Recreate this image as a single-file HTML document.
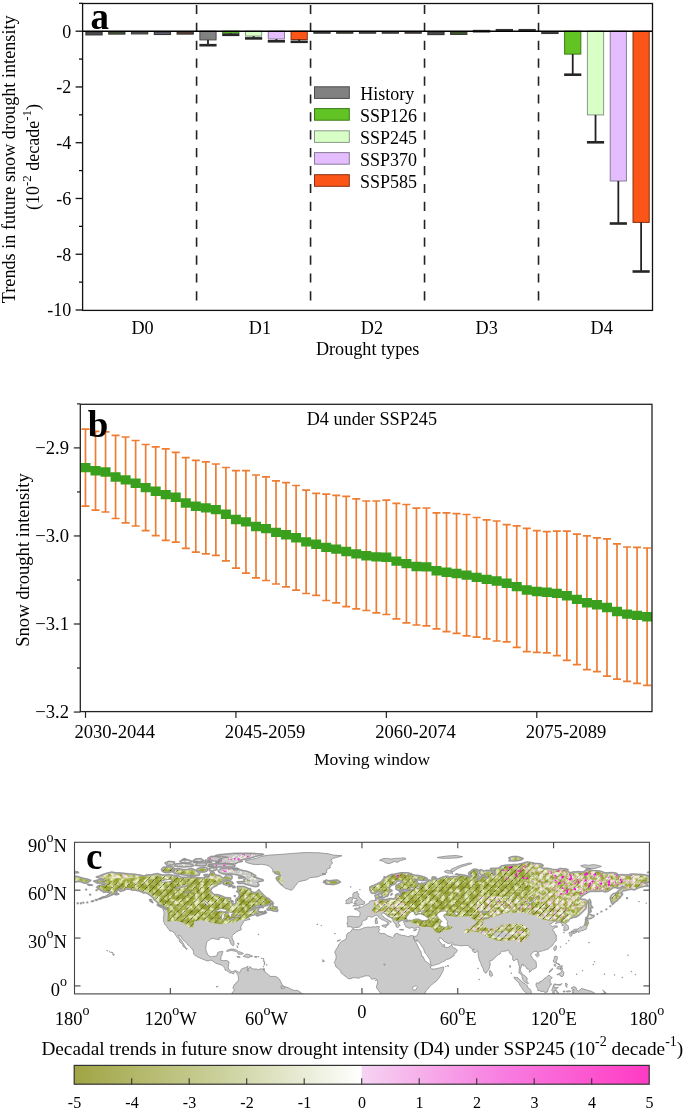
<!DOCTYPE html>
<html><head><meta charset="utf-8"><style>
html,body{margin:0;padding:0;background:#fff;}
body{width:685px;height:1111px;overflow:hidden;font-family:"Liberation Serif",serif;}
svg{display:block;will-change:transform;}
</style></head><body>
<svg width="685" height="1111" viewBox="0 0 685 1111">
<rect width="685" height="1111" fill="#fff"/>
<rect x="85.90" y="32.10" width="16.2" height="2.80" fill="#4c4c4c" stroke="#353535" stroke-width="1.1"/>
<rect x="108.70" y="32.10" width="16.2" height="2.00" fill="#42612e" stroke="#353535" stroke-width="1.1"/>
<rect x="131.50" y="32.10" width="16.2" height="1.80" fill="#677462" stroke="#353535" stroke-width="1.1"/>
<rect x="154.30" y="32.10" width="16.2" height="2.40" fill="#6b5f74" stroke="#353535" stroke-width="1.1"/>
<rect x="177.10" y="32.10" width="16.2" height="2.00" fill="#733e2a" stroke="#353535" stroke-width="1.1"/>
<rect x="199.88" y="31.20" width="16.2" height="8.70" fill="#808180" stroke="#4a4a4a" stroke-width="1"/>
<line x1="207.98" y1="39.90" x2="207.98" y2="45.20" stroke="#222" stroke-width="1.8"/>
<line x1="199.38" y1="45.20" x2="216.58" y2="45.20" stroke="#262626" stroke-width="2.6"/>
<rect x="222.68" y="31.20" width="16.2" height="2.00" fill="#62c424" stroke="#3a7a18" stroke-width="1"/>
<line x1="230.78" y1="33.20" x2="230.78" y2="34.80" stroke="#222" stroke-width="1.8"/>
<line x1="222.18" y1="34.80" x2="239.38" y2="34.80" stroke="#262626" stroke-width="2.6"/>
<rect x="245.48" y="31.20" width="16.2" height="4.90" fill="#d7ffc6" stroke="#8a9a88" stroke-width="1"/>
<line x1="253.58" y1="36.10" x2="253.58" y2="38.40" stroke="#222" stroke-width="1.8"/>
<line x1="244.98" y1="38.40" x2="262.18" y2="38.40" stroke="#262626" stroke-width="2.6"/>
<rect x="268.28" y="31.20" width="16.2" height="7.80" fill="#e3bdfd" stroke="#8a7a9a" stroke-width="1"/>
<line x1="276.38" y1="39.00" x2="276.38" y2="41.30" stroke="#222" stroke-width="1.8"/>
<line x1="267.78" y1="41.30" x2="284.98" y2="41.30" stroke="#262626" stroke-width="2.6"/>
<rect x="291.08" y="31.20" width="16.2" height="8.30" fill="#fb5518" stroke="#8a3010" stroke-width="1"/>
<line x1="299.18" y1="39.50" x2="299.18" y2="41.80" stroke="#222" stroke-width="1.8"/>
<line x1="290.58" y1="41.80" x2="307.78" y2="41.80" stroke="#262626" stroke-width="2.6"/>
<rect x="313.86" y="31.90" width="16.2" height="1.30" fill="#4c4c4c" stroke="#353535" stroke-width="1.1"/>
<rect x="336.66" y="31.90" width="16.2" height="1.30" fill="#42612e" stroke="#353535" stroke-width="1.1"/>
<rect x="359.46" y="31.90" width="16.2" height="1.30" fill="#677462" stroke="#353535" stroke-width="1.1"/>
<rect x="382.26" y="31.90" width="16.2" height="1.30" fill="#6b5f74" stroke="#353535" stroke-width="1.1"/>
<rect x="405.06" y="31.90" width="16.2" height="1.30" fill="#733e2a" stroke="#353535" stroke-width="1.1"/>
<rect x="427.84" y="31.90" width="16.2" height="2.70" fill="#4c4c4c" stroke="#353535" stroke-width="1.1"/>
<rect x="450.64" y="31.90" width="16.2" height="2.50" fill="#42612e" stroke="#353535" stroke-width="1.1"/>
<rect x="473.44" y="30.40" width="16.2" height="1.60" fill="#677462" stroke="#353535" stroke-width="1.1"/>
<rect x="496.24" y="29.50" width="16.2" height="1.20" fill="#6b5f74" stroke="#353535" stroke-width="1.1"/>
<rect x="519.04" y="29.50" width="16.2" height="1.20" fill="#733e2a" stroke="#353535" stroke-width="1.1"/>
<rect x="541.82" y="31.90" width="16.2" height="1.60" fill="#4c4c4c" stroke="#353535" stroke-width="1.1"/>
<rect x="564.62" y="31.20" width="16.2" height="22.90" fill="#62c424" stroke="#3a7a18" stroke-width="1"/>
<line x1="572.72" y1="54.10" x2="572.72" y2="74.70" stroke="#222" stroke-width="1.8"/>
<line x1="564.12" y1="74.70" x2="581.32" y2="74.70" stroke="#262626" stroke-width="2.6"/>
<rect x="587.42" y="31.20" width="16.2" height="83.70" fill="#d7ffc6" stroke="#8a9a88" stroke-width="1"/>
<line x1="595.52" y1="114.90" x2="595.52" y2="142.30" stroke="#222" stroke-width="1.8"/>
<line x1="586.92" y1="142.30" x2="604.12" y2="142.30" stroke="#262626" stroke-width="2.6"/>
<rect x="610.22" y="31.20" width="16.2" height="149.80" fill="#e3bdfd" stroke="#8a7a9a" stroke-width="1"/>
<line x1="618.32" y1="181.00" x2="618.32" y2="223.50" stroke="#222" stroke-width="1.8"/>
<line x1="609.72" y1="223.50" x2="626.92" y2="223.50" stroke="#262626" stroke-width="2.6"/>
<rect x="633.02" y="31.20" width="16.2" height="191.20" fill="#fb5518" stroke="#8a3010" stroke-width="1"/>
<line x1="641.12" y1="222.40" x2="641.12" y2="271.50" stroke="#222" stroke-width="1.8"/>
<line x1="632.52" y1="271.50" x2="649.72" y2="271.50" stroke="#262626" stroke-width="2.6"/>
<line x1="196.58" y1="4.9" x2="196.58" y2="302" stroke="#222" stroke-width="1.6" stroke-dasharray="9.2 8.7"/>
<line x1="310.56" y1="4.9" x2="310.56" y2="302" stroke="#222" stroke-width="1.6" stroke-dasharray="9.2 8.7"/>
<line x1="424.54" y1="4.9" x2="424.54" y2="302" stroke="#222" stroke-width="1.6" stroke-dasharray="9.2 8.7"/>
<line x1="538.52" y1="4.9" x2="538.52" y2="302" stroke="#222" stroke-width="1.6" stroke-dasharray="9.2 8.7"/>
<line x1="82.6" y1="31.2" x2="652.5" y2="31.2" stroke="#000" stroke-width="1.5"/>
<rect x="82.6" y="3.5" width="569.90" height="306.90" fill="none" stroke="#111" stroke-width="1.3"/>
<line x1="75.60" y1="310.00" x2="82.6" y2="310.00" stroke="#111" stroke-width="1.3"/>
<text x="71.3" y="316.40" text-anchor="end" font-size="18" font-family="'Liberation Serif', serif" fill="#000">-10</text>
<line x1="79.00" y1="282.12" x2="82.6" y2="282.12" stroke="#111" stroke-width="1.3"/>
<line x1="75.60" y1="254.24" x2="82.6" y2="254.24" stroke="#111" stroke-width="1.3"/>
<text x="71.3" y="260.64" text-anchor="end" font-size="18" font-family="'Liberation Serif', serif" fill="#000">-8</text>
<line x1="79.00" y1="226.36" x2="82.6" y2="226.36" stroke="#111" stroke-width="1.3"/>
<line x1="75.60" y1="198.48" x2="82.6" y2="198.48" stroke="#111" stroke-width="1.3"/>
<text x="71.3" y="204.88" text-anchor="end" font-size="18" font-family="'Liberation Serif', serif" fill="#000">-6</text>
<line x1="79.00" y1="170.60" x2="82.6" y2="170.60" stroke="#111" stroke-width="1.3"/>
<line x1="75.60" y1="142.72" x2="82.6" y2="142.72" stroke="#111" stroke-width="1.3"/>
<text x="71.3" y="149.12" text-anchor="end" font-size="18" font-family="'Liberation Serif', serif" fill="#000">-4</text>
<line x1="79.00" y1="114.84" x2="82.6" y2="114.84" stroke="#111" stroke-width="1.3"/>
<line x1="75.60" y1="86.96" x2="82.6" y2="86.96" stroke="#111" stroke-width="1.3"/>
<text x="71.3" y="93.36" text-anchor="end" font-size="18" font-family="'Liberation Serif', serif" fill="#000">-2</text>
<line x1="79.00" y1="59.08" x2="82.6" y2="59.08" stroke="#111" stroke-width="1.3"/>
<line x1="75.60" y1="31.20" x2="82.6" y2="31.20" stroke="#111" stroke-width="1.3"/>
<text x="71.3" y="37.60" text-anchor="end" font-size="18" font-family="'Liberation Serif', serif" fill="#000">0</text>
<line x1="79.00" y1="3.32" x2="82.6" y2="3.32" stroke="#111" stroke-width="1.3"/>
<text x="131.45" y="333.6" font-size="18.2" font-family="'Liberation Serif', serif" fill="#000">D0</text>
<text x="248.75" y="333.6" font-size="18.2" font-family="'Liberation Serif', serif" fill="#000">D1</text>
<text x="360.75" y="333.6" font-size="18.2" font-family="'Liberation Serif', serif" fill="#000">D2</text>
<text x="475.55" y="333.6" font-size="18.2" font-family="'Liberation Serif', serif" fill="#000">D3</text>
<text x="590.55" y="333.6" font-size="18.2" font-family="'Liberation Serif', serif" fill="#000">D4</text>
<text x="315.9" y="355" font-size="18.2" font-family="'Liberation Serif', serif" fill="#000">Drought types</text>
<text transform="translate(15,159.3) rotate(-90)" text-anchor="middle" font-size="18.2" font-family="'Liberation Serif', serif" fill="#000">Trends in future snow drought intensity</text>
<text transform="translate(39,157) rotate(-90)" text-anchor="middle" font-size="18" font-family="'Liberation Serif', serif" fill="#000">(10<tspan dy="-8.5" font-size="13">-2</tspan><tspan dy="8.5"> decade</tspan><tspan dy="-8.5" font-size="13">-1</tspan><tspan dy="8.5">)</tspan></text>
<text x="90.6" y="28.8" font-size="37" font-weight="bold" font-family="'Liberation Serif', serif" fill="#000">a</text>
<rect x="314.5" y="86.8" width="34.8" height="11.6" fill="#808180" stroke="#4a4a4a" stroke-width="1"/>
<text x="360.2" y="99.7" font-size="18" font-family="'Liberation Serif', serif" fill="#000">History</text>
<rect x="314.5" y="108.6" width="34.8" height="11.6" fill="#62c424" stroke="#3a7a18" stroke-width="1"/>
<text x="359.9" y="121.5" font-size="18" font-family="'Liberation Serif', serif" fill="#000">SSP126</text>
<rect x="314.5" y="130.8" width="34.8" height="11.6" fill="#d7ffc6" stroke="#8a9a88" stroke-width="1"/>
<text x="359.9" y="143.7" font-size="18" font-family="'Liberation Serif', serif" fill="#000">SSP245</text>
<rect x="314.5" y="152.6" width="34.8" height="11.6" fill="#e3bdfd" stroke="#8a7a9a" stroke-width="1"/>
<text x="359.9" y="165.5" font-size="18" font-family="'Liberation Serif', serif" fill="#000">SSP370</text>
<rect x="314.5" y="174.7" width="34.8" height="11.6" fill="#fb5518" stroke="#8a3010" stroke-width="1"/>
<text x="359.9" y="187.6" font-size="18" font-family="'Liberation Serif', serif" fill="#000">SSP585</text>
<clipPath id="cb"><rect x="80.3" y="404.3" width="571.70" height="307.30"/></clipPath>
<g clip-path="url(#cb)"><path d="M85.50 429.10V506.20M81.50 429.10h8M81.50 506.20h8M95.53 431.40V510.20M91.53 431.40h8M91.53 510.20h8M105.56 431.90V512.00M101.56 431.90h8M101.56 512.00h8M115.59 435.40V518.50M111.59 435.40h8M111.59 518.50h8M125.61 437.00V522.80M121.61 437.00h8M121.61 522.80h8M135.64 440.50V526.00M131.64 440.50h8M131.64 526.00h8M145.67 444.50V530.70M141.67 444.50h8M141.67 530.70h8M155.70 446.80V535.60M151.70 446.80h8M151.70 535.60h8M165.73 448.90V540.40M161.73 448.90h8M161.73 540.40h8M175.76 452.40V542.10M171.76 452.40h8M171.76 542.10h8M185.79 457.70V548.40M181.79 457.70h8M181.79 548.40h8M195.81 460.40V552.20M191.81 460.40h8M191.81 552.20h8M205.84 461.90V553.90M201.84 461.90h8M201.84 553.90h8M215.87 464.00V555.30M211.87 464.00h8M211.87 555.30h8M225.90 467.50V560.90M221.90 467.50h8M221.90 560.90h8M235.93 470.70V568.20M231.93 470.70h8M231.93 568.20h8M245.96 470.70V573.10M241.96 470.70h8M241.96 573.10h8M255.99 475.00V577.90M251.99 475.00h8M251.99 577.90h8M266.01 476.80V580.50M262.01 476.80h8M262.01 580.50h8M276.04 480.80V584.00M272.04 480.80h8M272.04 584.00h8M286.07 482.60V586.80M282.07 482.60h8M282.07 586.80h8M296.10 485.50V590.10M292.10 485.50h8M292.10 590.10h8M306.13 490.20V593.50M302.13 490.20h8M302.13 593.50h8M316.16 493.30V595.30M312.16 493.30h8M312.16 595.30h8M326.19 494.20V600.50M322.19 494.20h8M322.19 600.50h8M336.21 495.40V602.80M332.21 495.40h8M332.21 602.80h8M346.24 496.30V606.70M342.24 496.30h8M342.24 606.70h8M356.27 498.90V608.80M352.27 498.90h8M352.27 608.80h8M366.30 501.00V610.50M362.30 501.00h8M362.30 610.50h8M376.33 501.00V612.80M372.33 501.00h8M372.33 612.80h8M386.36 500.10V614.50M382.36 500.10h8M382.36 614.50h8M396.39 503.30V618.90M392.39 503.30h8M392.39 618.90h8M406.41 504.50V622.80M402.41 504.50h8M402.41 622.80h8M416.44 508.10V625.00M412.44 508.10h8M412.44 625.00h8M426.47 508.00V625.80M422.47 508.00h8M422.47 625.80h8M436.50 512.80V628.80M432.50 512.80h8M432.50 628.80h8M446.53 512.80V631.60M442.53 512.80h8M442.53 631.60h8M456.56 513.70V633.30M452.56 513.70h8M452.56 633.30h8M466.59 514.50V635.80M462.59 514.50h8M462.59 635.80h8M476.61 517.50V637.20M472.61 517.50h8M472.61 637.20h8M486.64 519.80V638.90M482.64 519.80h8M482.64 638.90h8M496.67 521.00V641.00M492.67 521.00h8M492.67 641.00h8M506.70 524.70V641.90M502.70 524.70h8M502.70 641.90h8M516.73 525.90V647.30M512.73 525.90h8M512.73 647.30h8M526.76 528.40V651.60M522.76 528.40h8M522.76 651.60h8M536.79 530.70V652.30M532.79 530.70h8M532.79 652.30h8M546.81 531.70V652.90M542.81 531.70h8M542.81 652.90h8M556.84 531.10V655.70M552.84 531.10h8M552.84 655.70h8M566.87 531.10V660.40M562.87 531.10h8M562.87 660.40h8M576.90 534.10V664.70M572.90 534.10h8M572.90 664.70h8M586.93 535.80V669.60M582.93 535.80h8M582.93 669.60h8M596.96 537.80V671.70M592.96 537.80h8M592.96 671.70h8M606.99 538.80V676.20M602.99 538.80h8M602.99 676.20h8M617.01 543.90V679.20M613.01 543.90h8M613.01 679.20h8M627.04 547.00V681.30M623.04 547.00h8M623.04 681.30h8M637.07 547.40V683.30M633.07 547.40h8M633.07 683.30h8M647.10 548.00V685.40M643.10 548.00h8M643.10 685.40h8" stroke="#ee7d31" stroke-width="1.7" fill="none"/>
<path d="M80.50 462.95h10v9.4h-10zM90.53 466.10h10v9.4h-10zM100.56 467.25h10v9.4h-10zM110.59 472.25h10v9.4h-10zM120.61 475.20h10v9.4h-10zM130.64 478.55h10v9.4h-10zM140.67 482.90h10v9.4h-10zM150.70 486.50h10v9.4h-10zM160.73 489.95h10v9.4h-10zM170.76 492.55h10v9.4h-10zM180.79 498.35h10v9.4h-10zM190.81 501.60h10v9.4h-10zM200.84 503.20h10v9.4h-10zM210.87 504.95h10v9.4h-10zM220.90 509.50h10v9.4h-10zM230.93 514.75h10v9.4h-10zM240.96 517.20h10v9.4h-10zM250.99 521.75h10v9.4h-10zM261.01 523.95h10v9.4h-10zM271.04 527.70h10v9.4h-10zM281.07 530.00h10v9.4h-10zM291.10 533.10h10v9.4h-10zM301.13 537.15h10v9.4h-10zM311.16 539.60h10v9.4h-10zM321.19 542.65h10v9.4h-10zM331.21 544.40h10v9.4h-10zM341.24 546.80h10v9.4h-10zM351.27 549.15h10v9.4h-10zM361.30 551.05h10v9.4h-10zM371.33 552.20h10v9.4h-10zM381.36 552.60h10v9.4h-10zM391.39 556.40h10v9.4h-10zM401.41 558.95h10v9.4h-10zM411.44 561.85h10v9.4h-10zM421.47 562.20h10v9.4h-10zM431.50 566.10h10v9.4h-10zM441.53 567.50h10v9.4h-10zM451.56 568.80h10v9.4h-10zM461.59 570.45h10v9.4h-10zM471.61 572.65h10v9.4h-10zM481.64 574.65h10v9.4h-10zM491.67 576.30h10v9.4h-10zM501.70 578.60h10v9.4h-10zM511.73 581.90h10v9.4h-10zM521.76 585.30h10v9.4h-10zM531.79 586.80h10v9.4h-10zM541.81 587.60h10v9.4h-10zM551.84 588.70h10v9.4h-10zM561.87 591.05h10v9.4h-10zM571.90 594.70h10v9.4h-10zM581.93 598.00h10v9.4h-10zM591.96 600.05h10v9.4h-10zM601.99 602.80h10v9.4h-10zM612.01 606.85h10v9.4h-10zM622.04 609.45h10v9.4h-10zM632.07 610.65h10v9.4h-10zM642.10 612.00h10v9.4h-10z" fill="#3a9f1d"/></g>
<rect x="80.3" y="404.3" width="571.70" height="307.30" fill="none" stroke="#222" stroke-width="1.3"/>
<line x1="77.00" y1="403.88" x2="80.3" y2="403.88" stroke="#222" stroke-width="1.2"/>
<line x1="73.80" y1="447.90" x2="80.3" y2="447.90" stroke="#222" stroke-width="1.2"/>
<text x="69" y="453.90" text-anchor="end" font-size="18.6" font-family="'Liberation Serif', serif" fill="#000">−2.9</text>
<line x1="77.00" y1="491.93" x2="80.3" y2="491.93" stroke="#222" stroke-width="1.2"/>
<line x1="73.80" y1="535.95" x2="80.3" y2="535.95" stroke="#222" stroke-width="1.2"/>
<text x="69" y="541.95" text-anchor="end" font-size="18.6" font-family="'Liberation Serif', serif" fill="#000">−3.0</text>
<line x1="77.00" y1="579.98" x2="80.3" y2="579.98" stroke="#222" stroke-width="1.2"/>
<line x1="73.80" y1="624.00" x2="80.3" y2="624.00" stroke="#222" stroke-width="1.2"/>
<text x="69" y="630.00" text-anchor="end" font-size="18.6" font-family="'Liberation Serif', serif" fill="#000">−3.1</text>
<line x1="77.00" y1="668.03" x2="80.3" y2="668.03" stroke="#222" stroke-width="1.2"/>
<line x1="73.80" y1="712.05" x2="80.3" y2="712.05" stroke="#222" stroke-width="1.2"/>
<text x="69" y="718.05" text-anchor="end" font-size="18.6" font-family="'Liberation Serif', serif" fill="#000">−3.2</text>
<line x1="85.50" y1="711.6" x2="85.50" y2="717.90" stroke="#222" stroke-width="1.2"/>
<text x="74.40" y="738" font-size="18.6" font-family="'Liberation Serif', serif" fill="#000">2030-2044</text>
<line x1="235.93" y1="711.6" x2="235.93" y2="717.90" stroke="#222" stroke-width="1.2"/>
<text x="224.83" y="738" font-size="18.6" font-family="'Liberation Serif', serif" fill="#000">2045-2059</text>
<line x1="386.36" y1="711.6" x2="386.36" y2="717.90" stroke="#222" stroke-width="1.2"/>
<text x="375.26" y="738" font-size="18.6" font-family="'Liberation Serif', serif" fill="#000">2060-2074</text>
<line x1="536.79" y1="711.6" x2="536.79" y2="717.90" stroke="#222" stroke-width="1.2"/>
<text x="525.69" y="738" font-size="18.6" font-family="'Liberation Serif', serif" fill="#000">2075-2089</text>
<text x="314" y="765.3" font-size="17.5" font-family="'Liberation Serif', serif" fill="#000">Moving window</text>
<text x="306.7" y="424.6" font-size="18.2" font-family="'Liberation Serif', serif" fill="#000">D4 under SSP245</text>
<text transform="translate(28.7,560) rotate(-90)" text-anchor="middle" font-size="18.6" font-family="'Liberation Serif', serif" fill="#000">Snow drought intensity</text>
<text x="87.7" y="436.7" font-size="37" font-weight="bold" font-family="'Liberation Serif', serif" fill="#000">b</text>
<line x1="74.5" y1="890.17" x2="80.5" y2="890.17" stroke="#444" stroke-width="1.1"/>
<line x1="643.4" y1="890.17" x2="649.4" y2="890.17" stroke="#444" stroke-width="1.1"/>
<line x1="74.5" y1="938.05" x2="80.5" y2="938.05" stroke="#444" stroke-width="1.1"/>
<line x1="643.4" y1="938.05" x2="649.4" y2="938.05" stroke="#444" stroke-width="1.1"/>
<line x1="74.5" y1="985.92" x2="80.5" y2="985.92" stroke="#444" stroke-width="1.1"/>
<line x1="643.4" y1="985.92" x2="649.4" y2="985.92" stroke="#444" stroke-width="1.1"/>
<line x1="170.32" y1="993.9" x2="170.32" y2="987.9" stroke="#444" stroke-width="1.1"/>
<line x1="170.32" y1="842.3" x2="170.32" y2="848.3" stroke="#444" stroke-width="1.1"/>
<line x1="266.13" y1="993.9" x2="266.13" y2="987.9" stroke="#444" stroke-width="1.1"/>
<line x1="266.13" y1="842.3" x2="266.13" y2="848.3" stroke="#444" stroke-width="1.1"/>
<line x1="361.95" y1="993.9" x2="361.95" y2="987.9" stroke="#444" stroke-width="1.1"/>
<line x1="361.95" y1="842.3" x2="361.95" y2="848.3" stroke="#444" stroke-width="1.1"/>
<line x1="457.77" y1="993.9" x2="457.77" y2="987.9" stroke="#444" stroke-width="1.1"/>
<line x1="457.77" y1="842.3" x2="457.77" y2="848.3" stroke="#444" stroke-width="1.1"/>
<line x1="553.58" y1="993.9" x2="553.58" y2="987.9" stroke="#444" stroke-width="1.1"/>
<line x1="553.58" y1="842.3" x2="553.58" y2="848.3" stroke="#444" stroke-width="1.1"/>
<clipPath id="cm"><rect x="74.5" y="842.3" width="574.90" height="151.60"/></clipPath>
<clipPath id="cland"><path d="M93.7 881.2L96.9 880.3L100.1 879.6L103.2 880.4L104.0 879.6L100.4 878.5L96.4 876.9L99.3 876.0L102.0 874.9L106.4 873.3L111.7 872.1L116.0 872.8L119.2 872.9L124.0 873.4L128.8 873.9L133.6 874.1L136.8 874.7L140.0 875.0L144.0 876.0L147.2 874.9L151.2 874.9L154.3 874.1L157.5 873.6L159.1 874.2L162.3 875.0L164.7 875.2L168.7 874.5L173.5 875.5L178.3 876.0L181.5 877.4L186.3 877.4L189.5 876.8L192.7 876.0L195.9 877.4L200.7 877.9L204.7 877.7L205.4 876.5L208.6 877.1L209.4 874.9L211.4 871.3L214.1 872.6L214.2 874.2L217.4 875.3L219.5 875.5L221.4 876.9L223.8 878.4L225.4 876.3L227.0 874.5L230.2 874.9L232.1 876.3L231.8 878.7L229.4 880.3L225.4 879.8L223.3 880.6L222.4 881.7L220.6 883.5L218.2 884.0L216.9 885.5L213.1 887.3L211.4 888.7L210.6 891.0L211.5 892.2L214.2 894.6L217.4 894.6L221.4 895.8L225.4 897.7L230.5 898.0L230.7 900.5L231.8 902.6L233.9 904.1L235.8 903.6L236.1 902.1L235.8 899.4L238.5 897.2L239.6 895.3L239.1 893.7L238.2 892.2L236.6 891.5L238.5 890.0L237.7 888.3L237.4 886.5L240.6 886.5L244.6 886.7L247.8 888.3L250.5 888.7L251.0 891.3L252.6 892.2L254.6 892.7L256.6 892.1L258.1 890.5L258.9 889.7L259.7 891.1L262.1 893.4L263.7 895.1L266.1 897.4L269.3 899.0L270.6 900.5L272.8 902.3L272.0 903.6L270.1 903.9L266.9 905.5L263.7 906.0L260.5 905.8L256.6 905.8L254.5 907.2L252.2 908.7L249.8 910.6L251.0 910.3L253.4 908.8L256.6 907.6L259.3 907.9L258.3 909.6L257.4 910.8L258.6 911.4L259.7 912.4L262.9 913.0L264.5 913.5L266.1 912.7L265.3 911.1L266.3 912.7L264.2 913.6L260.5 914.7L257.0 916.3L256.2 915.2L258.6 913.6L255.8 913.8L253.7 914.9L251.8 915.7L249.7 916.3L249.0 917.5L249.0 918.6L250.2 919.2L249.0 919.7L247.0 920.0L244.1 920.8L243.6 921.6L243.3 922.9L242.2 923.8L242.0 924.8L240.7 926.7L240.9 928.2L241.4 929.6L240.1 930.2L238.2 931.0L236.6 931.8L235.3 932.9L233.6 934.2L232.3 935.5L232.0 937.3L232.6 939.2L233.4 940.8L234.0 942.8L234.0 944.8L233.4 945.7L232.4 945.5L231.3 944.3L230.7 943.0L229.9 941.4L229.7 939.8L228.8 938.7L227.3 938.0L225.6 938.5L223.8 937.4L221.4 937.4L219.3 937.6L219.2 939.0L219.3 939.6L218.1 939.5L216.3 939.2L214.2 938.7L212.2 938.5L210.7 939.0L209.4 940.0L207.7 941.1L206.6 942.4L206.4 944.4L205.9 946.8L205.8 950.0L206.6 952.1L207.8 954.8L209.0 955.9L210.9 956.9L212.6 956.6L215.0 956.2L216.3 956.1L217.1 955.0L217.6 952.7L219.0 951.9L221.4 951.5L223.0 951.6L222.2 953.7L221.7 955.8L221.1 956.7L220.9 958.5L220.6 960.1L221.9 960.5L223.8 960.7L226.2 960.4L227.8 961.0L229.1 962.0L228.6 964.4L228.4 966.5L228.1 967.9L229.1 969.3L230.2 970.9L232.0 971.9L233.7 971.2L235.0 970.6L236.6 970.9L238.5 972.2L239.5 973.0L240.3 971.2L241.2 969.6L241.9 968.7L243.3 968.2L244.9 967.9L246.7 966.9L248.1 966.1L247.4 967.6L247.8 968.7L247.1 970.0L247.6 971.1L248.6 970.9L247.9 969.5L248.1 968.4L249.8 967.6L250.2 966.5L250.5 967.7L252.4 968.4L253.0 969.0L255.0 969.0L256.6 969.0L258.1 969.8L259.4 969.2L261.3 968.8L262.6 969.0L263.3 969.8L264.5 970.3L264.7 971.6L266.1 972.5L267.4 973.8L268.7 975.1L270.1 976.3L272.2 976.5L274.1 976.3L275.9 976.7L277.6 977.5L279.4 979.1L280.2 980.7L281.3 982.9L282.1 984.3L282.4 985.9L284.5 986.9L286.1 987.0L288.5 987.8L290.7 989.0L292.5 989.9L295.2 990.5L297.6 990.4L299.7 991.8L301.6 993.3L303.5 994.1L305.3 994.4L306.1 998.7L231.8 998.7L232.3 995.7L232.8 994.5L232.1 992.8L233.4 991.3L234.4 989.9L232.8 988.0L233.6 986.4L234.2 984.6L235.8 983.5L236.3 982.3L237.9 981.5L238.5 979.7L238.3 977.1L238.2 975.2L237.1 974.3L236.7 973.0L235.6 971.6L234.8 971.9L233.7 973.0L233.6 974.1L232.4 973.5L231.3 972.8L229.6 973.0L228.3 971.6L226.7 970.6L225.1 970.1L224.9 968.5L223.7 966.8L222.2 965.3L221.1 964.9L219.3 964.4L217.3 963.7L215.4 963.1L213.8 961.7L212.0 960.5L210.7 960.1L208.8 960.7L207.4 960.9L204.7 959.9L202.6 959.1L199.9 958.0L197.8 957.0L196.5 956.2L194.9 955.3L193.5 954.0L193.6 952.4L193.3 951.0L192.4 949.2L190.4 947.1L189.2 945.7L187.6 944.8L187.2 943.5L185.5 942.0L184.5 941.2L182.8 939.6L181.8 938.0L181.2 936.5L179.7 935.7L178.6 935.2L178.9 936.8L179.4 938.0L180.7 939.3L181.7 940.6L182.6 942.5L183.7 944.0L184.5 945.7L185.3 947.1L186.4 947.8L187.2 949.1L186.3 949.4L185.8 948.4L184.1 947.0L182.9 946.3L182.8 944.4L181.2 943.2L179.7 942.0L179.4 941.2L179.7 940.3L178.5 938.8L177.2 937.6L176.4 936.5L175.6 935.0L174.9 933.9L174.6 932.9L173.0 932.0L172.6 931.5L171.1 931.0L169.5 930.9L169.2 929.6L167.4 928.0L167.3 927.0L166.3 926.1L165.7 925.3L164.4 923.8L164.2 922.4L163.4 921.5L163.8 919.9L163.3 917.9L163.8 916.2L163.9 914.1L164.1 912.2L163.8 911.1L163.0 909.5L162.8 908.7L165.2 909.0L166.2 910.0L166.5 908.8L165.8 907.7L164.2 906.8L162.3 906.1L160.7 905.3L158.5 904.5L157.7 902.9L156.7 901.7L155.1 900.4L153.7 899.3L153.4 897.8L151.6 896.7L150.4 895.3L148.8 894.5L147.2 893.2L145.2 892.6L143.6 893.0L142.2 892.2L140.1 891.1L137.6 890.7L135.8 890.2L132.8 890.2L130.4 889.5L128.0 888.9L125.8 889.1L124.5 890.2L122.7 890.7L120.2 891.5L119.4 890.5L120.3 889.1L121.9 888.3L119.5 888.7L118.7 889.7L117.3 890.8L115.9 891.8L116.8 892.4L115.5 893.2L113.9 893.8L112.3 894.8L110.1 895.6L108.5 896.4L106.6 897.2L104.0 897.5L101.8 898.3L99.7 898.8L98.6 899.0L100.5 898.0L102.8 897.0L105.2 896.6L107.4 895.3L109.3 894.0L110.3 892.9L111.2 892.1L109.2 892.2L106.9 892.1L105.3 891.9L103.6 892.4L103.2 891.3L100.8 890.5L99.7 889.4L98.1 889.1L98.1 887.9L96.7 887.3L97.7 886.3L99.1 885.4L101.3 885.2L102.9 884.6L104.8 884.4L105.2 883.3L104.0 882.8L102.0 883.2L100.4 882.8L98.5 883.0L96.4 882.8L95.6 882.0L93.7 881.2ZM245.4 860.8L250.2 859.5L256.6 858.3L261.3 856.3L269.3 855.1L282.1 854.3L291.7 853.5L306.1 852.5L318.8 852.8L328.4 853.8L333.2 855.1L342.0 855.7L338.0 857.0L333.2 858.3L330.8 859.9L331.6 861.4L332.7 863.0L330.8 864.6L330.0 866.2L330.3 867.8L326.8 869.4L326.5 871.0L326.8 872.6L325.2 873.4L322.0 873.7L326.0 874.2L321.2 875.3L318.0 876.8L314.0 877.2L310.0 877.6L308.5 878.7L306.1 880.1L302.1 880.9L298.9 881.7L297.3 883.0L296.5 884.6L294.9 886.2L293.6 888.3L292.5 889.7L290.4 890.2L288.5 889.2L285.3 888.3L283.2 886.7L281.8 884.9L280.0 883.3L278.6 881.6L277.0 880.0L276.2 878.2L277.3 876.9L280.5 876.0L280.2 874.9L278.1 874.4L274.9 873.4L275.7 872.6L273.3 871.7L272.8 870.1L271.7 868.2L269.3 866.2L266.1 865.0L261.3 864.3L255.8 864.6L252.6 864.2L247.8 863.0L245.7 862.1L245.4 860.8ZM258.1 886.2L255.8 886.7L252.6 886.2L249.4 885.1L246.2 884.4L243.0 883.2L238.2 883.3L237.1 881.9L240.6 881.6L244.6 881.4L243.8 879.8L245.7 878.7L244.6 877.1L240.6 875.8L237.4 874.9L233.4 874.2L229.4 873.9L224.6 874.2L221.4 873.3L219.0 872.1L218.2 871.0L219.8 869.4L221.4 868.5L225.4 868.2L231.0 868.2L235.8 868.6L239.0 869.7L242.2 870.4L247.0 871.3L250.2 872.6L252.6 873.6L254.2 874.9L255.8 875.8L253.4 876.9L256.6 877.7L260.5 879.0L262.9 879.6L263.3 880.6L261.3 881.2L258.9 881.6L257.4 882.5L258.1 883.8L258.9 884.9L258.1 886.2ZM234.2 864.0L227.8 863.5L219.8 863.2L217.4 862.4L220.6 861.1L218.2 859.9L223.0 857.9L227.8 857.3L221.4 856.3L215.0 855.9L218.2 854.9L226.2 854.1L234.2 853.5L243.8 853.3L253.4 853.5L262.9 854.1L263.7 854.7L258.9 855.7L254.2 857.0L250.2 858.1L246.2 858.9L241.4 859.9L239.8 860.8L242.2 861.4L237.7 862.2L236.9 863.0ZM218.5 861.4L213.4 860.8L209.4 860.0L207.8 858.3L211.0 856.5L216.6 856.5L219.8 857.8L221.7 859.2L220.1 860.5ZM208.6 865.6L214.2 866.9L224.6 867.0L234.2 867.0L235.0 865.4L231.0 864.2L221.4 863.8L215.0 863.7L208.6 864.6ZM173.0 871.8L174.3 873.3L178.3 874.1L183.1 874.9L189.5 875.5L194.3 875.5L199.1 875.2L199.9 873.7L198.3 872.3L195.1 870.1L191.9 868.5L187.9 869.4L183.1 869.6L178.3 868.5L173.5 869.1L172.6 870.2ZM162.2 871.3L164.7 872.5L170.3 872.1L174.3 871.3L174.6 868.6L172.7 867.0L168.7 866.6L163.1 867.4L161.5 869.4ZM174.3 865.8L175.9 863.8L181.5 863.4L186.3 863.4L192.7 864.3L193.5 865.8L189.5 866.6L183.1 866.9L178.3 866.4ZM165.0 863.0L168.7 861.4L174.3 861.8L174.6 863.4L171.9 865.0L167.1 865.4ZM195.1 865.4L202.3 865.9L206.2 865.3L206.7 863.4L203.9 862.6L197.5 863.0ZM207.8 866.2L212.6 866.7L213.4 865.4L210.2 864.6ZM196.7 870.2L199.9 871.8L203.9 872.1L207.0 871.0L207.8 868.6L205.4 867.5L200.7 867.8L197.5 868.6ZM209.4 870.7L213.4 871.0L216.9 869.4L216.6 867.7L212.6 867.5L209.4 868.2ZM208.6 876.5L204.7 876.0L203.9 874.9L207.0 874.4L209.0 875.2ZM233.4 883.5L230.2 884.4L226.2 885.1L223.0 883.8L223.8 881.9L226.2 880.9L228.6 880.6L231.8 881.7ZM192.7 861.1L200.7 861.8L203.9 860.7L200.7 858.6L195.1 859.2ZM232.6 886.0L228.6 886.7L229.4 885.5L231.8 885.4ZM323.6 881.4L326.3 880.1L329.2 880.9L333.2 880.3L337.2 880.1L338.8 880.9L340.4 881.9L338.8 883.0L336.4 883.8L333.2 884.7L330.0 884.4L326.0 884.1L326.8 883.3L323.6 882.5L326.0 882.0ZM267.3 910.0L270.9 910.0L273.3 910.9L277.3 911.4L277.8 910.0L276.5 909.0L277.3 907.2L273.6 906.8L272.5 904.9L273.3 903.6L271.2 904.1L270.1 905.8L268.7 907.6L267.3 908.7ZM165.0 908.8L162.7 908.2L158.5 905.8L157.1 904.9L159.1 905.2L162.3 906.3L163.9 907.4ZM152.8 902.6L150.4 901.3L149.6 899.6L151.2 899.7L152.0 901.3ZM226.4 951.0L227.8 949.9L231.0 949.1L233.4 949.1L236.6 950.2L238.7 951.5L241.1 952.3L243.5 953.5L242.2 954.2L238.2 954.2L238.0 952.9L236.4 951.6L233.4 950.8L231.3 950.5L229.4 950.8L227.2 951.6ZM243.1 956.6L245.7 954.2L247.8 954.2L250.5 955.1L252.7 956.2L250.3 956.9L247.9 957.8L245.7 956.9ZM236.9 956.6L239.1 956.6L240.3 957.2L238.7 957.5L236.9 956.9ZM254.6 956.4L257.2 956.6L257.0 957.2L254.6 957.2ZM263.1 968.7L264.5 968.7L264.5 969.8L263.1 969.8ZM237.4 943.2L239.0 943.5L238.5 944.8ZM237.1 945.7L237.9 947.1L237.4 947.6ZM112.8 953.7L114.4 954.3L113.6 955.6L112.8 954.8ZM109.2 951.5L110.1 951.9L109.5 952.1ZM353.0 928.5L351.9 927.2L350.1 926.6L347.7 926.9L347.9 924.8L346.8 924.0L347.6 922.1L347.9 920.2L347.7 918.3L347.1 917.1L349.2 916.2L352.4 916.3L355.6 916.7L358.8 916.8L359.6 916.5L360.0 914.4L360.0 912.5L358.6 910.9L357.5 910.1L354.9 909.5L354.4 908.5L356.8 908.0L359.4 908.2L358.9 906.6L360.0 907.1L361.6 907.2L362.7 906.5L364.5 905.7L365.9 904.4L367.5 903.9L368.7 903.3L369.5 901.5L370.7 900.9L373.1 900.5L375.2 900.4L376.0 899.7L375.7 898.0L374.9 896.7L375.0 895.3L377.1 894.6L378.9 893.8L378.6 895.8L379.2 896.2L378.1 897.4L377.6 898.5L379.4 899.1L379.8 899.7L381.9 899.1L383.7 899.6L384.8 899.9L386.7 899.4L388.8 898.8L391.3 898.5L393.1 899.1L394.7 898.3L395.8 897.0L395.6 895.1L396.4 894.3L398.0 893.8L399.2 894.8L400.4 894.8L400.9 892.9L399.5 892.2L399.5 891.5L401.9 891.0L404.9 891.0L406.7 891.0L409.1 890.3L410.2 890.3L408.3 889.9L405.1 889.4L401.9 889.9L398.7 890.3L396.1 889.2L396.1 887.5L395.8 886.0L397.4 884.7L399.5 883.6L401.2 882.5L402.5 881.9L401.2 880.9L398.7 880.9L397.1 881.4L396.0 882.4L395.6 883.5L393.9 884.4L392.3 884.9L390.7 885.9L389.7 887.0L389.4 888.6L389.4 889.4L391.3 889.9L392.1 890.7L391.0 891.3L389.1 892.4L388.5 893.8L388.1 895.6L387.2 896.4L385.3 896.4L384.6 897.5L382.6 897.5L382.1 896.6L382.1 895.4L380.8 894.0L379.8 892.7L379.4 891.6L378.7 891.0L378.2 891.8L377.1 892.1L375.2 893.2L373.1 893.4L371.1 892.6L370.7 891.5L369.9 889.9L369.8 888.6L369.9 887.0L371.5 886.2L373.9 885.4L375.5 884.6L377.1 884.0L379.2 882.8L381.1 881.9L382.1 880.6L383.5 879.0L385.1 877.7L386.7 876.9L388.0 876.0L389.9 875.2L392.0 874.4L394.7 874.2L397.1 873.6L399.5 873.1L401.9 872.5L404.6 872.6L407.5 872.6L409.9 873.3L411.5 873.7L410.2 874.5L412.3 874.5L414.6 875.2L417.8 875.5L421.0 876.1L423.4 876.9L425.8 877.7L427.4 878.7L427.7 879.8L425.8 880.3L422.6 880.6L419.4 880.1L417.0 879.6L414.6 879.3L414.0 880.0L417.0 880.8L417.5 882.4L417.8 883.3L420.2 883.8L421.8 883.0L421.8 884.0L424.2 883.0L426.1 882.8L426.6 881.9L429.0 880.1L431.4 880.3L432.5 879.6L431.9 878.5L432.5 876.9L435.4 877.2L436.2 877.9L434.6 878.5L437.0 879.3L440.2 878.2L443.4 876.9L447.4 876.1L449.0 877.1L451.4 876.6L454.6 876.3L457.0 876.8L458.6 875.8L459.0 874.5L462.6 875.0L465.4 875.5L468.1 876.1L470.5 876.9L472.1 876.0L471.0 874.9L468.9 874.5L468.6 873.3L469.3 872.3L471.3 871.0L472.5 869.6L475.3 869.1L478.2 869.9L477.9 871.2L476.9 872.3L478.2 873.4L477.9 875.0L479.5 876.6L478.5 878.0L476.9 879.2L476.3 880.0L477.9 879.6L480.1 878.4L481.2 876.9L480.9 876.1L484.1 876.0L485.7 876.6L485.6 877.7L487.6 878.0L485.7 877.1L486.0 876.0L483.3 875.3L481.7 874.9L479.8 873.7L479.5 872.6L480.1 871.7L479.0 870.7L480.9 869.6L482.5 870.4L483.3 871.2L485.9 870.5L487.8 870.5L490.8 870.2L491.3 871.5L493.7 872.6L494.5 873.9L493.4 875.3L495.3 874.5L494.7 872.9L495.3 871.8L492.9 870.7L490.8 869.6L490.7 868.5L493.7 868.3L496.9 868.2L500.2 868.0L500.1 866.9L501.5 866.1L504.1 865.4L507.3 865.1L511.3 864.8L514.5 864.5L517.7 864.6L520.0 863.8L523.2 863.2L524.8 862.4L528.0 861.9L531.2 862.4L533.5 863.0L532.5 863.8L535.2 863.5L539.2 863.5L542.1 864.3L543.2 865.3L542.4 866.4L540.8 867.4L542.4 868.2L545.6 868.3L548.8 868.5L552.0 869.3L555.2 869.6L558.4 869.3L560.0 868.3L563.2 868.6L565.6 868.9L568.0 869.6L567.2 870.5L568.8 872.1L571.1 872.9L573.2 871.8L575.1 872.0L578.3 871.7L581.5 872.0L583.9 871.7L585.5 870.5L587.1 870.1L589.5 869.9L593.5 870.4L596.7 870.5L599.9 871.0L602.3 871.8L604.7 872.8L607.9 872.8L611.1 872.6L614.3 872.8L617.1 873.6L617.1 874.5L619.1 875.0L622.3 874.7L625.4 874.9L628.6 874.9L631.0 874.2L633.7 874.1L637.4 874.4L641.4 874.5L644.6 874.9L647.0 875.3L649.4 876.0L649.4 882.2L647.0 882.8L645.1 882.5L643.8 882.8L645.6 883.3L647.2 884.6L648.1 886.0L644.6 886.2L641.4 887.0L639.5 887.5L636.6 888.7L634.2 889.9L632.6 889.4L630.2 889.4L627.4 889.9L625.4 890.5L623.2 890.5L622.6 891.5L620.7 892.9L621.0 893.7L622.6 894.0L621.9 895.4L620.7 896.2L620.2 897.7L617.9 899.3L617.5 900.5L615.2 901.7L614.3 902.9L612.4 904.5L611.9 903.3L611.1 901.3L610.4 899.0L610.4 897.4L611.1 895.8L612.4 894.5L613.5 893.7L615.1 893.4L616.7 892.4L617.9 891.3L620.2 889.7L621.5 888.6L623.1 887.6L623.8 886.5L622.7 886.2L621.1 887.3L618.3 888.3L617.1 888.3L616.7 887.5L613.5 887.5L612.4 888.3L609.5 890.3L607.9 891.3L604.7 891.8L602.3 891.0L599.1 891.3L595.9 891.1L593.5 891.3L590.3 891.3L587.9 892.2L586.3 893.5L583.9 894.8L582.3 895.9L580.7 897.4L579.9 898.8L581.8 899.3L583.3 899.4L584.7 899.4L586.6 900.5L587.6 901.7L587.1 902.9L586.5 904.5L586.3 906.1L586.0 908.5L583.9 910.4L582.5 912.0L580.7 913.6L578.3 915.7L575.9 917.0L573.5 917.3L571.9 917.8L570.7 918.4L569.9 919.1L569.1 920.5L568.8 921.3L567.2 922.1L565.7 922.7L565.6 923.7L567.0 924.6L568.3 926.1L568.6 927.7L568.6 929.0L568.0 929.9L566.4 930.2L565.2 930.7L564.0 931.0L563.6 929.9L564.1 928.8L563.8 927.7L564.4 926.6L563.5 925.6L561.9 925.6L562.0 924.5L561.2 923.4L560.5 922.2L559.2 922.4L557.3 923.0L556.3 923.8L555.3 923.7L556.1 922.7L556.8 921.5L555.7 920.7L554.4 921.5L552.9 922.2L552.0 923.4L550.4 923.4L549.8 924.3L550.7 925.3L551.7 926.1L552.3 926.6L553.9 925.9L555.2 925.8L557.1 926.1L557.6 927.0L555.2 927.5L554.1 928.3L552.9 929.1L552.3 930.4L553.9 931.2L554.9 933.3L555.0 934.4L556.5 935.2L556.6 936.6L555.7 937.1L556.8 938.2L556.1 939.3L556.3 940.8L555.2 941.2L554.4 942.5L553.6 943.6L552.9 945.1L552.0 946.0L550.7 946.7L549.3 948.1L548.0 949.4L546.4 949.5L544.8 950.2L543.7 950.5L542.7 950.8L541.6 951.1L540.3 951.5L538.9 951.8L538.4 952.7L537.9 953.5L537.3 952.4L537.0 951.3L535.2 951.3L533.5 951.9L532.3 952.9L531.2 954.2L530.7 955.4L531.9 956.9L532.3 958.2L533.3 959.1L534.7 960.2L535.9 961.5L536.3 963.7L536.5 965.5L536.3 967.4L535.2 968.2L533.3 969.2L532.3 969.3L531.5 970.6L529.9 972.0L529.3 972.2L529.3 971.1L529.6 970.0L528.8 969.3L527.2 969.0L526.4 968.0L525.8 966.6L524.4 965.7L523.1 965.7L523.1 964.4L521.8 964.5L521.5 966.0L520.8 968.0L520.4 969.5L520.4 971.2L521.5 972.2L522.1 974.0L522.8 974.9L523.7 974.9L525.0 976.0L526.3 977.0L527.1 978.1L527.1 979.5L526.9 980.8L527.2 981.5L527.9 982.4L528.4 983.5L527.4 983.8L526.9 983.4L525.8 982.7L524.0 981.5L523.2 980.5L522.6 979.1L522.1 977.6L522.1 976.2L521.6 975.5L521.2 974.8L520.4 973.5L519.2 973.2L518.9 971.7L519.4 970.0L519.2 968.4L519.6 966.8L518.9 965.2L518.6 963.6L518.1 962.0L517.8 960.2L517.3 959.0L516.2 959.4L515.3 959.9L514.3 960.7L513.2 960.4L512.5 959.1L512.9 957.5L512.4 955.9L511.4 955.0L510.5 954.0L509.5 952.9L509.2 951.8L508.9 950.5L508.2 949.9L506.8 950.7L506.2 951.0L504.9 951.0L503.8 951.5L502.8 951.1L501.2 951.6L500.7 952.7L500.2 953.8L498.5 954.6L497.4 955.3L496.1 956.7L494.8 957.8L493.4 958.8L493.2 959.6L491.6 960.5L490.2 960.5L489.9 961.8L490.0 963.6L490.2 965.2L489.5 966.5L489.4 967.9L488.7 969.5L487.9 970.8L486.8 971.6L486.7 972.7L485.7 973.2L484.9 972.7L484.1 971.7L483.6 970.3L483.0 968.4L482.4 967.1L481.4 965.5L481.1 963.9L480.4 962.3L479.5 960.7L479.0 958.8L478.5 956.9L478.2 955.3L478.2 953.4L478.0 951.9L477.7 950.5L476.1 952.3L475.0 952.7L473.4 951.9L472.1 950.5L473.1 949.7L474.4 949.2L472.5 949.4L471.5 948.7L470.9 948.1L469.7 947.6L469.1 946.3L468.3 945.4L466.5 945.5L464.5 945.5L462.6 945.7L460.3 945.7L458.6 945.4L456.6 945.2L455.1 945.1L453.5 944.8L453.0 943.2L451.9 942.7L450.6 943.3L449.5 943.6L447.4 943.2L445.8 942.2L444.2 941.4L443.1 940.0L442.1 939.0L441.0 938.2L439.9 937.9L439.2 938.2L438.6 939.0L439.1 940.4L439.9 941.9L441.0 943.0L442.0 944.0L442.1 945.1L442.8 946.0L443.1 946.5L443.7 946.7L444.4 945.5L444.2 944.3L443.6 944.4L444.4 947.0L445.8 947.3L447.4 947.5L449.0 947.1L450.4 945.7L451.4 944.8L452.0 944.0L452.0 946.0L452.7 947.1L453.8 947.9L455.4 948.3L456.8 949.9L457.4 950.2L456.6 951.8L455.5 953.2L454.6 953.4L454.1 954.5L454.1 955.8L452.3 956.2L451.9 957.4L450.3 957.8L449.8 958.8L448.2 959.0L446.7 959.4L445.3 960.4L443.4 961.5L441.0 962.5L439.6 963.6L438.3 963.9L436.4 964.5L434.8 964.9L433.8 965.5L432.5 965.8L431.4 965.8L430.9 964.9L430.6 963.6L430.3 962.0L430.1 960.7L429.8 959.4L428.7 957.8L427.7 956.2L426.8 954.8L425.5 953.5L424.4 951.9L424.2 950.5L423.4 948.6L422.5 947.1L421.5 946.0L420.9 944.8L419.9 943.5L418.8 941.9L417.8 941.1L417.2 941.1L417.0 939.6L416.6 940.8L416.1 941.6L415.6 940.9L414.6 939.8L414.0 938.4L413.5 936.1L414.3 936.3L415.9 936.3L416.7 936.0L417.4 934.7L417.8 933.4L418.3 932.3L419.0 930.7L419.3 929.3L419.4 928.5L419.1 927.5L417.5 927.2L416.2 928.0L414.6 928.3L413.4 928.2L411.8 927.4L410.5 928.0L409.1 928.2L407.5 927.4L405.9 927.0L405.5 925.9L404.9 924.8L404.3 924.3L404.7 923.5L403.8 922.9L403.6 922.1L404.4 921.5L405.9 921.5L407.9 921.5L408.6 920.7L408.3 920.3L407.0 920.5L405.5 920.8L403.9 921.0L402.7 920.7L401.1 920.7L400.0 921.0L400.0 921.8L399.2 922.1L398.2 921.3L398.0 922.1L398.7 923.0L398.4 923.8L399.5 924.5L400.3 925.3L398.8 926.2L398.4 927.2L397.7 927.7L396.6 927.2L396.0 925.9L395.6 924.8L396.4 924.6L395.2 923.7L394.2 922.9L393.3 921.6L392.9 920.5L393.1 919.2L391.8 918.3L390.5 917.5L389.4 916.7L388.0 916.5L386.9 915.7L386.1 914.9L385.3 914.0L384.6 913.6L383.7 913.2L382.9 913.0L381.8 913.5L381.6 914.4L381.8 915.4L382.7 916.2L383.7 916.5L384.6 917.9L385.9 918.7L387.5 919.2L387.7 919.9L389.4 920.7L390.7 921.1L391.5 921.8L391.0 922.4L389.7 921.6L388.8 921.8L388.5 922.7L389.3 923.7L388.5 924.6L387.7 925.4L387.0 925.3L387.2 924.0L387.7 923.0L387.0 922.1L386.2 921.8L385.6 921.1L384.5 920.8L383.7 920.2L382.1 919.9L381.1 918.9L379.8 918.3L378.7 917.5L378.2 915.9L377.4 915.5L376.0 915.1L374.7 915.9L373.8 916.2L372.5 917.0L371.1 917.1L369.6 916.7L368.3 916.5L367.1 917.0L366.9 918.1L367.1 919.1L365.5 920.0L363.5 920.5L363.1 921.1L361.9 922.2L361.5 923.2L362.3 924.2L361.0 925.0L360.7 925.9L359.4 926.9L358.4 927.4L356.5 927.4L354.8 927.5L353.6 928.0ZM352.5 928.8L352.0 929.7L350.9 931.5L349.7 932.3L348.2 932.8L347.1 934.1L346.3 935.8L346.5 937.4L346.0 939.0L344.5 940.0L342.8 940.9L341.0 941.7L339.9 943.3L338.8 944.6L338.3 946.0L337.4 947.6L336.4 948.7L335.8 950.3L334.8 951.8L334.8 952.7L335.6 954.0L335.9 955.3L336.2 956.9L335.9 958.8L335.6 960.1L334.6 961.7L334.0 962.5L334.6 963.1L335.3 964.2L335.3 965.8L335.9 966.8L337.0 967.4L337.8 968.4L338.6 969.2L339.6 970.0L340.9 971.1L340.9 972.4L341.7 973.5L342.8 974.3L343.7 975.1L345.0 976.0L346.3 977.0L347.9 978.3L349.7 978.9L351.1 978.4L352.7 977.9L354.6 977.6L356.7 977.8L358.1 978.3L359.1 978.1L360.4 977.3L361.9 977.0L363.5 976.5L365.0 976.0L366.4 975.7L367.7 975.9L369.0 975.9L369.9 976.7L370.9 977.9L371.4 979.1L372.6 979.1L373.9 978.9L375.5 978.7L376.2 979.4L377.3 980.0L377.8 981.1L377.6 982.4L377.3 984.2L376.8 985.3L376.3 986.9L377.0 988.5L378.2 990.1L379.7 992.0L380.8 993.3L381.4 995.2L381.6 998.7L425.0 998.7L424.7 996.1L424.1 994.9L424.7 993.4L425.3 992.1L426.1 990.7L426.8 989.8L427.9 989.0L428.9 987.7L429.8 986.6L431.3 985.1L432.4 984.0L433.8 983.0L435.7 981.8L437.3 980.0L438.4 978.7L439.6 977.3L440.8 975.1L441.8 973.2L442.8 971.6L443.4 969.3L443.9 967.1L442.6 966.9L441.3 967.6L439.9 967.9L438.3 968.2L436.4 968.7L434.8 968.8L433.2 969.3L431.7 968.5L430.9 967.6L430.0 967.4L430.9 966.6L431.1 965.8L430.1 964.7L429.3 964.1L428.4 963.1L427.6 962.5L426.6 961.8L425.2 961.2L424.6 960.1L423.9 958.3L423.1 956.7L421.8 956.1L421.5 954.8L421.2 953.0L420.9 951.5L420.2 950.2L418.8 948.9L418.6 947.6L417.8 946.0L416.9 944.1L416.1 942.8L415.1 941.2L414.2 939.8L413.7 938.2L413.5 936.1L412.7 935.7L411.5 935.5L410.0 935.8L408.9 936.6L407.5 936.5L405.9 936.0L403.9 935.5L402.2 935.5L400.9 934.9L399.2 934.5L397.9 933.6L396.3 933.4L394.7 934.2L393.9 935.3L393.7 936.5L392.6 937.6L391.3 937.1L390.1 936.5L388.3 936.0L386.9 935.5L386.2 934.4L384.5 933.6L382.9 933.4L381.3 933.6L379.8 932.9L378.9 932.1L378.4 931.3L379.2 930.4L379.7 929.6L378.9 928.8L378.7 927.7L379.7 926.9L378.2 926.6L377.1 926.4L375.4 927.0L373.8 926.7L372.0 926.9L370.4 927.4L368.8 927.0L367.1 927.2L365.5 927.5L363.9 927.7L362.4 928.6L361.0 929.0L360.0 929.6L358.6 929.9L357.2 929.6L355.6 929.7L353.6 929.0ZM352.8 906.1L356.4 905.7L360.4 904.9L364.2 904.2L364.7 901.8L362.4 900.7L361.5 899.3L359.7 898.2L359.1 896.7L357.8 896.1L359.1 894.2L356.8 892.4L354.0 892.4L352.8 894.0L353.0 896.1L352.4 897.4L354.3 898.5L356.7 898.5L356.5 899.7L357.2 900.9L354.8 900.9L355.2 902.5L353.6 903.4L356.7 903.9L355.2 904.5L353.2 905.7ZM352.4 902.8L351.9 900.9L352.4 899.7L353.0 898.8L352.0 897.8L350.3 897.7L348.7 898.0L348.2 899.3L346.0 900.2L346.1 901.5L346.5 902.6L345.5 903.3L346.8 903.7L348.5 903.6L350.8 902.8ZM379.5 860.3L382.7 858.7L387.5 858.4L390.7 859.1L395.5 858.4L405.1 857.9L405.9 859.1L400.3 860.7L397.1 862.4L394.7 861.4L389.1 863.7L385.1 862.7L383.5 861.4ZM444.2 871.8L447.4 873.1L453.0 873.3L450.6 871.0L451.4 869.1L455.4 867.4L459.4 865.6L464.2 864.3L469.7 863.0L472.1 863.5L467.3 865.0L461.8 866.7L457.0 868.9L453.0 871.8L447.4 870.1L445.0 871.0ZM455.4 874.2L458.6 874.7L457.0 873.6ZM437.0 857.5L441.8 858.3L449.8 858.3L457.8 857.8L462.6 856.7L456.2 855.5L448.2 855.9L441.8 856.7ZM508.9 860.8L515.3 861.1L520.8 860.2L523.2 858.6L520.0 857.3L516.9 856.5L512.1 856.7L508.9 857.9L510.5 859.5ZM581.5 866.6L586.3 867.8L591.1 868.9L595.9 868.2L601.5 866.4L598.3 865.4L593.5 864.6L588.7 865.3L584.7 864.8L580.7 865.6ZM585.5 869.1L589.5 869.4L591.1 868.6L587.1 868.2ZM647.2 872.6L649.4 872.9L649.4 871.7L647.2 872.0ZM74.5 872.9L78.5 872.6L77.4 871.8L74.5 871.7ZM74.5 876.0L78.5 876.9L82.5 878.0L87.3 879.2L90.8 880.4L88.9 881.7L86.5 883.0L84.4 883.2L81.7 882.2L80.1 881.4L76.9 881.6L74.5 882.2ZM87.6 884.3L91.3 884.9L92.4 885.1L89.7 885.4L87.6 884.7ZM114.9 894.6L117.1 894.6L118.9 894.0L117.6 893.4L115.5 893.8ZM96.1 900.5L97.7 899.7L95.4 899.7ZM92.1 901.7L93.7 900.9L91.3 901.3ZM588.7 912.5L591.1 911.7L590.3 907.7L592.7 907.7L590.6 904.5L590.8 902.1L590.3 900.5L589.5 899.3L588.2 900.9L588.7 903.7L588.6 907.7L588.6 910.9ZM585.5 919.7L587.4 919.2L587.1 918.1L590.8 918.9L594.3 916.8L593.8 915.4L591.9 915.4L588.4 913.5L588.1 915.7L587.4 917.0L585.8 917.6L586.0 918.9ZM571.0 931.7L572.4 930.7L574.3 929.3L577.9 929.0L579.6 927.8L580.4 926.6L581.2 927.2L583.1 926.6L584.7 925.0L585.2 923.4L585.5 921.6L586.0 920.0L587.6 920.0L587.9 921.3L588.7 922.9L587.9 924.8L587.1 926.1L586.8 927.2L586.5 928.8L585.5 929.9L584.2 929.6L583.4 930.5L581.5 930.7L580.4 931.0L579.1 932.5L577.9 932.0L577.9 930.9L576.3 930.7L574.3 931.2L573.1 931.8L571.5 931.8ZM572.7 933.3L574.3 933.6L577.1 932.0L576.4 931.2L574.3 931.7L573.4 931.8ZM568.9 932.8L571.0 931.8L572.4 932.8L571.8 935.8L570.5 936.5L569.9 935.7L569.7 934.1ZM553.7 949.2L554.7 950.8L556.0 949.7L556.6 946.8L556.0 945.5L554.9 946.3L553.9 947.9ZM535.5 955.3L537.3 956.9L538.6 956.1L539.2 954.5L538.4 953.8L536.8 954.0L535.5 954.6ZM489.4 973.2L489.7 975.5L490.7 976.5L492.6 975.5L491.8 972.7L490.2 970.3L489.5 971.2ZM554.5 956.4L557.1 956.4L557.4 958.8L556.0 961.2L556.8 963.6L560.0 965.2L559.2 963.9L556.3 963.1L554.5 962.8L553.7 962.0L553.3 960.1L554.1 959.4ZM556.8 974.8L559.2 973.5L560.8 972.4L562.4 970.4L563.8 972.4L563.5 975.5L562.0 976.7L560.3 976.0L559.2 974.0L557.1 974.9ZM556.8 968.4L559.2 969.2L561.6 967.6L562.5 965.8L560.0 966.0L557.6 966.8ZM560.3 970.0L561.9 970.0L562.4 968.0L560.8 967.6ZM549.1 972.5L551.2 970.9L552.8 969.0L552.5 968.4L550.4 970.0ZM554.1 964.4L555.5 964.7L556.0 966.0L554.9 966.3L554.1 965.2ZM536.0 983.5L537.0 982.7L539.2 983.4L539.7 981.8L542.4 980.8L544.0 978.6L546.4 977.5L548.5 975.1L549.9 975.7L550.7 976.7L552.3 977.6L550.9 978.9L549.9 979.9L550.2 982.4L551.8 984.3L550.2 984.8L549.6 987.2L548.2 988.3L548.0 990.4L547.4 992.0L545.1 992.5L543.2 991.2L540.8 991.5L539.7 990.7L537.9 990.5L537.6 988.5L536.5 986.7L536.0 985.1ZM514.1 977.0L516.1 977.6L517.7 977.6L519.2 979.2L521.2 980.8L522.6 982.6L524.0 983.2L525.6 984.3L527.2 985.6L527.7 987.5L529.6 988.8L530.9 990.5L531.2 992.3L531.1 995.2L528.8 995.3L525.6 992.6L523.2 990.1L521.6 987.5L520.0 985.4L519.2 983.2L517.3 981.5L515.7 979.9L514.1 978.1ZM552.8 994.7L554.2 994.7L554.2 990.7L555.2 990.1L557.4 993.3L558.7 993.3L556.8 990.7L555.7 988.8L558.4 987.4L556.5 987.4L554.5 988.0L553.6 985.1L555.2 985.1L558.4 984.5L560.8 984.3L561.9 983.4L560.9 985.1L558.7 985.3L554.9 983.8L553.9 984.6L553.3 985.9L552.5 988.3L551.7 990.2L552.8 991.5ZM565.6 983.0L566.7 983.5L567.5 985.0L566.4 985.9L567.2 987.2L565.9 986.7L565.6 984.6ZM571.1 988.2L573.5 986.6L575.9 987.4L576.7 989.9L578.3 991.2L581.5 988.5L583.9 989.1L587.1 990.1L591.1 991.2L594.3 992.8L595.1 994.4L597.5 995.8L598.3 998.7L569.6 998.7L572.7 992.3L574.0 992.3L571.9 990.7L572.7 989.9L574.3 989.9L572.7 989.1ZM598.8 994.9L601.5 993.9L603.9 993.1L605.0 992.6L604.4 993.9L602.3 995.8L599.9 995.8ZM602.6 990.1L604.7 991.5L606.3 993.1L605.5 993.6L603.6 991.0ZM566.4 991.2L569.6 990.7L570.8 991.5L568.8 991.8L566.7 992.0ZM563.2 991.0L565.1 991.0L564.8 992.1L563.3 992.0ZM375.4 923.7L377.3 923.5L377.6 921.3L376.6 920.2L375.0 920.7L375.4 922.1ZM375.7 919.9L377.0 919.7L377.1 917.9L375.7 918.1ZM381.8 925.6L383.5 925.0L386.9 924.8L386.2 926.6L386.1 927.4L384.8 927.2L382.1 926.1ZM399.5 929.6L401.1 929.4L403.9 929.6L403.2 930.1L401.1 930.1ZM413.5 930.5L414.6 930.7L416.2 930.1L417.2 929.0L415.4 929.6L413.9 929.9ZM390.9 895.0L392.1 894.2L391.8 893.5ZM379.7 897.7L382.1 897.2L381.6 896.4L379.5 896.9ZM447.1 965.8L449.0 965.8L448.2 966.3ZM510.0 965.3L510.5 965.8L510.1 967.6L509.7 966.8ZM375.5 980.0L376.2 980.0L375.8 980.8ZM337.2 940.8L339.6 940.8L340.4 939.6L337.2 941.2ZM322.8 959.6L324.4 961.2L322.8 962.0ZM236.6 870.1L233.4 869.7L232.6 868.5L236.6 868.2L239.0 869.1ZM243.8 877.7L239.0 878.4L238.5 877.1L242.2 876.8ZM209.4 861.9L205.1 862.1L205.4 860.2L209.4 860.5ZM182.3 859.5L186.3 859.4L184.7 858.7ZM181.5 862.6L189.5 862.9L191.9 861.4L187.9 859.9L182.3 860.0L179.9 861.4ZM193.5 862.6L197.5 862.7L197.8 861.9L194.3 861.8ZM235.0 887.5L232.9 887.6L233.4 886.3L234.8 886.5ZM235.0 896.6L234.2 895.8L235.3 895.6ZM233.4 901.5L231.0 901.3L232.3 900.9ZM258.9 907.6L262.9 907.1L263.4 907.6L259.7 906.5ZM259.1 911.6L262.9 911.9L261.3 912.4ZM263.7 913.2L266.1 912.5L265.3 910.9L264.1 911.7ZM207.8 862.6L211.8 862.4L211.0 861.8L208.2 861.8ZM215.8 862.7L218.5 862.6L217.4 862.1ZM263.4 960.3L264.1 960.3L264.1 959.8L263.4 959.8ZM263.7 961.6L264.3 961.6L264.3 961.1L263.7 961.1ZM264.2 962.9L264.9 962.9L264.9 962.4L264.2 962.4ZM264.3 964.0L264.9 964.0L264.9 963.5L264.3 963.5ZM266.5 965.2L267.2 965.2L267.2 964.7L266.5 964.7ZM263.9 965.0L264.5 965.0L264.5 964.5L263.9 964.5ZM263.1 966.9L263.7 966.9L263.7 966.4L263.1 966.4ZM262.9 959.0L263.6 959.0L263.6 958.5L262.9 958.5ZM261.5 958.6L262.1 958.6L262.1 958.1L261.5 958.1ZM258.3 957.0L258.9 957.0L258.9 956.5L258.3 956.5ZM216.3 987.1L216.9 987.1L216.9 986.6L216.3 986.6ZM217.4 986.6L218.1 986.6L218.1 986.2L217.4 986.2ZM478.8 979.8L479.5 979.8L479.5 979.3L478.8 979.3ZM477.7 968.6L478.4 968.6L478.4 968.1L477.7 968.1ZM592.9 964.8L593.5 964.8L593.5 964.3L592.9 964.3ZM594.3 961.9L594.9 961.9L594.9 961.4L594.3 961.4ZM576.4 974.4L577.1 974.4L577.1 973.9L576.4 973.9ZM582.2 971.0L582.8 971.0L582.8 970.5L582.2 970.5ZM604.0 974.4L604.7 974.4L604.7 973.9L604.0 973.9ZM614.3 975.2L614.9 975.2L614.9 974.7L614.3 974.7ZM621.9 977.7L622.6 977.7L622.6 977.2L621.9 977.2ZM635.0 974.8L635.7 974.8L635.7 974.4L635.0 974.4ZM631.0 971.8L631.7 971.8L631.7 971.3L631.0 971.3ZM627.7 955.4L628.3 955.4L628.3 954.9L627.7 954.9ZM588.7 942.9L589.4 942.9L589.4 942.4L588.7 942.4ZM565.9 943.9L566.5 943.9L566.5 943.4L565.9 943.4ZM568.4 941.0L569.1 941.0L569.1 940.5L568.4 940.5ZM560.0 947.2L560.6 947.2L560.6 946.7L560.0 946.7ZM563.6 932.9L564.3 932.9L564.3 932.4L563.6 932.4ZM316.9 924.6L317.6 924.6L317.6 924.1L316.9 924.1ZM320.9 925.8L321.5 925.8L321.5 925.4L320.9 925.4ZM334.6 934.0L335.3 934.0L335.3 933.5L334.6 933.5ZM258.1 934.6L258.8 934.6L258.8 934.1L258.1 934.1ZM350.5 887.2L351.1 887.2L351.1 886.7L350.5 886.7ZM359.6 889.9L360.2 889.9L360.2 889.5L359.6 889.5ZM356.8 892.0L357.5 892.0L357.5 891.5L356.8 891.5ZM384.0 877.3L384.6 877.3L384.6 876.8L384.0 876.8ZM510.9 973.4L511.6 973.4L511.6 972.9L510.9 972.9ZM597.2 914.4L597.8 914.4L597.8 913.9L597.2 913.9ZM601.2 912.0L601.8 912.0L601.8 911.5L601.2 911.5ZM606.0 909.6L606.6 909.6L606.6 909.1L606.0 909.1ZM610.0 906.4L610.6 906.4L610.6 905.9L610.0 905.9ZM626.7 898.4L627.4 898.4L627.4 897.9L626.7 897.9ZM89.8 894.9L90.5 894.9L90.5 894.4L89.8 894.4ZM96.2 890.4L96.9 890.4L96.9 889.9L96.2 889.9ZM85.8 889.8L86.5 889.8L86.5 889.3L85.8 889.3ZM87.0 902.7L87.6 902.7L87.6 902.2L87.0 902.2ZM80.6 903.5L81.2 903.5L81.2 903.0L80.6 903.0ZM77.4 903.5L78.0 903.5L78.0 903.0L77.4 903.0ZM645.9 903.3L646.5 903.3L646.5 902.9L645.9 902.9ZM638.7 901.9L639.3 901.9L639.3 901.4L638.7 901.4ZM83.0 902.9L83.6 902.9L83.6 902.4L83.0 902.4ZM99.7 899.0L100.4 899.0L100.4 898.6L99.7 898.6ZM106.9 951.0L107.6 951.0L107.6 950.5L106.9 950.5ZM110.9 952.5L111.5 952.5L111.5 952.0L110.9 952.0ZM112.0 953.0L112.7 953.0L112.7 952.5L112.0 952.5ZM445.5 966.7L446.1 966.7L446.1 966.2L445.5 966.2ZM424.4 995.7L425.0 995.7L425.0 995.3L424.4 995.3ZM425.0 994.3L425.7 994.3L425.7 993.8L425.0 993.8Z"/></clipPath>
<clipPath id="cdata"><path d="M74.5 848.7L269.3 848.7L269.3 853.5L261.3 855.5L252.6 857.9L243.3 861.0L243.8 863.8L258.1 869.4L266.1 874.2L270.1 880.6L272.5 887.0L278.9 898.2L282.1 914.1L266.1 917.3L256.6 916.5L250.0 916.5L244.9 919.2L237.5 921.5L228.8 923.7L220.1 924.3L211.4 922.7L201.1 919.9L193.8 921.5L193.8 927.2L188.7 927.2L183.6 922.7L175.4 920.7L171.9 921.3L167.4 921.5L167.4 918.9L167.9 914.1L167.1 910.1L163.1 908.5L157.5 907.7L138.4 898.2L90.5 906.1L74.5 906.1ZM74.5 874.2L98.5 874.2L98.5 890.2L74.5 890.2ZM322.0 879.0L342.8 879.0L342.8 885.4L322.0 885.4ZM368.3 894.2L366.7 887.0L377.9 877.4L393.9 871.8L417.8 872.6L441.8 874.2L449.8 874.2L457.8 873.4L467.3 872.6L470.5 868.6L476.9 867.8L489.7 867.0L505.7 863.8L521.6 862.2L531.2 861.4L540.8 863.0L553.6 867.0L577.5 868.6L585.5 869.4L601.5 870.2L633.4 872.6L649.4 873.4L649.4 890.2L633.4 898.2L617.5 906.1L601.5 912.5L595.1 915.7L588.7 920.5L587.9 925.3L585.5 926.1L582.3 925.3L577.5 920.5L571.1 918.9L568.9 919.4L564.9 923.4L558.4 921.9L550.4 920.7L542.6 919.4L534.7 915.5L522.8 912.8L507.1 912.8L497.8 915.5L490.0 918.1L483.3 920.5L476.9 921.3L474.9 920.5L468.9 916.3L458.6 917.0L448.0 915.7L441.8 914.9L437.0 917.3L433.8 920.5L430.0 926.9L421.8 926.9L415.0 923.4L410.2 922.2L406.7 919.7L403.5 919.7L398.5 921.0L395.0 921.0L392.3 918.9L389.3 917.5L384.3 913.3L382.2 911.7L376.3 912.8L371.7 914.0L371.4 913.3L372.3 909.3L374.2 903.7L374.7 899.7L375.5 896.6ZM502.5 861.8L528.0 861.4L528.0 855.1L502.5 855.1ZM430.0 926.9L433.8 920.5L437.0 917.3L441.8 920.5L449.0 926.1L453.0 926.9L449.8 929.3L443.4 930.9L438.6 933.3L435.4 931.7L432.2 927.7ZM463.4 932.5L464.5 930.1L470.2 927.4L474.5 924.5L476.9 921.3L483.3 921.3L483.3 924.5L486.5 927.7L490.0 928.6L496.1 927.7L503.1 924.6L513.7 923.4L522.8 924.6L526.4 926.9L529.5 929.9L529.5 935.2L525.6 939.6L522.8 941.9L518.5 942.0L513.7 940.4L509.7 940.4L502.5 941.2L496.6 940.4L491.3 938.8L486.5 936.5L481.7 933.3L475.3 931.7L470.5 932.5L464.2 933.3ZM270.9 871.0L278.9 871.0L282.1 877.4L282.9 883.8L282.1 887.0L277.3 885.4L274.1 879.0Z"/></clipPath>
<clipPath id="cpale"><path d="M90.5 869.4L138.4 871.0L144.8 875.3L135.2 877.4L122.4 878.2L106.4 878.2L93.7 879.8ZM146.4 873.4L170.3 873.9L194.3 876.1L205.4 876.6L218.2 875.0L227.8 873.4L234.2 874.2L224.6 878.2L205.4 879.0L186.3 878.5L162.3 876.6L146.4 876.6ZM369.9 895.0L390.7 895.8L403.5 899.7L409.9 907.7L409.9 914.1L393.9 918.1L381.1 913.3L369.9 914.1ZM476.9 896.6L521.6 896.6L531.2 902.9L531.2 913.3L505.7 913.3L489.7 918.9L476.9 918.9ZM463.4 932.5L464.5 930.1L470.2 927.4L474.5 924.5L476.9 921.3L483.3 921.3L483.3 924.5L486.5 927.7L490.0 928.6L496.1 927.7L503.1 924.6L513.7 923.4L522.8 924.6L526.4 926.9L529.5 929.9L529.5 935.2L525.6 939.6L522.8 941.9L518.5 942.0L513.7 940.4L509.7 940.4L502.5 941.2L496.6 940.4L491.3 938.8L486.5 936.5L481.7 933.3L475.3 931.7L470.5 932.5L464.2 933.3ZM531.2 858.3L649.4 858.3L649.4 898.2L625.4 906.1L601.5 914.1L577.5 922.1L550.4 922.1L537.6 917.3L531.2 910.9L540.8 902.9L528.0 896.6L537.6 888.6L523.2 882.2L534.4 874.2L521.6 867.8Z"/></clipPath>
<clipPath id="carc"><path d="M162.3 848.7L269.3 848.7L262.9 867.8L266.1 879.0L259.7 887.8L250.2 887.8L237.4 883.8L231.0 878.2L221.4 873.4L208.6 870.2L202.3 866.9L186.3 866.6L173.5 865.8L162.3 866.2Z"/></clipPath>
<clipPath id="cpink"><path d="M550.4 869.4L630.2 872.6L636.6 882.2L617.5 890.2L585.5 893.4L561.6 895.0L550.4 887.0ZM499.3 866.2L528.0 864.6L528.0 879.0L502.5 880.6ZM202.3 851.9L262.9 851.9L256.6 867.8L237.4 871.0L224.6 872.6L210.2 866.2ZM392.3 874.2L405.1 874.2L405.1 879.0L392.3 879.0Z"/></clipPath>
<clipPath id="chatch2"><path d="M531.2 858.3L649.4 858.3L649.4 898.2L625.4 906.1L601.5 914.1L577.5 922.1L550.4 922.1L537.6 917.3L531.2 910.9L540.8 902.9L528.0 896.6L537.6 888.6L523.2 882.2L534.4 874.2L521.6 867.8Z"/></clipPath>
<clipPath id="chatch"><path d="M87.3 887.0L96.9 879.0L106.4 880.6L122.4 883.8L138.4 880.6L151.2 875.0L160.7 867.0L176.7 867.8L183.1 872.6L194.3 875.8L210.2 879.0L226.2 882.2L237.4 887.0L253.4 890.2L266.1 896.6L272.5 901.3L269.3 914.1L250.2 916.5L244.9 919.2L237.5 921.5L228.8 923.7L220.1 924.3L211.4 922.7L201.1 919.9L193.8 921.5L193.8 927.2L188.7 927.2L183.6 922.7L175.4 920.7L167.4 921.5L167.4 918.9L167.9 914.1L167.1 910.1L163.1 908.5L138.4 893.4L106.4 896.6L93.7 893.4ZM368.3 894.2L366.7 887.0L377.9 877.4L393.9 871.8L417.8 872.6L441.8 874.2L467.3 872.6L470.5 868.6L476.9 867.8L489.7 867.0L505.7 863.8L521.6 862.2L528.0 863.0L521.6 867.8L534.4 874.2L523.2 882.2L537.6 888.6L528.0 896.6L540.8 902.9L553.6 906.1L566.4 910.9L569.6 917.3L568.9 919.4L564.9 923.4L558.4 921.9L550.4 920.7L542.6 919.4L534.7 915.5L522.8 912.8L507.1 912.8L497.8 915.5L490.0 918.1L483.3 920.5L476.9 921.3L474.9 920.5L468.9 916.3L458.6 917.0L448.0 915.7L441.8 914.9L437.0 917.3L433.8 920.5L430.0 926.9L421.8 926.9L415.0 923.4L410.2 922.2L406.7 919.7L403.5 919.7L398.5 921.0L395.0 921.0L392.3 918.9L389.3 917.5L384.3 913.3L382.2 911.7L376.3 912.8L371.7 914.0L371.4 913.3L372.3 909.3L374.2 903.7L374.7 899.7L375.5 896.6ZM609.5 904.5L622.3 896.6L625.4 888.6L614.3 890.2ZM463.4 932.5L464.5 930.1L470.2 927.4L474.5 924.5L476.9 921.3L483.3 921.3L483.3 924.5L486.5 927.7L490.0 928.6L496.1 927.7L503.1 924.6L513.7 923.4L522.8 924.6L526.4 926.9L529.5 929.9L529.5 935.2L525.6 939.6L522.8 941.9L518.5 942.0L513.7 940.4L509.7 940.4L502.5 941.2L496.6 940.4L491.3 938.8L486.5 936.5L481.7 933.3L475.3 931.7L470.5 932.5L464.2 933.3ZM430.0 926.9L433.8 920.5L437.0 917.3L441.8 920.5L449.0 926.1L453.0 926.9L449.8 929.3L443.4 930.9L438.6 933.3L435.4 931.7L432.2 927.7Z"/></clipPath>
<filter id="fo" filterUnits="userSpaceOnUse" x="74.5" y="842.3" width="574.9" height="151.6" color-interpolation-filters="sRGB">
<feTurbulence type="fractalNoise" baseFrequency="0.2" numOctaves="3" seed="4"/>
<feColorMatrix type="matrix" values="1 0 0 0 0  1 0 0 0 0  1 0 0 0 0  0 0 0 0 1"/>
<feComponentTransfer>
<feFuncR type="table" tableValues="0.56 0.56 0.58 0.61 0.68 0.80 0.90 0.94 0.95"/>
<feFuncG type="table" tableValues="0.60 0.60 0.62 0.65 0.72 0.84 0.92 0.95 0.96"/>
<feFuncB type="table" tableValues="0.17 0.17 0.19 0.22 0.34 0.56 0.74 0.84 0.88"/>
</feComponentTransfer></filter>
<filter id="fw" filterUnits="userSpaceOnUse" x="74.5" y="842.3" width="574.9" height="151.6" color-interpolation-filters="sRGB">
<feTurbulence type="fractalNoise" baseFrequency="0.25" numOctaves="3" seed="11"/>
<feColorMatrix type="matrix" values="1 0 0 0 0  1 0 0 0 0  1 0 0 0 0  0 0 0 0 1"/>
<feComponentTransfer>
<feFuncR type="table" tableValues="0.58 0.58 0.60 0.64 0.76 0.90 0.95 0.97 0.97"/>
<feFuncG type="table" tableValues="0.62 0.62 0.64 0.68 0.80 0.92 0.96 0.98 0.98"/>
<feFuncB type="table" tableValues="0.18 0.18 0.21 0.27 0.50 0.76 0.86 0.90 0.90"/>
</feComponentTransfer></filter>
<filter id="fa" filterUnits="userSpaceOnUse" x="74.5" y="842.3" width="574.9" height="151.6" color-interpolation-filters="sRGB">
<feTurbulence type="fractalNoise" baseFrequency="0.3" numOctaves="2" seed="21"/>
<feColorMatrix type="matrix" values="1 0 0 0 0  1 0 0 0 0  1 0 0 0 0  0 0 0 0 1"/>
<feComponentTransfer>
<feFuncR type="discrete" tableValues="0.60 0.62 0.79 0.79 0.92 0.94 0.95"/>
<feFuncG type="discrete" tableValues="0.64 0.66 0.79 0.79 0.93 0.95 0.96"/>
<feFuncB type="discrete" tableValues="0.22 0.26 0.79 0.79 0.84 0.88 0.90"/>
</feComponentTransfer></filter>
<filter id="fq" filterUnits="userSpaceOnUse" x="74.5" y="842.3" width="574.9" height="151.6" color-interpolation-filters="sRGB">
<feTurbulence type="fractalNoise" baseFrequency="0.35" numOctaves="2" seed="33"/>
<feColorMatrix type="matrix" values="0 0 0 0 0.96  0 0 0 0 0.72  0 0 0 0 0.92  5 0 0 0 -2.75"/>
</filter>
<filter id="fp" filterUnits="userSpaceOnUse" x="74.5" y="842.3" width="574.9" height="151.6" color-interpolation-filters="sRGB">
<feTurbulence type="fractalNoise" baseFrequency="0.26" numOctaves="2" seed="9"/>
<feColorMatrix type="matrix" values="0 0 0 0 0.96  -5 0 0 0 3.5  0 0 0 0 0.86  4 0 0 0 -2.1"/>
</filter>
<g clip-path="url(#cm)">
<path d="M93.7 881.2L96.9 880.3L100.1 879.6L103.2 880.4L104.0 879.6L100.4 878.5L96.4 876.9L99.3 876.0L102.0 874.9L106.4 873.3L111.7 872.1L116.0 872.8L119.2 872.9L124.0 873.4L128.8 873.9L133.6 874.1L136.8 874.7L140.0 875.0L144.0 876.0L147.2 874.9L151.2 874.9L154.3 874.1L157.5 873.6L159.1 874.2L162.3 875.0L164.7 875.2L168.7 874.5L173.5 875.5L178.3 876.0L181.5 877.4L186.3 877.4L189.5 876.8L192.7 876.0L195.9 877.4L200.7 877.9L204.7 877.7L205.4 876.5L208.6 877.1L209.4 874.9L211.4 871.3L214.1 872.6L214.2 874.2L217.4 875.3L219.5 875.5L221.4 876.9L223.8 878.4L225.4 876.3L227.0 874.5L230.2 874.9L232.1 876.3L231.8 878.7L229.4 880.3L225.4 879.8L223.3 880.6L222.4 881.7L220.6 883.5L218.2 884.0L216.9 885.5L213.1 887.3L211.4 888.7L210.6 891.0L211.5 892.2L214.2 894.6L217.4 894.6L221.4 895.8L225.4 897.7L230.5 898.0L230.7 900.5L231.8 902.6L233.9 904.1L235.8 903.6L236.1 902.1L235.8 899.4L238.5 897.2L239.6 895.3L239.1 893.7L238.2 892.2L236.6 891.5L238.5 890.0L237.7 888.3L237.4 886.5L240.6 886.5L244.6 886.7L247.8 888.3L250.5 888.7L251.0 891.3L252.6 892.2L254.6 892.7L256.6 892.1L258.1 890.5L258.9 889.7L259.7 891.1L262.1 893.4L263.7 895.1L266.1 897.4L269.3 899.0L270.6 900.5L272.8 902.3L272.0 903.6L270.1 903.9L266.9 905.5L263.7 906.0L260.5 905.8L256.6 905.8L254.5 907.2L252.2 908.7L249.8 910.6L251.0 910.3L253.4 908.8L256.6 907.6L259.3 907.9L258.3 909.6L257.4 910.8L258.6 911.4L259.7 912.4L262.9 913.0L264.5 913.5L266.1 912.7L265.3 911.1L266.3 912.7L264.2 913.6L260.5 914.7L257.0 916.3L256.2 915.2L258.6 913.6L255.8 913.8L253.7 914.9L251.8 915.7L249.7 916.3L249.0 917.5L249.0 918.6L250.2 919.2L249.0 919.7L247.0 920.0L244.1 920.8L243.6 921.6L243.3 922.9L242.2 923.8L242.0 924.8L240.7 926.7L240.9 928.2L241.4 929.6L240.1 930.2L238.2 931.0L236.6 931.8L235.3 932.9L233.6 934.2L232.3 935.5L232.0 937.3L232.6 939.2L233.4 940.8L234.0 942.8L234.0 944.8L233.4 945.7L232.4 945.5L231.3 944.3L230.7 943.0L229.9 941.4L229.7 939.8L228.8 938.7L227.3 938.0L225.6 938.5L223.8 937.4L221.4 937.4L219.3 937.6L219.2 939.0L219.3 939.6L218.1 939.5L216.3 939.2L214.2 938.7L212.2 938.5L210.7 939.0L209.4 940.0L207.7 941.1L206.6 942.4L206.4 944.4L205.9 946.8L205.8 950.0L206.6 952.1L207.8 954.8L209.0 955.9L210.9 956.9L212.6 956.6L215.0 956.2L216.3 956.1L217.1 955.0L217.6 952.7L219.0 951.9L221.4 951.5L223.0 951.6L222.2 953.7L221.7 955.8L221.1 956.7L220.9 958.5L220.6 960.1L221.9 960.5L223.8 960.7L226.2 960.4L227.8 961.0L229.1 962.0L228.6 964.4L228.4 966.5L228.1 967.9L229.1 969.3L230.2 970.9L232.0 971.9L233.7 971.2L235.0 970.6L236.6 970.9L238.5 972.2L239.5 973.0L240.3 971.2L241.2 969.6L241.9 968.7L243.3 968.2L244.9 967.9L246.7 966.9L248.1 966.1L247.4 967.6L247.8 968.7L247.1 970.0L247.6 971.1L248.6 970.9L247.9 969.5L248.1 968.4L249.8 967.6L250.2 966.5L250.5 967.7L252.4 968.4L253.0 969.0L255.0 969.0L256.6 969.0L258.1 969.8L259.4 969.2L261.3 968.8L262.6 969.0L263.3 969.8L264.5 970.3L264.7 971.6L266.1 972.5L267.4 973.8L268.7 975.1L270.1 976.3L272.2 976.5L274.1 976.3L275.9 976.7L277.6 977.5L279.4 979.1L280.2 980.7L281.3 982.9L282.1 984.3L282.4 985.9L284.5 986.9L286.1 987.0L288.5 987.8L290.7 989.0L292.5 989.9L295.2 990.5L297.6 990.4L299.7 991.8L301.6 993.3L303.5 994.1L305.3 994.4L306.1 998.7L231.8 998.7L232.3 995.7L232.8 994.5L232.1 992.8L233.4 991.3L234.4 989.9L232.8 988.0L233.6 986.4L234.2 984.6L235.8 983.5L236.3 982.3L237.9 981.5L238.5 979.7L238.3 977.1L238.2 975.2L237.1 974.3L236.7 973.0L235.6 971.6L234.8 971.9L233.7 973.0L233.6 974.1L232.4 973.5L231.3 972.8L229.6 973.0L228.3 971.6L226.7 970.6L225.1 970.1L224.9 968.5L223.7 966.8L222.2 965.3L221.1 964.9L219.3 964.4L217.3 963.7L215.4 963.1L213.8 961.7L212.0 960.5L210.7 960.1L208.8 960.7L207.4 960.9L204.7 959.9L202.6 959.1L199.9 958.0L197.8 957.0L196.5 956.2L194.9 955.3L193.5 954.0L193.6 952.4L193.3 951.0L192.4 949.2L190.4 947.1L189.2 945.7L187.6 944.8L187.2 943.5L185.5 942.0L184.5 941.2L182.8 939.6L181.8 938.0L181.2 936.5L179.7 935.7L178.6 935.2L178.9 936.8L179.4 938.0L180.7 939.3L181.7 940.6L182.6 942.5L183.7 944.0L184.5 945.7L185.3 947.1L186.4 947.8L187.2 949.1L186.3 949.4L185.8 948.4L184.1 947.0L182.9 946.3L182.8 944.4L181.2 943.2L179.7 942.0L179.4 941.2L179.7 940.3L178.5 938.8L177.2 937.6L176.4 936.5L175.6 935.0L174.9 933.9L174.6 932.9L173.0 932.0L172.6 931.5L171.1 931.0L169.5 930.9L169.2 929.6L167.4 928.0L167.3 927.0L166.3 926.1L165.7 925.3L164.4 923.8L164.2 922.4L163.4 921.5L163.8 919.9L163.3 917.9L163.8 916.2L163.9 914.1L164.1 912.2L163.8 911.1L163.0 909.5L162.8 908.7L165.2 909.0L166.2 910.0L166.5 908.8L165.8 907.7L164.2 906.8L162.3 906.1L160.7 905.3L158.5 904.5L157.7 902.9L156.7 901.7L155.1 900.4L153.7 899.3L153.4 897.8L151.6 896.7L150.4 895.3L148.8 894.5L147.2 893.2L145.2 892.6L143.6 893.0L142.2 892.2L140.1 891.1L137.6 890.7L135.8 890.2L132.8 890.2L130.4 889.5L128.0 888.9L125.8 889.1L124.5 890.2L122.7 890.7L120.2 891.5L119.4 890.5L120.3 889.1L121.9 888.3L119.5 888.7L118.7 889.7L117.3 890.8L115.9 891.8L116.8 892.4L115.5 893.2L113.9 893.8L112.3 894.8L110.1 895.6L108.5 896.4L106.6 897.2L104.0 897.5L101.8 898.3L99.7 898.8L98.6 899.0L100.5 898.0L102.8 897.0L105.2 896.6L107.4 895.3L109.3 894.0L110.3 892.9L111.2 892.1L109.2 892.2L106.9 892.1L105.3 891.9L103.6 892.4L103.2 891.3L100.8 890.5L99.7 889.4L98.1 889.1L98.1 887.9L96.7 887.3L97.7 886.3L99.1 885.4L101.3 885.2L102.9 884.6L104.8 884.4L105.2 883.3L104.0 882.8L102.0 883.2L100.4 882.8L98.5 883.0L96.4 882.8L95.6 882.0L93.7 881.2ZM245.4 860.8L250.2 859.5L256.6 858.3L261.3 856.3L269.3 855.1L282.1 854.3L291.7 853.5L306.1 852.5L318.8 852.8L328.4 853.8L333.2 855.1L342.0 855.7L338.0 857.0L333.2 858.3L330.8 859.9L331.6 861.4L332.7 863.0L330.8 864.6L330.0 866.2L330.3 867.8L326.8 869.4L326.5 871.0L326.8 872.6L325.2 873.4L322.0 873.7L326.0 874.2L321.2 875.3L318.0 876.8L314.0 877.2L310.0 877.6L308.5 878.7L306.1 880.1L302.1 880.9L298.9 881.7L297.3 883.0L296.5 884.6L294.9 886.2L293.6 888.3L292.5 889.7L290.4 890.2L288.5 889.2L285.3 888.3L283.2 886.7L281.8 884.9L280.0 883.3L278.6 881.6L277.0 880.0L276.2 878.2L277.3 876.9L280.5 876.0L280.2 874.9L278.1 874.4L274.9 873.4L275.7 872.6L273.3 871.7L272.8 870.1L271.7 868.2L269.3 866.2L266.1 865.0L261.3 864.3L255.8 864.6L252.6 864.2L247.8 863.0L245.7 862.1L245.4 860.8ZM258.1 886.2L255.8 886.7L252.6 886.2L249.4 885.1L246.2 884.4L243.0 883.2L238.2 883.3L237.1 881.9L240.6 881.6L244.6 881.4L243.8 879.8L245.7 878.7L244.6 877.1L240.6 875.8L237.4 874.9L233.4 874.2L229.4 873.9L224.6 874.2L221.4 873.3L219.0 872.1L218.2 871.0L219.8 869.4L221.4 868.5L225.4 868.2L231.0 868.2L235.8 868.6L239.0 869.7L242.2 870.4L247.0 871.3L250.2 872.6L252.6 873.6L254.2 874.9L255.8 875.8L253.4 876.9L256.6 877.7L260.5 879.0L262.9 879.6L263.3 880.6L261.3 881.2L258.9 881.6L257.4 882.5L258.1 883.8L258.9 884.9L258.1 886.2ZM234.2 864.0L227.8 863.5L219.8 863.2L217.4 862.4L220.6 861.1L218.2 859.9L223.0 857.9L227.8 857.3L221.4 856.3L215.0 855.9L218.2 854.9L226.2 854.1L234.2 853.5L243.8 853.3L253.4 853.5L262.9 854.1L263.7 854.7L258.9 855.7L254.2 857.0L250.2 858.1L246.2 858.9L241.4 859.9L239.8 860.8L242.2 861.4L237.7 862.2L236.9 863.0ZM218.5 861.4L213.4 860.8L209.4 860.0L207.8 858.3L211.0 856.5L216.6 856.5L219.8 857.8L221.7 859.2L220.1 860.5ZM208.6 865.6L214.2 866.9L224.6 867.0L234.2 867.0L235.0 865.4L231.0 864.2L221.4 863.8L215.0 863.7L208.6 864.6ZM173.0 871.8L174.3 873.3L178.3 874.1L183.1 874.9L189.5 875.5L194.3 875.5L199.1 875.2L199.9 873.7L198.3 872.3L195.1 870.1L191.9 868.5L187.9 869.4L183.1 869.6L178.3 868.5L173.5 869.1L172.6 870.2ZM162.2 871.3L164.7 872.5L170.3 872.1L174.3 871.3L174.6 868.6L172.7 867.0L168.7 866.6L163.1 867.4L161.5 869.4ZM174.3 865.8L175.9 863.8L181.5 863.4L186.3 863.4L192.7 864.3L193.5 865.8L189.5 866.6L183.1 866.9L178.3 866.4ZM165.0 863.0L168.7 861.4L174.3 861.8L174.6 863.4L171.9 865.0L167.1 865.4ZM195.1 865.4L202.3 865.9L206.2 865.3L206.7 863.4L203.9 862.6L197.5 863.0ZM207.8 866.2L212.6 866.7L213.4 865.4L210.2 864.6ZM196.7 870.2L199.9 871.8L203.9 872.1L207.0 871.0L207.8 868.6L205.4 867.5L200.7 867.8L197.5 868.6ZM209.4 870.7L213.4 871.0L216.9 869.4L216.6 867.7L212.6 867.5L209.4 868.2ZM208.6 876.5L204.7 876.0L203.9 874.9L207.0 874.4L209.0 875.2ZM233.4 883.5L230.2 884.4L226.2 885.1L223.0 883.8L223.8 881.9L226.2 880.9L228.6 880.6L231.8 881.7ZM192.7 861.1L200.7 861.8L203.9 860.7L200.7 858.6L195.1 859.2ZM232.6 886.0L228.6 886.7L229.4 885.5L231.8 885.4ZM323.6 881.4L326.3 880.1L329.2 880.9L333.2 880.3L337.2 880.1L338.8 880.9L340.4 881.9L338.8 883.0L336.4 883.8L333.2 884.7L330.0 884.4L326.0 884.1L326.8 883.3L323.6 882.5L326.0 882.0ZM267.3 910.0L270.9 910.0L273.3 910.9L277.3 911.4L277.8 910.0L276.5 909.0L277.3 907.2L273.6 906.8L272.5 904.9L273.3 903.6L271.2 904.1L270.1 905.8L268.7 907.6L267.3 908.7ZM165.0 908.8L162.7 908.2L158.5 905.8L157.1 904.9L159.1 905.2L162.3 906.3L163.9 907.4ZM152.8 902.6L150.4 901.3L149.6 899.6L151.2 899.7L152.0 901.3ZM226.4 951.0L227.8 949.9L231.0 949.1L233.4 949.1L236.6 950.2L238.7 951.5L241.1 952.3L243.5 953.5L242.2 954.2L238.2 954.2L238.0 952.9L236.4 951.6L233.4 950.8L231.3 950.5L229.4 950.8L227.2 951.6ZM243.1 956.6L245.7 954.2L247.8 954.2L250.5 955.1L252.7 956.2L250.3 956.9L247.9 957.8L245.7 956.9ZM236.9 956.6L239.1 956.6L240.3 957.2L238.7 957.5L236.9 956.9ZM254.6 956.4L257.2 956.6L257.0 957.2L254.6 957.2ZM263.1 968.7L264.5 968.7L264.5 969.8L263.1 969.8ZM237.4 943.2L239.0 943.5L238.5 944.8ZM237.1 945.7L237.9 947.1L237.4 947.6ZM112.8 953.7L114.4 954.3L113.6 955.6L112.8 954.8ZM109.2 951.5L110.1 951.9L109.5 952.1ZM353.0 928.5L351.9 927.2L350.1 926.6L347.7 926.9L347.9 924.8L346.8 924.0L347.6 922.1L347.9 920.2L347.7 918.3L347.1 917.1L349.2 916.2L352.4 916.3L355.6 916.7L358.8 916.8L359.6 916.5L360.0 914.4L360.0 912.5L358.6 910.9L357.5 910.1L354.9 909.5L354.4 908.5L356.8 908.0L359.4 908.2L358.9 906.6L360.0 907.1L361.6 907.2L362.7 906.5L364.5 905.7L365.9 904.4L367.5 903.9L368.7 903.3L369.5 901.5L370.7 900.9L373.1 900.5L375.2 900.4L376.0 899.7L375.7 898.0L374.9 896.7L375.0 895.3L377.1 894.6L378.9 893.8L378.6 895.8L379.2 896.2L378.1 897.4L377.6 898.5L379.4 899.1L379.8 899.7L381.9 899.1L383.7 899.6L384.8 899.9L386.7 899.4L388.8 898.8L391.3 898.5L393.1 899.1L394.7 898.3L395.8 897.0L395.6 895.1L396.4 894.3L398.0 893.8L399.2 894.8L400.4 894.8L400.9 892.9L399.5 892.2L399.5 891.5L401.9 891.0L404.9 891.0L406.7 891.0L409.1 890.3L410.2 890.3L408.3 889.9L405.1 889.4L401.9 889.9L398.7 890.3L396.1 889.2L396.1 887.5L395.8 886.0L397.4 884.7L399.5 883.6L401.2 882.5L402.5 881.9L401.2 880.9L398.7 880.9L397.1 881.4L396.0 882.4L395.6 883.5L393.9 884.4L392.3 884.9L390.7 885.9L389.7 887.0L389.4 888.6L389.4 889.4L391.3 889.9L392.1 890.7L391.0 891.3L389.1 892.4L388.5 893.8L388.1 895.6L387.2 896.4L385.3 896.4L384.6 897.5L382.6 897.5L382.1 896.6L382.1 895.4L380.8 894.0L379.8 892.7L379.4 891.6L378.7 891.0L378.2 891.8L377.1 892.1L375.2 893.2L373.1 893.4L371.1 892.6L370.7 891.5L369.9 889.9L369.8 888.6L369.9 887.0L371.5 886.2L373.9 885.4L375.5 884.6L377.1 884.0L379.2 882.8L381.1 881.9L382.1 880.6L383.5 879.0L385.1 877.7L386.7 876.9L388.0 876.0L389.9 875.2L392.0 874.4L394.7 874.2L397.1 873.6L399.5 873.1L401.9 872.5L404.6 872.6L407.5 872.6L409.9 873.3L411.5 873.7L410.2 874.5L412.3 874.5L414.6 875.2L417.8 875.5L421.0 876.1L423.4 876.9L425.8 877.7L427.4 878.7L427.7 879.8L425.8 880.3L422.6 880.6L419.4 880.1L417.0 879.6L414.6 879.3L414.0 880.0L417.0 880.8L417.5 882.4L417.8 883.3L420.2 883.8L421.8 883.0L421.8 884.0L424.2 883.0L426.1 882.8L426.6 881.9L429.0 880.1L431.4 880.3L432.5 879.6L431.9 878.5L432.5 876.9L435.4 877.2L436.2 877.9L434.6 878.5L437.0 879.3L440.2 878.2L443.4 876.9L447.4 876.1L449.0 877.1L451.4 876.6L454.6 876.3L457.0 876.8L458.6 875.8L459.0 874.5L462.6 875.0L465.4 875.5L468.1 876.1L470.5 876.9L472.1 876.0L471.0 874.9L468.9 874.5L468.6 873.3L469.3 872.3L471.3 871.0L472.5 869.6L475.3 869.1L478.2 869.9L477.9 871.2L476.9 872.3L478.2 873.4L477.9 875.0L479.5 876.6L478.5 878.0L476.9 879.2L476.3 880.0L477.9 879.6L480.1 878.4L481.2 876.9L480.9 876.1L484.1 876.0L485.7 876.6L485.6 877.7L487.6 878.0L485.7 877.1L486.0 876.0L483.3 875.3L481.7 874.9L479.8 873.7L479.5 872.6L480.1 871.7L479.0 870.7L480.9 869.6L482.5 870.4L483.3 871.2L485.9 870.5L487.8 870.5L490.8 870.2L491.3 871.5L493.7 872.6L494.5 873.9L493.4 875.3L495.3 874.5L494.7 872.9L495.3 871.8L492.9 870.7L490.8 869.6L490.7 868.5L493.7 868.3L496.9 868.2L500.2 868.0L500.1 866.9L501.5 866.1L504.1 865.4L507.3 865.1L511.3 864.8L514.5 864.5L517.7 864.6L520.0 863.8L523.2 863.2L524.8 862.4L528.0 861.9L531.2 862.4L533.5 863.0L532.5 863.8L535.2 863.5L539.2 863.5L542.1 864.3L543.2 865.3L542.4 866.4L540.8 867.4L542.4 868.2L545.6 868.3L548.8 868.5L552.0 869.3L555.2 869.6L558.4 869.3L560.0 868.3L563.2 868.6L565.6 868.9L568.0 869.6L567.2 870.5L568.8 872.1L571.1 872.9L573.2 871.8L575.1 872.0L578.3 871.7L581.5 872.0L583.9 871.7L585.5 870.5L587.1 870.1L589.5 869.9L593.5 870.4L596.7 870.5L599.9 871.0L602.3 871.8L604.7 872.8L607.9 872.8L611.1 872.6L614.3 872.8L617.1 873.6L617.1 874.5L619.1 875.0L622.3 874.7L625.4 874.9L628.6 874.9L631.0 874.2L633.7 874.1L637.4 874.4L641.4 874.5L644.6 874.9L647.0 875.3L649.4 876.0L649.4 882.2L647.0 882.8L645.1 882.5L643.8 882.8L645.6 883.3L647.2 884.6L648.1 886.0L644.6 886.2L641.4 887.0L639.5 887.5L636.6 888.7L634.2 889.9L632.6 889.4L630.2 889.4L627.4 889.9L625.4 890.5L623.2 890.5L622.6 891.5L620.7 892.9L621.0 893.7L622.6 894.0L621.9 895.4L620.7 896.2L620.2 897.7L617.9 899.3L617.5 900.5L615.2 901.7L614.3 902.9L612.4 904.5L611.9 903.3L611.1 901.3L610.4 899.0L610.4 897.4L611.1 895.8L612.4 894.5L613.5 893.7L615.1 893.4L616.7 892.4L617.9 891.3L620.2 889.7L621.5 888.6L623.1 887.6L623.8 886.5L622.7 886.2L621.1 887.3L618.3 888.3L617.1 888.3L616.7 887.5L613.5 887.5L612.4 888.3L609.5 890.3L607.9 891.3L604.7 891.8L602.3 891.0L599.1 891.3L595.9 891.1L593.5 891.3L590.3 891.3L587.9 892.2L586.3 893.5L583.9 894.8L582.3 895.9L580.7 897.4L579.9 898.8L581.8 899.3L583.3 899.4L584.7 899.4L586.6 900.5L587.6 901.7L587.1 902.9L586.5 904.5L586.3 906.1L586.0 908.5L583.9 910.4L582.5 912.0L580.7 913.6L578.3 915.7L575.9 917.0L573.5 917.3L571.9 917.8L570.7 918.4L569.9 919.1L569.1 920.5L568.8 921.3L567.2 922.1L565.7 922.7L565.6 923.7L567.0 924.6L568.3 926.1L568.6 927.7L568.6 929.0L568.0 929.9L566.4 930.2L565.2 930.7L564.0 931.0L563.6 929.9L564.1 928.8L563.8 927.7L564.4 926.6L563.5 925.6L561.9 925.6L562.0 924.5L561.2 923.4L560.5 922.2L559.2 922.4L557.3 923.0L556.3 923.8L555.3 923.7L556.1 922.7L556.8 921.5L555.7 920.7L554.4 921.5L552.9 922.2L552.0 923.4L550.4 923.4L549.8 924.3L550.7 925.3L551.7 926.1L552.3 926.6L553.9 925.9L555.2 925.8L557.1 926.1L557.6 927.0L555.2 927.5L554.1 928.3L552.9 929.1L552.3 930.4L553.9 931.2L554.9 933.3L555.0 934.4L556.5 935.2L556.6 936.6L555.7 937.1L556.8 938.2L556.1 939.3L556.3 940.8L555.2 941.2L554.4 942.5L553.6 943.6L552.9 945.1L552.0 946.0L550.7 946.7L549.3 948.1L548.0 949.4L546.4 949.5L544.8 950.2L543.7 950.5L542.7 950.8L541.6 951.1L540.3 951.5L538.9 951.8L538.4 952.7L537.9 953.5L537.3 952.4L537.0 951.3L535.2 951.3L533.5 951.9L532.3 952.9L531.2 954.2L530.7 955.4L531.9 956.9L532.3 958.2L533.3 959.1L534.7 960.2L535.9 961.5L536.3 963.7L536.5 965.5L536.3 967.4L535.2 968.2L533.3 969.2L532.3 969.3L531.5 970.6L529.9 972.0L529.3 972.2L529.3 971.1L529.6 970.0L528.8 969.3L527.2 969.0L526.4 968.0L525.8 966.6L524.4 965.7L523.1 965.7L523.1 964.4L521.8 964.5L521.5 966.0L520.8 968.0L520.4 969.5L520.4 971.2L521.5 972.2L522.1 974.0L522.8 974.9L523.7 974.9L525.0 976.0L526.3 977.0L527.1 978.1L527.1 979.5L526.9 980.8L527.2 981.5L527.9 982.4L528.4 983.5L527.4 983.8L526.9 983.4L525.8 982.7L524.0 981.5L523.2 980.5L522.6 979.1L522.1 977.6L522.1 976.2L521.6 975.5L521.2 974.8L520.4 973.5L519.2 973.2L518.9 971.7L519.4 970.0L519.2 968.4L519.6 966.8L518.9 965.2L518.6 963.6L518.1 962.0L517.8 960.2L517.3 959.0L516.2 959.4L515.3 959.9L514.3 960.7L513.2 960.4L512.5 959.1L512.9 957.5L512.4 955.9L511.4 955.0L510.5 954.0L509.5 952.9L509.2 951.8L508.9 950.5L508.2 949.9L506.8 950.7L506.2 951.0L504.9 951.0L503.8 951.5L502.8 951.1L501.2 951.6L500.7 952.7L500.2 953.8L498.5 954.6L497.4 955.3L496.1 956.7L494.8 957.8L493.4 958.8L493.2 959.6L491.6 960.5L490.2 960.5L489.9 961.8L490.0 963.6L490.2 965.2L489.5 966.5L489.4 967.9L488.7 969.5L487.9 970.8L486.8 971.6L486.7 972.7L485.7 973.2L484.9 972.7L484.1 971.7L483.6 970.3L483.0 968.4L482.4 967.1L481.4 965.5L481.1 963.9L480.4 962.3L479.5 960.7L479.0 958.8L478.5 956.9L478.2 955.3L478.2 953.4L478.0 951.9L477.7 950.5L476.1 952.3L475.0 952.7L473.4 951.9L472.1 950.5L473.1 949.7L474.4 949.2L472.5 949.4L471.5 948.7L470.9 948.1L469.7 947.6L469.1 946.3L468.3 945.4L466.5 945.5L464.5 945.5L462.6 945.7L460.3 945.7L458.6 945.4L456.6 945.2L455.1 945.1L453.5 944.8L453.0 943.2L451.9 942.7L450.6 943.3L449.5 943.6L447.4 943.2L445.8 942.2L444.2 941.4L443.1 940.0L442.1 939.0L441.0 938.2L439.9 937.9L439.2 938.2L438.6 939.0L439.1 940.4L439.9 941.9L441.0 943.0L442.0 944.0L442.1 945.1L442.8 946.0L443.1 946.5L443.7 946.7L444.4 945.5L444.2 944.3L443.6 944.4L444.4 947.0L445.8 947.3L447.4 947.5L449.0 947.1L450.4 945.7L451.4 944.8L452.0 944.0L452.0 946.0L452.7 947.1L453.8 947.9L455.4 948.3L456.8 949.9L457.4 950.2L456.6 951.8L455.5 953.2L454.6 953.4L454.1 954.5L454.1 955.8L452.3 956.2L451.9 957.4L450.3 957.8L449.8 958.8L448.2 959.0L446.7 959.4L445.3 960.4L443.4 961.5L441.0 962.5L439.6 963.6L438.3 963.9L436.4 964.5L434.8 964.9L433.8 965.5L432.5 965.8L431.4 965.8L430.9 964.9L430.6 963.6L430.3 962.0L430.1 960.7L429.8 959.4L428.7 957.8L427.7 956.2L426.8 954.8L425.5 953.5L424.4 951.9L424.2 950.5L423.4 948.6L422.5 947.1L421.5 946.0L420.9 944.8L419.9 943.5L418.8 941.9L417.8 941.1L417.2 941.1L417.0 939.6L416.6 940.8L416.1 941.6L415.6 940.9L414.6 939.8L414.0 938.4L413.5 936.1L414.3 936.3L415.9 936.3L416.7 936.0L417.4 934.7L417.8 933.4L418.3 932.3L419.0 930.7L419.3 929.3L419.4 928.5L419.1 927.5L417.5 927.2L416.2 928.0L414.6 928.3L413.4 928.2L411.8 927.4L410.5 928.0L409.1 928.2L407.5 927.4L405.9 927.0L405.5 925.9L404.9 924.8L404.3 924.3L404.7 923.5L403.8 922.9L403.6 922.1L404.4 921.5L405.9 921.5L407.9 921.5L408.6 920.7L408.3 920.3L407.0 920.5L405.5 920.8L403.9 921.0L402.7 920.7L401.1 920.7L400.0 921.0L400.0 921.8L399.2 922.1L398.2 921.3L398.0 922.1L398.7 923.0L398.4 923.8L399.5 924.5L400.3 925.3L398.8 926.2L398.4 927.2L397.7 927.7L396.6 927.2L396.0 925.9L395.6 924.8L396.4 924.6L395.2 923.7L394.2 922.9L393.3 921.6L392.9 920.5L393.1 919.2L391.8 918.3L390.5 917.5L389.4 916.7L388.0 916.5L386.9 915.7L386.1 914.9L385.3 914.0L384.6 913.6L383.7 913.2L382.9 913.0L381.8 913.5L381.6 914.4L381.8 915.4L382.7 916.2L383.7 916.5L384.6 917.9L385.9 918.7L387.5 919.2L387.7 919.9L389.4 920.7L390.7 921.1L391.5 921.8L391.0 922.4L389.7 921.6L388.8 921.8L388.5 922.7L389.3 923.7L388.5 924.6L387.7 925.4L387.0 925.3L387.2 924.0L387.7 923.0L387.0 922.1L386.2 921.8L385.6 921.1L384.5 920.8L383.7 920.2L382.1 919.9L381.1 918.9L379.8 918.3L378.7 917.5L378.2 915.9L377.4 915.5L376.0 915.1L374.7 915.9L373.8 916.2L372.5 917.0L371.1 917.1L369.6 916.7L368.3 916.5L367.1 917.0L366.9 918.1L367.1 919.1L365.5 920.0L363.5 920.5L363.1 921.1L361.9 922.2L361.5 923.2L362.3 924.2L361.0 925.0L360.7 925.9L359.4 926.9L358.4 927.4L356.5 927.4L354.8 927.5L353.6 928.0ZM352.5 928.8L352.0 929.7L350.9 931.5L349.7 932.3L348.2 932.8L347.1 934.1L346.3 935.8L346.5 937.4L346.0 939.0L344.5 940.0L342.8 940.9L341.0 941.7L339.9 943.3L338.8 944.6L338.3 946.0L337.4 947.6L336.4 948.7L335.8 950.3L334.8 951.8L334.8 952.7L335.6 954.0L335.9 955.3L336.2 956.9L335.9 958.8L335.6 960.1L334.6 961.7L334.0 962.5L334.6 963.1L335.3 964.2L335.3 965.8L335.9 966.8L337.0 967.4L337.8 968.4L338.6 969.2L339.6 970.0L340.9 971.1L340.9 972.4L341.7 973.5L342.8 974.3L343.7 975.1L345.0 976.0L346.3 977.0L347.9 978.3L349.7 978.9L351.1 978.4L352.7 977.9L354.6 977.6L356.7 977.8L358.1 978.3L359.1 978.1L360.4 977.3L361.9 977.0L363.5 976.5L365.0 976.0L366.4 975.7L367.7 975.9L369.0 975.9L369.9 976.7L370.9 977.9L371.4 979.1L372.6 979.1L373.9 978.9L375.5 978.7L376.2 979.4L377.3 980.0L377.8 981.1L377.6 982.4L377.3 984.2L376.8 985.3L376.3 986.9L377.0 988.5L378.2 990.1L379.7 992.0L380.8 993.3L381.4 995.2L381.6 998.7L425.0 998.7L424.7 996.1L424.1 994.9L424.7 993.4L425.3 992.1L426.1 990.7L426.8 989.8L427.9 989.0L428.9 987.7L429.8 986.6L431.3 985.1L432.4 984.0L433.8 983.0L435.7 981.8L437.3 980.0L438.4 978.7L439.6 977.3L440.8 975.1L441.8 973.2L442.8 971.6L443.4 969.3L443.9 967.1L442.6 966.9L441.3 967.6L439.9 967.9L438.3 968.2L436.4 968.7L434.8 968.8L433.2 969.3L431.7 968.5L430.9 967.6L430.0 967.4L430.9 966.6L431.1 965.8L430.1 964.7L429.3 964.1L428.4 963.1L427.6 962.5L426.6 961.8L425.2 961.2L424.6 960.1L423.9 958.3L423.1 956.7L421.8 956.1L421.5 954.8L421.2 953.0L420.9 951.5L420.2 950.2L418.8 948.9L418.6 947.6L417.8 946.0L416.9 944.1L416.1 942.8L415.1 941.2L414.2 939.8L413.7 938.2L413.5 936.1L412.7 935.7L411.5 935.5L410.0 935.8L408.9 936.6L407.5 936.5L405.9 936.0L403.9 935.5L402.2 935.5L400.9 934.9L399.2 934.5L397.9 933.6L396.3 933.4L394.7 934.2L393.9 935.3L393.7 936.5L392.6 937.6L391.3 937.1L390.1 936.5L388.3 936.0L386.9 935.5L386.2 934.4L384.5 933.6L382.9 933.4L381.3 933.6L379.8 932.9L378.9 932.1L378.4 931.3L379.2 930.4L379.7 929.6L378.9 928.8L378.7 927.7L379.7 926.9L378.2 926.6L377.1 926.4L375.4 927.0L373.8 926.7L372.0 926.9L370.4 927.4L368.8 927.0L367.1 927.2L365.5 927.5L363.9 927.7L362.4 928.6L361.0 929.0L360.0 929.6L358.6 929.9L357.2 929.6L355.6 929.7L353.6 929.0ZM352.8 906.1L356.4 905.7L360.4 904.9L364.2 904.2L364.7 901.8L362.4 900.7L361.5 899.3L359.7 898.2L359.1 896.7L357.8 896.1L359.1 894.2L356.8 892.4L354.0 892.4L352.8 894.0L353.0 896.1L352.4 897.4L354.3 898.5L356.7 898.5L356.5 899.7L357.2 900.9L354.8 900.9L355.2 902.5L353.6 903.4L356.7 903.9L355.2 904.5L353.2 905.7ZM352.4 902.8L351.9 900.9L352.4 899.7L353.0 898.8L352.0 897.8L350.3 897.7L348.7 898.0L348.2 899.3L346.0 900.2L346.1 901.5L346.5 902.6L345.5 903.3L346.8 903.7L348.5 903.6L350.8 902.8ZM379.5 860.3L382.7 858.7L387.5 858.4L390.7 859.1L395.5 858.4L405.1 857.9L405.9 859.1L400.3 860.7L397.1 862.4L394.7 861.4L389.1 863.7L385.1 862.7L383.5 861.4ZM444.2 871.8L447.4 873.1L453.0 873.3L450.6 871.0L451.4 869.1L455.4 867.4L459.4 865.6L464.2 864.3L469.7 863.0L472.1 863.5L467.3 865.0L461.8 866.7L457.0 868.9L453.0 871.8L447.4 870.1L445.0 871.0ZM455.4 874.2L458.6 874.7L457.0 873.6ZM437.0 857.5L441.8 858.3L449.8 858.3L457.8 857.8L462.6 856.7L456.2 855.5L448.2 855.9L441.8 856.7ZM508.9 860.8L515.3 861.1L520.8 860.2L523.2 858.6L520.0 857.3L516.9 856.5L512.1 856.7L508.9 857.9L510.5 859.5ZM581.5 866.6L586.3 867.8L591.1 868.9L595.9 868.2L601.5 866.4L598.3 865.4L593.5 864.6L588.7 865.3L584.7 864.8L580.7 865.6ZM585.5 869.1L589.5 869.4L591.1 868.6L587.1 868.2ZM647.2 872.6L649.4 872.9L649.4 871.7L647.2 872.0ZM74.5 872.9L78.5 872.6L77.4 871.8L74.5 871.7ZM74.5 876.0L78.5 876.9L82.5 878.0L87.3 879.2L90.8 880.4L88.9 881.7L86.5 883.0L84.4 883.2L81.7 882.2L80.1 881.4L76.9 881.6L74.5 882.2ZM87.6 884.3L91.3 884.9L92.4 885.1L89.7 885.4L87.6 884.7ZM114.9 894.6L117.1 894.6L118.9 894.0L117.6 893.4L115.5 893.8ZM96.1 900.5L97.7 899.7L95.4 899.7ZM92.1 901.7L93.7 900.9L91.3 901.3ZM588.7 912.5L591.1 911.7L590.3 907.7L592.7 907.7L590.6 904.5L590.8 902.1L590.3 900.5L589.5 899.3L588.2 900.9L588.7 903.7L588.6 907.7L588.6 910.9ZM585.5 919.7L587.4 919.2L587.1 918.1L590.8 918.9L594.3 916.8L593.8 915.4L591.9 915.4L588.4 913.5L588.1 915.7L587.4 917.0L585.8 917.6L586.0 918.9ZM571.0 931.7L572.4 930.7L574.3 929.3L577.9 929.0L579.6 927.8L580.4 926.6L581.2 927.2L583.1 926.6L584.7 925.0L585.2 923.4L585.5 921.6L586.0 920.0L587.6 920.0L587.9 921.3L588.7 922.9L587.9 924.8L587.1 926.1L586.8 927.2L586.5 928.8L585.5 929.9L584.2 929.6L583.4 930.5L581.5 930.7L580.4 931.0L579.1 932.5L577.9 932.0L577.9 930.9L576.3 930.7L574.3 931.2L573.1 931.8L571.5 931.8ZM572.7 933.3L574.3 933.6L577.1 932.0L576.4 931.2L574.3 931.7L573.4 931.8ZM568.9 932.8L571.0 931.8L572.4 932.8L571.8 935.8L570.5 936.5L569.9 935.7L569.7 934.1ZM553.7 949.2L554.7 950.8L556.0 949.7L556.6 946.8L556.0 945.5L554.9 946.3L553.9 947.9ZM535.5 955.3L537.3 956.9L538.6 956.1L539.2 954.5L538.4 953.8L536.8 954.0L535.5 954.6ZM489.4 973.2L489.7 975.5L490.7 976.5L492.6 975.5L491.8 972.7L490.2 970.3L489.5 971.2ZM554.5 956.4L557.1 956.4L557.4 958.8L556.0 961.2L556.8 963.6L560.0 965.2L559.2 963.9L556.3 963.1L554.5 962.8L553.7 962.0L553.3 960.1L554.1 959.4ZM556.8 974.8L559.2 973.5L560.8 972.4L562.4 970.4L563.8 972.4L563.5 975.5L562.0 976.7L560.3 976.0L559.2 974.0L557.1 974.9ZM556.8 968.4L559.2 969.2L561.6 967.6L562.5 965.8L560.0 966.0L557.6 966.8ZM560.3 970.0L561.9 970.0L562.4 968.0L560.8 967.6ZM549.1 972.5L551.2 970.9L552.8 969.0L552.5 968.4L550.4 970.0ZM554.1 964.4L555.5 964.7L556.0 966.0L554.9 966.3L554.1 965.2ZM536.0 983.5L537.0 982.7L539.2 983.4L539.7 981.8L542.4 980.8L544.0 978.6L546.4 977.5L548.5 975.1L549.9 975.7L550.7 976.7L552.3 977.6L550.9 978.9L549.9 979.9L550.2 982.4L551.8 984.3L550.2 984.8L549.6 987.2L548.2 988.3L548.0 990.4L547.4 992.0L545.1 992.5L543.2 991.2L540.8 991.5L539.7 990.7L537.9 990.5L537.6 988.5L536.5 986.7L536.0 985.1ZM514.1 977.0L516.1 977.6L517.7 977.6L519.2 979.2L521.2 980.8L522.6 982.6L524.0 983.2L525.6 984.3L527.2 985.6L527.7 987.5L529.6 988.8L530.9 990.5L531.2 992.3L531.1 995.2L528.8 995.3L525.6 992.6L523.2 990.1L521.6 987.5L520.0 985.4L519.2 983.2L517.3 981.5L515.7 979.9L514.1 978.1ZM552.8 994.7L554.2 994.7L554.2 990.7L555.2 990.1L557.4 993.3L558.7 993.3L556.8 990.7L555.7 988.8L558.4 987.4L556.5 987.4L554.5 988.0L553.6 985.1L555.2 985.1L558.4 984.5L560.8 984.3L561.9 983.4L560.9 985.1L558.7 985.3L554.9 983.8L553.9 984.6L553.3 985.9L552.5 988.3L551.7 990.2L552.8 991.5ZM565.6 983.0L566.7 983.5L567.5 985.0L566.4 985.9L567.2 987.2L565.9 986.7L565.6 984.6ZM571.1 988.2L573.5 986.6L575.9 987.4L576.7 989.9L578.3 991.2L581.5 988.5L583.9 989.1L587.1 990.1L591.1 991.2L594.3 992.8L595.1 994.4L597.5 995.8L598.3 998.7L569.6 998.7L572.7 992.3L574.0 992.3L571.9 990.7L572.7 989.9L574.3 989.9L572.7 989.1ZM598.8 994.9L601.5 993.9L603.9 993.1L605.0 992.6L604.4 993.9L602.3 995.8L599.9 995.8ZM602.6 990.1L604.7 991.5L606.3 993.1L605.5 993.6L603.6 991.0ZM566.4 991.2L569.6 990.7L570.8 991.5L568.8 991.8L566.7 992.0ZM563.2 991.0L565.1 991.0L564.8 992.1L563.3 992.0ZM375.4 923.7L377.3 923.5L377.6 921.3L376.6 920.2L375.0 920.7L375.4 922.1ZM375.7 919.9L377.0 919.7L377.1 917.9L375.7 918.1ZM381.8 925.6L383.5 925.0L386.9 924.8L386.2 926.6L386.1 927.4L384.8 927.2L382.1 926.1ZM399.5 929.6L401.1 929.4L403.9 929.6L403.2 930.1L401.1 930.1ZM413.5 930.5L414.6 930.7L416.2 930.1L417.2 929.0L415.4 929.6L413.9 929.9ZM390.9 895.0L392.1 894.2L391.8 893.5ZM379.7 897.7L382.1 897.2L381.6 896.4L379.5 896.9ZM447.1 965.8L449.0 965.8L448.2 966.3ZM510.0 965.3L510.5 965.8L510.1 967.6L509.7 966.8ZM375.5 980.0L376.2 980.0L375.8 980.8ZM337.2 940.8L339.6 940.8L340.4 939.6L337.2 941.2ZM322.8 959.6L324.4 961.2L322.8 962.0ZM236.6 870.1L233.4 869.7L232.6 868.5L236.6 868.2L239.0 869.1ZM243.8 877.7L239.0 878.4L238.5 877.1L242.2 876.8ZM209.4 861.9L205.1 862.1L205.4 860.2L209.4 860.5ZM182.3 859.5L186.3 859.4L184.7 858.7ZM181.5 862.6L189.5 862.9L191.9 861.4L187.9 859.9L182.3 860.0L179.9 861.4ZM193.5 862.6L197.5 862.7L197.8 861.9L194.3 861.8ZM235.0 887.5L232.9 887.6L233.4 886.3L234.8 886.5ZM235.0 896.6L234.2 895.8L235.3 895.6ZM233.4 901.5L231.0 901.3L232.3 900.9ZM258.9 907.6L262.9 907.1L263.4 907.6L259.7 906.5ZM259.1 911.6L262.9 911.9L261.3 912.4ZM263.7 913.2L266.1 912.5L265.3 910.9L264.1 911.7ZM207.8 862.6L211.8 862.4L211.0 861.8L208.2 861.8ZM215.8 862.7L218.5 862.6L217.4 862.1ZM263.4 960.3L264.1 960.3L264.1 959.8L263.4 959.8ZM263.7 961.6L264.3 961.6L264.3 961.1L263.7 961.1ZM264.2 962.9L264.9 962.9L264.9 962.4L264.2 962.4ZM264.3 964.0L264.9 964.0L264.9 963.5L264.3 963.5ZM266.5 965.2L267.2 965.2L267.2 964.7L266.5 964.7ZM263.9 965.0L264.5 965.0L264.5 964.5L263.9 964.5ZM263.1 966.9L263.7 966.9L263.7 966.4L263.1 966.4ZM262.9 959.0L263.6 959.0L263.6 958.5L262.9 958.5ZM261.5 958.6L262.1 958.6L262.1 958.1L261.5 958.1ZM258.3 957.0L258.9 957.0L258.9 956.5L258.3 956.5ZM216.3 987.1L216.9 987.1L216.9 986.6L216.3 986.6ZM217.4 986.6L218.1 986.6L218.1 986.2L217.4 986.2ZM478.8 979.8L479.5 979.8L479.5 979.3L478.8 979.3ZM477.7 968.6L478.4 968.6L478.4 968.1L477.7 968.1ZM592.9 964.8L593.5 964.8L593.5 964.3L592.9 964.3ZM594.3 961.9L594.9 961.9L594.9 961.4L594.3 961.4ZM576.4 974.4L577.1 974.4L577.1 973.9L576.4 973.9ZM582.2 971.0L582.8 971.0L582.8 970.5L582.2 970.5ZM604.0 974.4L604.7 974.4L604.7 973.9L604.0 973.9ZM614.3 975.2L614.9 975.2L614.9 974.7L614.3 974.7ZM621.9 977.7L622.6 977.7L622.6 977.2L621.9 977.2ZM635.0 974.8L635.7 974.8L635.7 974.4L635.0 974.4ZM631.0 971.8L631.7 971.8L631.7 971.3L631.0 971.3ZM627.7 955.4L628.3 955.4L628.3 954.9L627.7 954.9ZM588.7 942.9L589.4 942.9L589.4 942.4L588.7 942.4ZM565.9 943.9L566.5 943.9L566.5 943.4L565.9 943.4ZM568.4 941.0L569.1 941.0L569.1 940.5L568.4 940.5ZM560.0 947.2L560.6 947.2L560.6 946.7L560.0 946.7ZM563.6 932.9L564.3 932.9L564.3 932.4L563.6 932.4ZM316.9 924.6L317.6 924.6L317.6 924.1L316.9 924.1ZM320.9 925.8L321.5 925.8L321.5 925.4L320.9 925.4ZM334.6 934.0L335.3 934.0L335.3 933.5L334.6 933.5ZM258.1 934.6L258.8 934.6L258.8 934.1L258.1 934.1ZM350.5 887.2L351.1 887.2L351.1 886.7L350.5 886.7ZM359.6 889.9L360.2 889.9L360.2 889.5L359.6 889.5ZM356.8 892.0L357.5 892.0L357.5 891.5L356.8 891.5ZM384.0 877.3L384.6 877.3L384.6 876.8L384.0 876.8ZM510.9 973.4L511.6 973.4L511.6 972.9L510.9 972.9ZM597.2 914.4L597.8 914.4L597.8 913.9L597.2 913.9ZM601.2 912.0L601.8 912.0L601.8 911.5L601.2 911.5ZM606.0 909.6L606.6 909.6L606.6 909.1L606.0 909.1ZM610.0 906.4L610.6 906.4L610.6 905.9L610.0 905.9ZM626.7 898.4L627.4 898.4L627.4 897.9L626.7 897.9ZM89.8 894.9L90.5 894.9L90.5 894.4L89.8 894.4ZM96.2 890.4L96.9 890.4L96.9 889.9L96.2 889.9ZM85.8 889.8L86.5 889.8L86.5 889.3L85.8 889.3ZM87.0 902.7L87.6 902.7L87.6 902.2L87.0 902.2ZM80.6 903.5L81.2 903.5L81.2 903.0L80.6 903.0ZM77.4 903.5L78.0 903.5L78.0 903.0L77.4 903.0ZM645.9 903.3L646.5 903.3L646.5 902.9L645.9 902.9ZM638.7 901.9L639.3 901.9L639.3 901.4L638.7 901.4ZM83.0 902.9L83.6 902.9L83.6 902.4L83.0 902.4ZM99.7 899.0L100.4 899.0L100.4 898.6L99.7 898.6ZM106.9 951.0L107.6 951.0L107.6 950.5L106.9 950.5ZM110.9 952.5L111.5 952.5L111.5 952.0L110.9 952.0ZM112.0 953.0L112.7 953.0L112.7 952.5L112.0 952.5ZM445.5 966.7L446.1 966.7L446.1 966.2L445.5 966.2ZM424.4 995.7L425.0 995.7L425.0 995.3L424.4 995.3ZM425.0 994.3L425.7 994.3L425.7 993.8L425.0 993.8Z" fill="#cacaca"/>
<g clip-path="url(#cland)"><g clip-path="url(#cdata)">
<rect x="74.5" y="842.3" width="574.90" height="151.60" filter="url(#fo)"/>
<g clip-path="url(#cpale)"><rect x="74.5" y="842.3" width="574.90" height="151.60" filter="url(#fw)"/></g>
<g clip-path="url(#carc)"><rect x="74.5" y="842.3" width="574.90" height="151.60" filter="url(#fa)"/></g>
<g clip-path="url(#cpale)"><rect x="74.5" y="842.3" width="574.90" height="151.60" filter="url(#fq)"/></g>
<g clip-path="url(#cpink)"><rect x="74.5" y="842.3" width="574.90" height="151.60" filter="url(#fp)"/></g>
<path d="M494.5 932.8L502.5 932.0L509.7 932.8L510.5 936.5L502.5 937.4L494.5 937.1Z" fill="#cacaca"/>
<g clip-path="url(#chatch)"><path d="M-77.1 993.9L74.5 842.3M-70.2 993.9L81.4 842.3M-63.3 993.9L88.3 842.3M-56.4 993.9L95.2 842.3M-49.5 993.9L102.1 842.3M-42.6 993.9L109.0 842.3M-35.7 993.9L115.9 842.3M-28.8 993.9L122.8 842.3M-21.9 993.9L129.7 842.3M-15.0 993.9L136.6 842.3M-8.1 993.9L143.5 842.3M-1.2 993.9L150.4 842.3M5.7 993.9L157.3 842.3M12.6 993.9L164.2 842.3M19.5 993.9L171.1 842.3M26.4 993.9L178.0 842.3M33.3 993.9L184.9 842.3M40.2 993.9L191.8 842.3M47.1 993.9L198.7 842.3M54.0 993.9L205.6 842.3M60.9 993.9L212.5 842.3M67.8 993.9L219.4 842.3M74.7 993.9L226.3 842.3M81.6 993.9L233.2 842.3M88.5 993.9L240.1 842.3M95.4 993.9L247.0 842.3M102.3 993.9L253.9 842.3M109.2 993.9L260.8 842.3M116.1 993.9L267.7 842.3M123.0 993.9L274.6 842.3M129.9 993.9L281.5 842.3M136.8 993.9L288.4 842.3M143.7 993.9L295.3 842.3M150.6 993.9L302.2 842.3M157.5 993.9L309.1 842.3M164.4 993.9L316.0 842.3M171.3 993.9L322.9 842.3M178.2 993.9L329.8 842.3M185.1 993.9L336.7 842.3M192.0 993.9L343.6 842.3M198.9 993.9L350.5 842.3M205.8 993.9L357.4 842.3M212.7 993.9L364.3 842.3M219.6 993.9L371.2 842.3M226.5 993.9L378.1 842.3M233.4 993.9L385.0 842.3M240.3 993.9L391.9 842.3M247.2 993.9L398.8 842.3M254.1 993.9L405.7 842.3M261.0 993.9L412.6 842.3M267.9 993.9L419.5 842.3M274.8 993.9L426.4 842.3M281.7 993.9L433.3 842.3M288.6 993.9L440.2 842.3M295.5 993.9L447.1 842.3M302.4 993.9L454.0 842.3M309.3 993.9L460.9 842.3M316.2 993.9L467.8 842.3M323.1 993.9L474.7 842.3M330.0 993.9L481.6 842.3M336.9 993.9L488.5 842.3M343.8 993.9L495.4 842.3M350.7 993.9L502.3 842.3M357.6 993.9L509.2 842.3M364.5 993.9L516.1 842.3M371.4 993.9L523.0 842.3M378.3 993.9L529.9 842.3M385.2 993.9L536.8 842.3M392.1 993.9L543.7 842.3M399.0 993.9L550.6 842.3M405.9 993.9L557.5 842.3M412.8 993.9L564.4 842.3M419.7 993.9L571.3 842.3M426.6 993.9L578.2 842.3M433.5 993.9L585.1 842.3M440.4 993.9L592.0 842.3M447.3 993.9L598.9 842.3M454.2 993.9L605.8 842.3M461.1 993.9L612.7 842.3M468.0 993.9L619.6 842.3M474.9 993.9L626.5 842.3M481.8 993.9L633.4 842.3M488.7 993.9L640.3 842.3M495.6 993.9L647.2 842.3M502.5 993.9L654.1 842.3M509.4 993.9L661.0 842.3M516.3 993.9L667.9 842.3M523.2 993.9L674.8 842.3M530.1 993.9L681.7 842.3M537.0 993.9L688.6 842.3M543.9 993.9L695.5 842.3M550.8 993.9L702.4 842.3M557.7 993.9L709.3 842.3M564.6 993.9L716.2 842.3M571.5 993.9L723.1 842.3M578.4 993.9L730.0 842.3M585.3 993.9L736.9 842.3M592.2 993.9L743.8 842.3M599.1 993.9L750.7 842.3M606.0 993.9L757.6 842.3M612.9 993.9L764.5 842.3M619.8 993.9L771.4 842.3M626.7 993.9L778.3 842.3M633.6 993.9L785.2 842.3M640.5 993.9L792.1 842.3M647.4 993.9L799.0 842.3M654.3 993.9L805.9 842.3" stroke="#2e2e2a" stroke-width="1" stroke-dasharray="1.1 0.9" fill="none"/></g>
<g clip-path="url(#chatch2)"><path d="M-77.1 993.9L74.5 842.3M-70.2 993.9L81.4 842.3M-63.3 993.9L88.3 842.3M-56.4 993.9L95.2 842.3M-49.5 993.9L102.1 842.3M-42.6 993.9L109.0 842.3M-35.7 993.9L115.9 842.3M-28.8 993.9L122.8 842.3M-21.9 993.9L129.7 842.3M-15.0 993.9L136.6 842.3M-8.1 993.9L143.5 842.3M-1.2 993.9L150.4 842.3M5.7 993.9L157.3 842.3M12.6 993.9L164.2 842.3M19.5 993.9L171.1 842.3M26.4 993.9L178.0 842.3M33.3 993.9L184.9 842.3M40.2 993.9L191.8 842.3M47.1 993.9L198.7 842.3M54.0 993.9L205.6 842.3M60.9 993.9L212.5 842.3M67.8 993.9L219.4 842.3M74.7 993.9L226.3 842.3M81.6 993.9L233.2 842.3M88.5 993.9L240.1 842.3M95.4 993.9L247.0 842.3M102.3 993.9L253.9 842.3M109.2 993.9L260.8 842.3M116.1 993.9L267.7 842.3M123.0 993.9L274.6 842.3M129.9 993.9L281.5 842.3M136.8 993.9L288.4 842.3M143.7 993.9L295.3 842.3M150.6 993.9L302.2 842.3M157.5 993.9L309.1 842.3M164.4 993.9L316.0 842.3M171.3 993.9L322.9 842.3M178.2 993.9L329.8 842.3M185.1 993.9L336.7 842.3M192.0 993.9L343.6 842.3M198.9 993.9L350.5 842.3M205.8 993.9L357.4 842.3M212.7 993.9L364.3 842.3M219.6 993.9L371.2 842.3M226.5 993.9L378.1 842.3M233.4 993.9L385.0 842.3M240.3 993.9L391.9 842.3M247.2 993.9L398.8 842.3M254.1 993.9L405.7 842.3M261.0 993.9L412.6 842.3M267.9 993.9L419.5 842.3M274.8 993.9L426.4 842.3M281.7 993.9L433.3 842.3M288.6 993.9L440.2 842.3M295.5 993.9L447.1 842.3M302.4 993.9L454.0 842.3M309.3 993.9L460.9 842.3M316.2 993.9L467.8 842.3M323.1 993.9L474.7 842.3M330.0 993.9L481.6 842.3M336.9 993.9L488.5 842.3M343.8 993.9L495.4 842.3M350.7 993.9L502.3 842.3M357.6 993.9L509.2 842.3M364.5 993.9L516.1 842.3M371.4 993.9L523.0 842.3M378.3 993.9L529.9 842.3M385.2 993.9L536.8 842.3M392.1 993.9L543.7 842.3M399.0 993.9L550.6 842.3M405.9 993.9L557.5 842.3M412.8 993.9L564.4 842.3M419.7 993.9L571.3 842.3M426.6 993.9L578.2 842.3M433.5 993.9L585.1 842.3M440.4 993.9L592.0 842.3M447.3 993.9L598.9 842.3M454.2 993.9L605.8 842.3M461.1 993.9L612.7 842.3M468.0 993.9L619.6 842.3M474.9 993.9L626.5 842.3M481.8 993.9L633.4 842.3M488.7 993.9L640.3 842.3M495.6 993.9L647.2 842.3M502.5 993.9L654.1 842.3M509.4 993.9L661.0 842.3M516.3 993.9L667.9 842.3M523.2 993.9L674.8 842.3M530.1 993.9L681.7 842.3M537.0 993.9L688.6 842.3M543.9 993.9L695.5 842.3M550.8 993.9L702.4 842.3M557.7 993.9L709.3 842.3M564.6 993.9L716.2 842.3M571.5 993.9L723.1 842.3M578.4 993.9L730.0 842.3M585.3 993.9L736.9 842.3M592.2 993.9L743.8 842.3M599.1 993.9L750.7 842.3M606.0 993.9L757.6 842.3M612.9 993.9L764.5 842.3M619.8 993.9L771.4 842.3M626.7 993.9L778.3 842.3M633.6 993.9L785.2 842.3M640.5 993.9L792.1 842.3M647.4 993.9L799.0 842.3M654.3 993.9L805.9 842.3" stroke="#2e2e2a" stroke-width="1" stroke-dasharray="1.1 0.9" fill="none" opacity="0.45"/></g>
</g></g>
<g clip-path="url(#cdata)"><path d="M93.7 881.2L96.9 880.3L100.1 879.6L103.2 880.4L104.0 879.6L100.4 878.5L96.4 876.9L99.3 876.0L102.0 874.9L106.4 873.3L111.7 872.1L116.0 872.8L119.2 872.9L124.0 873.4L128.8 873.9L133.6 874.1L136.8 874.7L140.0 875.0L144.0 876.0L147.2 874.9L151.2 874.9L154.3 874.1L157.5 873.6L159.1 874.2L162.3 875.0L164.7 875.2L168.7 874.5L173.5 875.5L178.3 876.0L181.5 877.4L186.3 877.4L189.5 876.8L192.7 876.0L195.9 877.4L200.7 877.9L204.7 877.7L205.4 876.5L208.6 877.1L209.4 874.9L211.4 871.3L214.1 872.6L214.2 874.2L217.4 875.3L219.5 875.5L221.4 876.9L223.8 878.4L225.4 876.3L227.0 874.5L230.2 874.9L232.1 876.3L231.8 878.7L229.4 880.3L225.4 879.8L223.3 880.6L222.4 881.7L220.6 883.5L218.2 884.0L216.9 885.5L213.1 887.3L211.4 888.7L210.6 891.0L211.5 892.2L214.2 894.6L217.4 894.6L221.4 895.8L225.4 897.7L230.5 898.0L230.7 900.5L231.8 902.6L233.9 904.1L235.8 903.6L236.1 902.1L235.8 899.4L238.5 897.2L239.6 895.3L239.1 893.7L238.2 892.2L236.6 891.5L238.5 890.0L237.7 888.3L237.4 886.5L240.6 886.5L244.6 886.7L247.8 888.3L250.5 888.7L251.0 891.3L252.6 892.2L254.6 892.7L256.6 892.1L258.1 890.5L258.9 889.7L259.7 891.1L262.1 893.4L263.7 895.1L266.1 897.4L269.3 899.0L270.6 900.5L272.8 902.3L272.0 903.6L270.1 903.9L266.9 905.5L263.7 906.0L260.5 905.8L256.6 905.8L254.5 907.2L252.2 908.7L249.8 910.6L251.0 910.3L253.4 908.8L256.6 907.6L259.3 907.9L258.3 909.6L257.4 910.8L258.6 911.4L259.7 912.4L262.9 913.0L264.5 913.5L266.1 912.7L265.3 911.1L266.3 912.7L264.2 913.6L260.5 914.7L257.0 916.3L256.2 915.2L258.6 913.6L255.8 913.8L253.7 914.9L251.8 915.7L249.7 916.3L249.0 917.5L249.0 918.6L250.2 919.2L249.0 919.7L247.0 920.0L244.1 920.8L243.6 921.6L243.3 922.9L242.2 923.8L242.0 924.8L240.7 926.7L240.9 928.2L241.4 929.6L240.1 930.2L238.2 931.0L236.6 931.8L235.3 932.9L233.6 934.2L232.3 935.5L232.0 937.3L232.6 939.2L233.4 940.8L234.0 942.8L234.0 944.8L233.4 945.7L232.4 945.5L231.3 944.3L230.7 943.0L229.9 941.4L229.7 939.8L228.8 938.7L227.3 938.0L225.6 938.5L223.8 937.4L221.4 937.4L219.3 937.6L219.2 939.0L219.3 939.6L218.1 939.5L216.3 939.2L214.2 938.7L212.2 938.5L210.7 939.0L209.4 940.0L207.7 941.1L206.6 942.4L206.4 944.4L205.9 946.8L205.8 950.0L206.6 952.1L207.8 954.8L209.0 955.9L210.9 956.9L212.6 956.6L215.0 956.2L216.3 956.1L217.1 955.0L217.6 952.7L219.0 951.9L221.4 951.5L223.0 951.6L222.2 953.7L221.7 955.8L221.1 956.7L220.9 958.5L220.6 960.1L221.9 960.5L223.8 960.7L226.2 960.4L227.8 961.0L229.1 962.0L228.6 964.4L228.4 966.5L228.1 967.9L229.1 969.3L230.2 970.9L232.0 971.9L233.7 971.2L235.0 970.6L236.6 970.9L238.5 972.2L239.5 973.0L240.3 971.2L241.2 969.6L241.9 968.7L243.3 968.2L244.9 967.9L246.7 966.9L248.1 966.1L247.4 967.6L247.8 968.7L247.1 970.0L247.6 971.1L248.6 970.9L247.9 969.5L248.1 968.4L249.8 967.6L250.2 966.5L250.5 967.7L252.4 968.4L253.0 969.0L255.0 969.0L256.6 969.0L258.1 969.8L259.4 969.2L261.3 968.8L262.6 969.0L263.3 969.8L264.5 970.3L264.7 971.6L266.1 972.5L267.4 973.8L268.7 975.1L270.1 976.3L272.2 976.5L274.1 976.3L275.9 976.7L277.6 977.5L279.4 979.1L280.2 980.7L281.3 982.9L282.1 984.3L282.4 985.9L284.5 986.9L286.1 987.0L288.5 987.8L290.7 989.0L292.5 989.9L295.2 990.5L297.6 990.4L299.7 991.8L301.6 993.3L303.5 994.1L305.3 994.4L306.1 998.7L231.8 998.7L232.3 995.7L232.8 994.5L232.1 992.8L233.4 991.3L234.4 989.9L232.8 988.0L233.6 986.4L234.2 984.6L235.8 983.5L236.3 982.3L237.9 981.5L238.5 979.7L238.3 977.1L238.2 975.2L237.1 974.3L236.7 973.0L235.6 971.6L234.8 971.9L233.7 973.0L233.6 974.1L232.4 973.5L231.3 972.8L229.6 973.0L228.3 971.6L226.7 970.6L225.1 970.1L224.9 968.5L223.7 966.8L222.2 965.3L221.1 964.9L219.3 964.4L217.3 963.7L215.4 963.1L213.8 961.7L212.0 960.5L210.7 960.1L208.8 960.7L207.4 960.9L204.7 959.9L202.6 959.1L199.9 958.0L197.8 957.0L196.5 956.2L194.9 955.3L193.5 954.0L193.6 952.4L193.3 951.0L192.4 949.2L190.4 947.1L189.2 945.7L187.6 944.8L187.2 943.5L185.5 942.0L184.5 941.2L182.8 939.6L181.8 938.0L181.2 936.5L179.7 935.7L178.6 935.2L178.9 936.8L179.4 938.0L180.7 939.3L181.7 940.6L182.6 942.5L183.7 944.0L184.5 945.7L185.3 947.1L186.4 947.8L187.2 949.1L186.3 949.4L185.8 948.4L184.1 947.0L182.9 946.3L182.8 944.4L181.2 943.2L179.7 942.0L179.4 941.2L179.7 940.3L178.5 938.8L177.2 937.6L176.4 936.5L175.6 935.0L174.9 933.9L174.6 932.9L173.0 932.0L172.6 931.5L171.1 931.0L169.5 930.9L169.2 929.6L167.4 928.0L167.3 927.0L166.3 926.1L165.7 925.3L164.4 923.8L164.2 922.4L163.4 921.5L163.8 919.9L163.3 917.9L163.8 916.2L163.9 914.1L164.1 912.2L163.8 911.1L163.0 909.5L162.8 908.7L165.2 909.0L166.2 910.0L166.5 908.8L165.8 907.7L164.2 906.8L162.3 906.1L160.7 905.3L158.5 904.5L157.7 902.9L156.7 901.7L155.1 900.4L153.7 899.3L153.4 897.8L151.6 896.7L150.4 895.3L148.8 894.5L147.2 893.2L145.2 892.6L143.6 893.0L142.2 892.2L140.1 891.1L137.6 890.7L135.8 890.2L132.8 890.2L130.4 889.5L128.0 888.9L125.8 889.1L124.5 890.2L122.7 890.7L120.2 891.5L119.4 890.5L120.3 889.1L121.9 888.3L119.5 888.7L118.7 889.7L117.3 890.8L115.9 891.8L116.8 892.4L115.5 893.2L113.9 893.8L112.3 894.8L110.1 895.6L108.5 896.4L106.6 897.2L104.0 897.5L101.8 898.3L99.7 898.8L98.6 899.0L100.5 898.0L102.8 897.0L105.2 896.6L107.4 895.3L109.3 894.0L110.3 892.9L111.2 892.1L109.2 892.2L106.9 892.1L105.3 891.9L103.6 892.4L103.2 891.3L100.8 890.5L99.7 889.4L98.1 889.1L98.1 887.9L96.7 887.3L97.7 886.3L99.1 885.4L101.3 885.2L102.9 884.6L104.8 884.4L105.2 883.3L104.0 882.8L102.0 883.2L100.4 882.8L98.5 883.0L96.4 882.8L95.6 882.0L93.7 881.2ZM245.4 860.8L250.2 859.5L256.6 858.3L261.3 856.3L269.3 855.1L282.1 854.3L291.7 853.5L306.1 852.5L318.8 852.8L328.4 853.8L333.2 855.1L342.0 855.7L338.0 857.0L333.2 858.3L330.8 859.9L331.6 861.4L332.7 863.0L330.8 864.6L330.0 866.2L330.3 867.8L326.8 869.4L326.5 871.0L326.8 872.6L325.2 873.4L322.0 873.7L326.0 874.2L321.2 875.3L318.0 876.8L314.0 877.2L310.0 877.6L308.5 878.7L306.1 880.1L302.1 880.9L298.9 881.7L297.3 883.0L296.5 884.6L294.9 886.2L293.6 888.3L292.5 889.7L290.4 890.2L288.5 889.2L285.3 888.3L283.2 886.7L281.8 884.9L280.0 883.3L278.6 881.6L277.0 880.0L276.2 878.2L277.3 876.9L280.5 876.0L280.2 874.9L278.1 874.4L274.9 873.4L275.7 872.6L273.3 871.7L272.8 870.1L271.7 868.2L269.3 866.2L266.1 865.0L261.3 864.3L255.8 864.6L252.6 864.2L247.8 863.0L245.7 862.1L245.4 860.8ZM258.1 886.2L255.8 886.7L252.6 886.2L249.4 885.1L246.2 884.4L243.0 883.2L238.2 883.3L237.1 881.9L240.6 881.6L244.6 881.4L243.8 879.8L245.7 878.7L244.6 877.1L240.6 875.8L237.4 874.9L233.4 874.2L229.4 873.9L224.6 874.2L221.4 873.3L219.0 872.1L218.2 871.0L219.8 869.4L221.4 868.5L225.4 868.2L231.0 868.2L235.8 868.6L239.0 869.7L242.2 870.4L247.0 871.3L250.2 872.6L252.6 873.6L254.2 874.9L255.8 875.8L253.4 876.9L256.6 877.7L260.5 879.0L262.9 879.6L263.3 880.6L261.3 881.2L258.9 881.6L257.4 882.5L258.1 883.8L258.9 884.9L258.1 886.2ZM234.2 864.0L227.8 863.5L219.8 863.2L217.4 862.4L220.6 861.1L218.2 859.9L223.0 857.9L227.8 857.3L221.4 856.3L215.0 855.9L218.2 854.9L226.2 854.1L234.2 853.5L243.8 853.3L253.4 853.5L262.9 854.1L263.7 854.7L258.9 855.7L254.2 857.0L250.2 858.1L246.2 858.9L241.4 859.9L239.8 860.8L242.2 861.4L237.7 862.2L236.9 863.0ZM218.5 861.4L213.4 860.8L209.4 860.0L207.8 858.3L211.0 856.5L216.6 856.5L219.8 857.8L221.7 859.2L220.1 860.5ZM208.6 865.6L214.2 866.9L224.6 867.0L234.2 867.0L235.0 865.4L231.0 864.2L221.4 863.8L215.0 863.7L208.6 864.6ZM173.0 871.8L174.3 873.3L178.3 874.1L183.1 874.9L189.5 875.5L194.3 875.5L199.1 875.2L199.9 873.7L198.3 872.3L195.1 870.1L191.9 868.5L187.9 869.4L183.1 869.6L178.3 868.5L173.5 869.1L172.6 870.2ZM162.2 871.3L164.7 872.5L170.3 872.1L174.3 871.3L174.6 868.6L172.7 867.0L168.7 866.6L163.1 867.4L161.5 869.4ZM174.3 865.8L175.9 863.8L181.5 863.4L186.3 863.4L192.7 864.3L193.5 865.8L189.5 866.6L183.1 866.9L178.3 866.4ZM165.0 863.0L168.7 861.4L174.3 861.8L174.6 863.4L171.9 865.0L167.1 865.4ZM195.1 865.4L202.3 865.9L206.2 865.3L206.7 863.4L203.9 862.6L197.5 863.0ZM207.8 866.2L212.6 866.7L213.4 865.4L210.2 864.6ZM196.7 870.2L199.9 871.8L203.9 872.1L207.0 871.0L207.8 868.6L205.4 867.5L200.7 867.8L197.5 868.6ZM209.4 870.7L213.4 871.0L216.9 869.4L216.6 867.7L212.6 867.5L209.4 868.2ZM208.6 876.5L204.7 876.0L203.9 874.9L207.0 874.4L209.0 875.2ZM233.4 883.5L230.2 884.4L226.2 885.1L223.0 883.8L223.8 881.9L226.2 880.9L228.6 880.6L231.8 881.7ZM192.7 861.1L200.7 861.8L203.9 860.7L200.7 858.6L195.1 859.2ZM232.6 886.0L228.6 886.7L229.4 885.5L231.8 885.4ZM323.6 881.4L326.3 880.1L329.2 880.9L333.2 880.3L337.2 880.1L338.8 880.9L340.4 881.9L338.8 883.0L336.4 883.8L333.2 884.7L330.0 884.4L326.0 884.1L326.8 883.3L323.6 882.5L326.0 882.0ZM267.3 910.0L270.9 910.0L273.3 910.9L277.3 911.4L277.8 910.0L276.5 909.0L277.3 907.2L273.6 906.8L272.5 904.9L273.3 903.6L271.2 904.1L270.1 905.8L268.7 907.6L267.3 908.7ZM165.0 908.8L162.7 908.2L158.5 905.8L157.1 904.9L159.1 905.2L162.3 906.3L163.9 907.4ZM152.8 902.6L150.4 901.3L149.6 899.6L151.2 899.7L152.0 901.3ZM226.4 951.0L227.8 949.9L231.0 949.1L233.4 949.1L236.6 950.2L238.7 951.5L241.1 952.3L243.5 953.5L242.2 954.2L238.2 954.2L238.0 952.9L236.4 951.6L233.4 950.8L231.3 950.5L229.4 950.8L227.2 951.6ZM243.1 956.6L245.7 954.2L247.8 954.2L250.5 955.1L252.7 956.2L250.3 956.9L247.9 957.8L245.7 956.9ZM236.9 956.6L239.1 956.6L240.3 957.2L238.7 957.5L236.9 956.9ZM254.6 956.4L257.2 956.6L257.0 957.2L254.6 957.2ZM263.1 968.7L264.5 968.7L264.5 969.8L263.1 969.8ZM237.4 943.2L239.0 943.5L238.5 944.8ZM237.1 945.7L237.9 947.1L237.4 947.6ZM112.8 953.7L114.4 954.3L113.6 955.6L112.8 954.8ZM109.2 951.5L110.1 951.9L109.5 952.1ZM353.0 928.5L351.9 927.2L350.1 926.6L347.7 926.9L347.9 924.8L346.8 924.0L347.6 922.1L347.9 920.2L347.7 918.3L347.1 917.1L349.2 916.2L352.4 916.3L355.6 916.7L358.8 916.8L359.6 916.5L360.0 914.4L360.0 912.5L358.6 910.9L357.5 910.1L354.9 909.5L354.4 908.5L356.8 908.0L359.4 908.2L358.9 906.6L360.0 907.1L361.6 907.2L362.7 906.5L364.5 905.7L365.9 904.4L367.5 903.9L368.7 903.3L369.5 901.5L370.7 900.9L373.1 900.5L375.2 900.4L376.0 899.7L375.7 898.0L374.9 896.7L375.0 895.3L377.1 894.6L378.9 893.8L378.6 895.8L379.2 896.2L378.1 897.4L377.6 898.5L379.4 899.1L379.8 899.7L381.9 899.1L383.7 899.6L384.8 899.9L386.7 899.4L388.8 898.8L391.3 898.5L393.1 899.1L394.7 898.3L395.8 897.0L395.6 895.1L396.4 894.3L398.0 893.8L399.2 894.8L400.4 894.8L400.9 892.9L399.5 892.2L399.5 891.5L401.9 891.0L404.9 891.0L406.7 891.0L409.1 890.3L410.2 890.3L408.3 889.9L405.1 889.4L401.9 889.9L398.7 890.3L396.1 889.2L396.1 887.5L395.8 886.0L397.4 884.7L399.5 883.6L401.2 882.5L402.5 881.9L401.2 880.9L398.7 880.9L397.1 881.4L396.0 882.4L395.6 883.5L393.9 884.4L392.3 884.9L390.7 885.9L389.7 887.0L389.4 888.6L389.4 889.4L391.3 889.9L392.1 890.7L391.0 891.3L389.1 892.4L388.5 893.8L388.1 895.6L387.2 896.4L385.3 896.4L384.6 897.5L382.6 897.5L382.1 896.6L382.1 895.4L380.8 894.0L379.8 892.7L379.4 891.6L378.7 891.0L378.2 891.8L377.1 892.1L375.2 893.2L373.1 893.4L371.1 892.6L370.7 891.5L369.9 889.9L369.8 888.6L369.9 887.0L371.5 886.2L373.9 885.4L375.5 884.6L377.1 884.0L379.2 882.8L381.1 881.9L382.1 880.6L383.5 879.0L385.1 877.7L386.7 876.9L388.0 876.0L389.9 875.2L392.0 874.4L394.7 874.2L397.1 873.6L399.5 873.1L401.9 872.5L404.6 872.6L407.5 872.6L409.9 873.3L411.5 873.7L410.2 874.5L412.3 874.5L414.6 875.2L417.8 875.5L421.0 876.1L423.4 876.9L425.8 877.7L427.4 878.7L427.7 879.8L425.8 880.3L422.6 880.6L419.4 880.1L417.0 879.6L414.6 879.3L414.0 880.0L417.0 880.8L417.5 882.4L417.8 883.3L420.2 883.8L421.8 883.0L421.8 884.0L424.2 883.0L426.1 882.8L426.6 881.9L429.0 880.1L431.4 880.3L432.5 879.6L431.9 878.5L432.5 876.9L435.4 877.2L436.2 877.9L434.6 878.5L437.0 879.3L440.2 878.2L443.4 876.9L447.4 876.1L449.0 877.1L451.4 876.6L454.6 876.3L457.0 876.8L458.6 875.8L459.0 874.5L462.6 875.0L465.4 875.5L468.1 876.1L470.5 876.9L472.1 876.0L471.0 874.9L468.9 874.5L468.6 873.3L469.3 872.3L471.3 871.0L472.5 869.6L475.3 869.1L478.2 869.9L477.9 871.2L476.9 872.3L478.2 873.4L477.9 875.0L479.5 876.6L478.5 878.0L476.9 879.2L476.3 880.0L477.9 879.6L480.1 878.4L481.2 876.9L480.9 876.1L484.1 876.0L485.7 876.6L485.6 877.7L487.6 878.0L485.7 877.1L486.0 876.0L483.3 875.3L481.7 874.9L479.8 873.7L479.5 872.6L480.1 871.7L479.0 870.7L480.9 869.6L482.5 870.4L483.3 871.2L485.9 870.5L487.8 870.5L490.8 870.2L491.3 871.5L493.7 872.6L494.5 873.9L493.4 875.3L495.3 874.5L494.7 872.9L495.3 871.8L492.9 870.7L490.8 869.6L490.7 868.5L493.7 868.3L496.9 868.2L500.2 868.0L500.1 866.9L501.5 866.1L504.1 865.4L507.3 865.1L511.3 864.8L514.5 864.5L517.7 864.6L520.0 863.8L523.2 863.2L524.8 862.4L528.0 861.9L531.2 862.4L533.5 863.0L532.5 863.8L535.2 863.5L539.2 863.5L542.1 864.3L543.2 865.3L542.4 866.4L540.8 867.4L542.4 868.2L545.6 868.3L548.8 868.5L552.0 869.3L555.2 869.6L558.4 869.3L560.0 868.3L563.2 868.6L565.6 868.9L568.0 869.6L567.2 870.5L568.8 872.1L571.1 872.9L573.2 871.8L575.1 872.0L578.3 871.7L581.5 872.0L583.9 871.7L585.5 870.5L587.1 870.1L589.5 869.9L593.5 870.4L596.7 870.5L599.9 871.0L602.3 871.8L604.7 872.8L607.9 872.8L611.1 872.6L614.3 872.8L617.1 873.6L617.1 874.5L619.1 875.0L622.3 874.7L625.4 874.9L628.6 874.9L631.0 874.2L633.7 874.1L637.4 874.4L641.4 874.5L644.6 874.9L647.0 875.3L649.4 876.0L649.4 882.2L647.0 882.8L645.1 882.5L643.8 882.8L645.6 883.3L647.2 884.6L648.1 886.0L644.6 886.2L641.4 887.0L639.5 887.5L636.6 888.7L634.2 889.9L632.6 889.4L630.2 889.4L627.4 889.9L625.4 890.5L623.2 890.5L622.6 891.5L620.7 892.9L621.0 893.7L622.6 894.0L621.9 895.4L620.7 896.2L620.2 897.7L617.9 899.3L617.5 900.5L615.2 901.7L614.3 902.9L612.4 904.5L611.9 903.3L611.1 901.3L610.4 899.0L610.4 897.4L611.1 895.8L612.4 894.5L613.5 893.7L615.1 893.4L616.7 892.4L617.9 891.3L620.2 889.7L621.5 888.6L623.1 887.6L623.8 886.5L622.7 886.2L621.1 887.3L618.3 888.3L617.1 888.3L616.7 887.5L613.5 887.5L612.4 888.3L609.5 890.3L607.9 891.3L604.7 891.8L602.3 891.0L599.1 891.3L595.9 891.1L593.5 891.3L590.3 891.3L587.9 892.2L586.3 893.5L583.9 894.8L582.3 895.9L580.7 897.4L579.9 898.8L581.8 899.3L583.3 899.4L584.7 899.4L586.6 900.5L587.6 901.7L587.1 902.9L586.5 904.5L586.3 906.1L586.0 908.5L583.9 910.4L582.5 912.0L580.7 913.6L578.3 915.7L575.9 917.0L573.5 917.3L571.9 917.8L570.7 918.4L569.9 919.1L569.1 920.5L568.8 921.3L567.2 922.1L565.7 922.7L565.6 923.7L567.0 924.6L568.3 926.1L568.6 927.7L568.6 929.0L568.0 929.9L566.4 930.2L565.2 930.7L564.0 931.0L563.6 929.9L564.1 928.8L563.8 927.7L564.4 926.6L563.5 925.6L561.9 925.6L562.0 924.5L561.2 923.4L560.5 922.2L559.2 922.4L557.3 923.0L556.3 923.8L555.3 923.7L556.1 922.7L556.8 921.5L555.7 920.7L554.4 921.5L552.9 922.2L552.0 923.4L550.4 923.4L549.8 924.3L550.7 925.3L551.7 926.1L552.3 926.6L553.9 925.9L555.2 925.8L557.1 926.1L557.6 927.0L555.2 927.5L554.1 928.3L552.9 929.1L552.3 930.4L553.9 931.2L554.9 933.3L555.0 934.4L556.5 935.2L556.6 936.6L555.7 937.1L556.8 938.2L556.1 939.3L556.3 940.8L555.2 941.2L554.4 942.5L553.6 943.6L552.9 945.1L552.0 946.0L550.7 946.7L549.3 948.1L548.0 949.4L546.4 949.5L544.8 950.2L543.7 950.5L542.7 950.8L541.6 951.1L540.3 951.5L538.9 951.8L538.4 952.7L537.9 953.5L537.3 952.4L537.0 951.3L535.2 951.3L533.5 951.9L532.3 952.9L531.2 954.2L530.7 955.4L531.9 956.9L532.3 958.2L533.3 959.1L534.7 960.2L535.9 961.5L536.3 963.7L536.5 965.5L536.3 967.4L535.2 968.2L533.3 969.2L532.3 969.3L531.5 970.6L529.9 972.0L529.3 972.2L529.3 971.1L529.6 970.0L528.8 969.3L527.2 969.0L526.4 968.0L525.8 966.6L524.4 965.7L523.1 965.7L523.1 964.4L521.8 964.5L521.5 966.0L520.8 968.0L520.4 969.5L520.4 971.2L521.5 972.2L522.1 974.0L522.8 974.9L523.7 974.9L525.0 976.0L526.3 977.0L527.1 978.1L527.1 979.5L526.9 980.8L527.2 981.5L527.9 982.4L528.4 983.5L527.4 983.8L526.9 983.4L525.8 982.7L524.0 981.5L523.2 980.5L522.6 979.1L522.1 977.6L522.1 976.2L521.6 975.5L521.2 974.8L520.4 973.5L519.2 973.2L518.9 971.7L519.4 970.0L519.2 968.4L519.6 966.8L518.9 965.2L518.6 963.6L518.1 962.0L517.8 960.2L517.3 959.0L516.2 959.4L515.3 959.9L514.3 960.7L513.2 960.4L512.5 959.1L512.9 957.5L512.4 955.9L511.4 955.0L510.5 954.0L509.5 952.9L509.2 951.8L508.9 950.5L508.2 949.9L506.8 950.7L506.2 951.0L504.9 951.0L503.8 951.5L502.8 951.1L501.2 951.6L500.7 952.7L500.2 953.8L498.5 954.6L497.4 955.3L496.1 956.7L494.8 957.8L493.4 958.8L493.2 959.6L491.6 960.5L490.2 960.5L489.9 961.8L490.0 963.6L490.2 965.2L489.5 966.5L489.4 967.9L488.7 969.5L487.9 970.8L486.8 971.6L486.7 972.7L485.7 973.2L484.9 972.7L484.1 971.7L483.6 970.3L483.0 968.4L482.4 967.1L481.4 965.5L481.1 963.9L480.4 962.3L479.5 960.7L479.0 958.8L478.5 956.9L478.2 955.3L478.2 953.4L478.0 951.9L477.7 950.5L476.1 952.3L475.0 952.7L473.4 951.9L472.1 950.5L473.1 949.7L474.4 949.2L472.5 949.4L471.5 948.7L470.9 948.1L469.7 947.6L469.1 946.3L468.3 945.4L466.5 945.5L464.5 945.5L462.6 945.7L460.3 945.7L458.6 945.4L456.6 945.2L455.1 945.1L453.5 944.8L453.0 943.2L451.9 942.7L450.6 943.3L449.5 943.6L447.4 943.2L445.8 942.2L444.2 941.4L443.1 940.0L442.1 939.0L441.0 938.2L439.9 937.9L439.2 938.2L438.6 939.0L439.1 940.4L439.9 941.9L441.0 943.0L442.0 944.0L442.1 945.1L442.8 946.0L443.1 946.5L443.7 946.7L444.4 945.5L444.2 944.3L443.6 944.4L444.4 947.0L445.8 947.3L447.4 947.5L449.0 947.1L450.4 945.7L451.4 944.8L452.0 944.0L452.0 946.0L452.7 947.1L453.8 947.9L455.4 948.3L456.8 949.9L457.4 950.2L456.6 951.8L455.5 953.2L454.6 953.4L454.1 954.5L454.1 955.8L452.3 956.2L451.9 957.4L450.3 957.8L449.8 958.8L448.2 959.0L446.7 959.4L445.3 960.4L443.4 961.5L441.0 962.5L439.6 963.6L438.3 963.9L436.4 964.5L434.8 964.9L433.8 965.5L432.5 965.8L431.4 965.8L430.9 964.9L430.6 963.6L430.3 962.0L430.1 960.7L429.8 959.4L428.7 957.8L427.7 956.2L426.8 954.8L425.5 953.5L424.4 951.9L424.2 950.5L423.4 948.6L422.5 947.1L421.5 946.0L420.9 944.8L419.9 943.5L418.8 941.9L417.8 941.1L417.2 941.1L417.0 939.6L416.6 940.8L416.1 941.6L415.6 940.9L414.6 939.8L414.0 938.4L413.5 936.1L414.3 936.3L415.9 936.3L416.7 936.0L417.4 934.7L417.8 933.4L418.3 932.3L419.0 930.7L419.3 929.3L419.4 928.5L419.1 927.5L417.5 927.2L416.2 928.0L414.6 928.3L413.4 928.2L411.8 927.4L410.5 928.0L409.1 928.2L407.5 927.4L405.9 927.0L405.5 925.9L404.9 924.8L404.3 924.3L404.7 923.5L403.8 922.9L403.6 922.1L404.4 921.5L405.9 921.5L407.9 921.5L408.6 920.7L408.3 920.3L407.0 920.5L405.5 920.8L403.9 921.0L402.7 920.7L401.1 920.7L400.0 921.0L400.0 921.8L399.2 922.1L398.2 921.3L398.0 922.1L398.7 923.0L398.4 923.8L399.5 924.5L400.3 925.3L398.8 926.2L398.4 927.2L397.7 927.7L396.6 927.2L396.0 925.9L395.6 924.8L396.4 924.6L395.2 923.7L394.2 922.9L393.3 921.6L392.9 920.5L393.1 919.2L391.8 918.3L390.5 917.5L389.4 916.7L388.0 916.5L386.9 915.7L386.1 914.9L385.3 914.0L384.6 913.6L383.7 913.2L382.9 913.0L381.8 913.5L381.6 914.4L381.8 915.4L382.7 916.2L383.7 916.5L384.6 917.9L385.9 918.7L387.5 919.2L387.7 919.9L389.4 920.7L390.7 921.1L391.5 921.8L391.0 922.4L389.7 921.6L388.8 921.8L388.5 922.7L389.3 923.7L388.5 924.6L387.7 925.4L387.0 925.3L387.2 924.0L387.7 923.0L387.0 922.1L386.2 921.8L385.6 921.1L384.5 920.8L383.7 920.2L382.1 919.9L381.1 918.9L379.8 918.3L378.7 917.5L378.2 915.9L377.4 915.5L376.0 915.1L374.7 915.9L373.8 916.2L372.5 917.0L371.1 917.1L369.6 916.7L368.3 916.5L367.1 917.0L366.9 918.1L367.1 919.1L365.5 920.0L363.5 920.5L363.1 921.1L361.9 922.2L361.5 923.2L362.3 924.2L361.0 925.0L360.7 925.9L359.4 926.9L358.4 927.4L356.5 927.4L354.8 927.5L353.6 928.0ZM352.5 928.8L352.0 929.7L350.9 931.5L349.7 932.3L348.2 932.8L347.1 934.1L346.3 935.8L346.5 937.4L346.0 939.0L344.5 940.0L342.8 940.9L341.0 941.7L339.9 943.3L338.8 944.6L338.3 946.0L337.4 947.6L336.4 948.7L335.8 950.3L334.8 951.8L334.8 952.7L335.6 954.0L335.9 955.3L336.2 956.9L335.9 958.8L335.6 960.1L334.6 961.7L334.0 962.5L334.6 963.1L335.3 964.2L335.3 965.8L335.9 966.8L337.0 967.4L337.8 968.4L338.6 969.2L339.6 970.0L340.9 971.1L340.9 972.4L341.7 973.5L342.8 974.3L343.7 975.1L345.0 976.0L346.3 977.0L347.9 978.3L349.7 978.9L351.1 978.4L352.7 977.9L354.6 977.6L356.7 977.8L358.1 978.3L359.1 978.1L360.4 977.3L361.9 977.0L363.5 976.5L365.0 976.0L366.4 975.7L367.7 975.9L369.0 975.9L369.9 976.7L370.9 977.9L371.4 979.1L372.6 979.1L373.9 978.9L375.5 978.7L376.2 979.4L377.3 980.0L377.8 981.1L377.6 982.4L377.3 984.2L376.8 985.3L376.3 986.9L377.0 988.5L378.2 990.1L379.7 992.0L380.8 993.3L381.4 995.2L381.6 998.7L425.0 998.7L424.7 996.1L424.1 994.9L424.7 993.4L425.3 992.1L426.1 990.7L426.8 989.8L427.9 989.0L428.9 987.7L429.8 986.6L431.3 985.1L432.4 984.0L433.8 983.0L435.7 981.8L437.3 980.0L438.4 978.7L439.6 977.3L440.8 975.1L441.8 973.2L442.8 971.6L443.4 969.3L443.9 967.1L442.6 966.9L441.3 967.6L439.9 967.9L438.3 968.2L436.4 968.7L434.8 968.8L433.2 969.3L431.7 968.5L430.9 967.6L430.0 967.4L430.9 966.6L431.1 965.8L430.1 964.7L429.3 964.1L428.4 963.1L427.6 962.5L426.6 961.8L425.2 961.2L424.6 960.1L423.9 958.3L423.1 956.7L421.8 956.1L421.5 954.8L421.2 953.0L420.9 951.5L420.2 950.2L418.8 948.9L418.6 947.6L417.8 946.0L416.9 944.1L416.1 942.8L415.1 941.2L414.2 939.8L413.7 938.2L413.5 936.1L412.7 935.7L411.5 935.5L410.0 935.8L408.9 936.6L407.5 936.5L405.9 936.0L403.9 935.5L402.2 935.5L400.9 934.9L399.2 934.5L397.9 933.6L396.3 933.4L394.7 934.2L393.9 935.3L393.7 936.5L392.6 937.6L391.3 937.1L390.1 936.5L388.3 936.0L386.9 935.5L386.2 934.4L384.5 933.6L382.9 933.4L381.3 933.6L379.8 932.9L378.9 932.1L378.4 931.3L379.2 930.4L379.7 929.6L378.9 928.8L378.7 927.7L379.7 926.9L378.2 926.6L377.1 926.4L375.4 927.0L373.8 926.7L372.0 926.9L370.4 927.4L368.8 927.0L367.1 927.2L365.5 927.5L363.9 927.7L362.4 928.6L361.0 929.0L360.0 929.6L358.6 929.9L357.2 929.6L355.6 929.7L353.6 929.0ZM352.8 906.1L356.4 905.7L360.4 904.9L364.2 904.2L364.7 901.8L362.4 900.7L361.5 899.3L359.7 898.2L359.1 896.7L357.8 896.1L359.1 894.2L356.8 892.4L354.0 892.4L352.8 894.0L353.0 896.1L352.4 897.4L354.3 898.5L356.7 898.5L356.5 899.7L357.2 900.9L354.8 900.9L355.2 902.5L353.6 903.4L356.7 903.9L355.2 904.5L353.2 905.7ZM352.4 902.8L351.9 900.9L352.4 899.7L353.0 898.8L352.0 897.8L350.3 897.7L348.7 898.0L348.2 899.3L346.0 900.2L346.1 901.5L346.5 902.6L345.5 903.3L346.8 903.7L348.5 903.6L350.8 902.8ZM379.5 860.3L382.7 858.7L387.5 858.4L390.7 859.1L395.5 858.4L405.1 857.9L405.9 859.1L400.3 860.7L397.1 862.4L394.7 861.4L389.1 863.7L385.1 862.7L383.5 861.4ZM444.2 871.8L447.4 873.1L453.0 873.3L450.6 871.0L451.4 869.1L455.4 867.4L459.4 865.6L464.2 864.3L469.7 863.0L472.1 863.5L467.3 865.0L461.8 866.7L457.0 868.9L453.0 871.8L447.4 870.1L445.0 871.0ZM455.4 874.2L458.6 874.7L457.0 873.6ZM437.0 857.5L441.8 858.3L449.8 858.3L457.8 857.8L462.6 856.7L456.2 855.5L448.2 855.9L441.8 856.7ZM508.9 860.8L515.3 861.1L520.8 860.2L523.2 858.6L520.0 857.3L516.9 856.5L512.1 856.7L508.9 857.9L510.5 859.5ZM581.5 866.6L586.3 867.8L591.1 868.9L595.9 868.2L601.5 866.4L598.3 865.4L593.5 864.6L588.7 865.3L584.7 864.8L580.7 865.6ZM585.5 869.1L589.5 869.4L591.1 868.6L587.1 868.2ZM647.2 872.6L649.4 872.9L649.4 871.7L647.2 872.0ZM74.5 872.9L78.5 872.6L77.4 871.8L74.5 871.7ZM74.5 876.0L78.5 876.9L82.5 878.0L87.3 879.2L90.8 880.4L88.9 881.7L86.5 883.0L84.4 883.2L81.7 882.2L80.1 881.4L76.9 881.6L74.5 882.2ZM87.6 884.3L91.3 884.9L92.4 885.1L89.7 885.4L87.6 884.7ZM114.9 894.6L117.1 894.6L118.9 894.0L117.6 893.4L115.5 893.8ZM96.1 900.5L97.7 899.7L95.4 899.7ZM92.1 901.7L93.7 900.9L91.3 901.3ZM588.7 912.5L591.1 911.7L590.3 907.7L592.7 907.7L590.6 904.5L590.8 902.1L590.3 900.5L589.5 899.3L588.2 900.9L588.7 903.7L588.6 907.7L588.6 910.9ZM585.5 919.7L587.4 919.2L587.1 918.1L590.8 918.9L594.3 916.8L593.8 915.4L591.9 915.4L588.4 913.5L588.1 915.7L587.4 917.0L585.8 917.6L586.0 918.9ZM571.0 931.7L572.4 930.7L574.3 929.3L577.9 929.0L579.6 927.8L580.4 926.6L581.2 927.2L583.1 926.6L584.7 925.0L585.2 923.4L585.5 921.6L586.0 920.0L587.6 920.0L587.9 921.3L588.7 922.9L587.9 924.8L587.1 926.1L586.8 927.2L586.5 928.8L585.5 929.9L584.2 929.6L583.4 930.5L581.5 930.7L580.4 931.0L579.1 932.5L577.9 932.0L577.9 930.9L576.3 930.7L574.3 931.2L573.1 931.8L571.5 931.8ZM572.7 933.3L574.3 933.6L577.1 932.0L576.4 931.2L574.3 931.7L573.4 931.8ZM568.9 932.8L571.0 931.8L572.4 932.8L571.8 935.8L570.5 936.5L569.9 935.7L569.7 934.1ZM553.7 949.2L554.7 950.8L556.0 949.7L556.6 946.8L556.0 945.5L554.9 946.3L553.9 947.9ZM535.5 955.3L537.3 956.9L538.6 956.1L539.2 954.5L538.4 953.8L536.8 954.0L535.5 954.6ZM489.4 973.2L489.7 975.5L490.7 976.5L492.6 975.5L491.8 972.7L490.2 970.3L489.5 971.2ZM554.5 956.4L557.1 956.4L557.4 958.8L556.0 961.2L556.8 963.6L560.0 965.2L559.2 963.9L556.3 963.1L554.5 962.8L553.7 962.0L553.3 960.1L554.1 959.4ZM556.8 974.8L559.2 973.5L560.8 972.4L562.4 970.4L563.8 972.4L563.5 975.5L562.0 976.7L560.3 976.0L559.2 974.0L557.1 974.9ZM556.8 968.4L559.2 969.2L561.6 967.6L562.5 965.8L560.0 966.0L557.6 966.8ZM560.3 970.0L561.9 970.0L562.4 968.0L560.8 967.6ZM549.1 972.5L551.2 970.9L552.8 969.0L552.5 968.4L550.4 970.0ZM554.1 964.4L555.5 964.7L556.0 966.0L554.9 966.3L554.1 965.2ZM536.0 983.5L537.0 982.7L539.2 983.4L539.7 981.8L542.4 980.8L544.0 978.6L546.4 977.5L548.5 975.1L549.9 975.7L550.7 976.7L552.3 977.6L550.9 978.9L549.9 979.9L550.2 982.4L551.8 984.3L550.2 984.8L549.6 987.2L548.2 988.3L548.0 990.4L547.4 992.0L545.1 992.5L543.2 991.2L540.8 991.5L539.7 990.7L537.9 990.5L537.6 988.5L536.5 986.7L536.0 985.1ZM514.1 977.0L516.1 977.6L517.7 977.6L519.2 979.2L521.2 980.8L522.6 982.6L524.0 983.2L525.6 984.3L527.2 985.6L527.7 987.5L529.6 988.8L530.9 990.5L531.2 992.3L531.1 995.2L528.8 995.3L525.6 992.6L523.2 990.1L521.6 987.5L520.0 985.4L519.2 983.2L517.3 981.5L515.7 979.9L514.1 978.1ZM552.8 994.7L554.2 994.7L554.2 990.7L555.2 990.1L557.4 993.3L558.7 993.3L556.8 990.7L555.7 988.8L558.4 987.4L556.5 987.4L554.5 988.0L553.6 985.1L555.2 985.1L558.4 984.5L560.8 984.3L561.9 983.4L560.9 985.1L558.7 985.3L554.9 983.8L553.9 984.6L553.3 985.9L552.5 988.3L551.7 990.2L552.8 991.5ZM565.6 983.0L566.7 983.5L567.5 985.0L566.4 985.9L567.2 987.2L565.9 986.7L565.6 984.6ZM571.1 988.2L573.5 986.6L575.9 987.4L576.7 989.9L578.3 991.2L581.5 988.5L583.9 989.1L587.1 990.1L591.1 991.2L594.3 992.8L595.1 994.4L597.5 995.8L598.3 998.7L569.6 998.7L572.7 992.3L574.0 992.3L571.9 990.7L572.7 989.9L574.3 989.9L572.7 989.1ZM598.8 994.9L601.5 993.9L603.9 993.1L605.0 992.6L604.4 993.9L602.3 995.8L599.9 995.8ZM602.6 990.1L604.7 991.5L606.3 993.1L605.5 993.6L603.6 991.0ZM566.4 991.2L569.6 990.7L570.8 991.5L568.8 991.8L566.7 992.0ZM563.2 991.0L565.1 991.0L564.8 992.1L563.3 992.0ZM375.4 923.7L377.3 923.5L377.6 921.3L376.6 920.2L375.0 920.7L375.4 922.1ZM375.7 919.9L377.0 919.7L377.1 917.9L375.7 918.1ZM381.8 925.6L383.5 925.0L386.9 924.8L386.2 926.6L386.1 927.4L384.8 927.2L382.1 926.1ZM399.5 929.6L401.1 929.4L403.9 929.6L403.2 930.1L401.1 930.1ZM413.5 930.5L414.6 930.7L416.2 930.1L417.2 929.0L415.4 929.6L413.9 929.9ZM390.9 895.0L392.1 894.2L391.8 893.5ZM379.7 897.7L382.1 897.2L381.6 896.4L379.5 896.9ZM447.1 965.8L449.0 965.8L448.2 966.3ZM510.0 965.3L510.5 965.8L510.1 967.6L509.7 966.8ZM375.5 980.0L376.2 980.0L375.8 980.8ZM337.2 940.8L339.6 940.8L340.4 939.6L337.2 941.2ZM322.8 959.6L324.4 961.2L322.8 962.0ZM236.6 870.1L233.4 869.7L232.6 868.5L236.6 868.2L239.0 869.1ZM243.8 877.7L239.0 878.4L238.5 877.1L242.2 876.8ZM209.4 861.9L205.1 862.1L205.4 860.2L209.4 860.5ZM182.3 859.5L186.3 859.4L184.7 858.7ZM181.5 862.6L189.5 862.9L191.9 861.4L187.9 859.9L182.3 860.0L179.9 861.4ZM193.5 862.6L197.5 862.7L197.8 861.9L194.3 861.8ZM235.0 887.5L232.9 887.6L233.4 886.3L234.8 886.5ZM235.0 896.6L234.2 895.8L235.3 895.6ZM233.4 901.5L231.0 901.3L232.3 900.9ZM258.9 907.6L262.9 907.1L263.4 907.6L259.7 906.5ZM259.1 911.6L262.9 911.9L261.3 912.4ZM263.7 913.2L266.1 912.5L265.3 910.9L264.1 911.7ZM207.8 862.6L211.8 862.4L211.0 861.8L208.2 861.8ZM215.8 862.7L218.5 862.6L217.4 862.1ZM263.4 960.3L264.1 960.3L264.1 959.8L263.4 959.8ZM263.7 961.6L264.3 961.6L264.3 961.1L263.7 961.1ZM264.2 962.9L264.9 962.9L264.9 962.4L264.2 962.4ZM264.3 964.0L264.9 964.0L264.9 963.5L264.3 963.5ZM266.5 965.2L267.2 965.2L267.2 964.7L266.5 964.7ZM263.9 965.0L264.5 965.0L264.5 964.5L263.9 964.5ZM263.1 966.9L263.7 966.9L263.7 966.4L263.1 966.4ZM262.9 959.0L263.6 959.0L263.6 958.5L262.9 958.5ZM261.5 958.6L262.1 958.6L262.1 958.1L261.5 958.1ZM258.3 957.0L258.9 957.0L258.9 956.5L258.3 956.5ZM216.3 987.1L216.9 987.1L216.9 986.6L216.3 986.6ZM217.4 986.6L218.1 986.6L218.1 986.2L217.4 986.2ZM478.8 979.8L479.5 979.8L479.5 979.3L478.8 979.3ZM477.7 968.6L478.4 968.6L478.4 968.1L477.7 968.1ZM592.9 964.8L593.5 964.8L593.5 964.3L592.9 964.3ZM594.3 961.9L594.9 961.9L594.9 961.4L594.3 961.4ZM576.4 974.4L577.1 974.4L577.1 973.9L576.4 973.9ZM582.2 971.0L582.8 971.0L582.8 970.5L582.2 970.5ZM604.0 974.4L604.7 974.4L604.7 973.9L604.0 973.9ZM614.3 975.2L614.9 975.2L614.9 974.7L614.3 974.7ZM621.9 977.7L622.6 977.7L622.6 977.2L621.9 977.2ZM635.0 974.8L635.7 974.8L635.7 974.4L635.0 974.4ZM631.0 971.8L631.7 971.8L631.7 971.3L631.0 971.3ZM627.7 955.4L628.3 955.4L628.3 954.9L627.7 954.9ZM588.7 942.9L589.4 942.9L589.4 942.4L588.7 942.4ZM565.9 943.9L566.5 943.9L566.5 943.4L565.9 943.4ZM568.4 941.0L569.1 941.0L569.1 940.5L568.4 940.5ZM560.0 947.2L560.6 947.2L560.6 946.7L560.0 946.7ZM563.6 932.9L564.3 932.9L564.3 932.4L563.6 932.4ZM316.9 924.6L317.6 924.6L317.6 924.1L316.9 924.1ZM320.9 925.8L321.5 925.8L321.5 925.4L320.9 925.4ZM334.6 934.0L335.3 934.0L335.3 933.5L334.6 933.5ZM258.1 934.6L258.8 934.6L258.8 934.1L258.1 934.1ZM350.5 887.2L351.1 887.2L351.1 886.7L350.5 886.7ZM359.6 889.9L360.2 889.9L360.2 889.5L359.6 889.5ZM356.8 892.0L357.5 892.0L357.5 891.5L356.8 891.5ZM384.0 877.3L384.6 877.3L384.6 876.8L384.0 876.8ZM510.9 973.4L511.6 973.4L511.6 972.9L510.9 972.9ZM597.2 914.4L597.8 914.4L597.8 913.9L597.2 913.9ZM601.2 912.0L601.8 912.0L601.8 911.5L601.2 911.5ZM606.0 909.6L606.6 909.6L606.6 909.1L606.0 909.1ZM610.0 906.4L610.6 906.4L610.6 905.9L610.0 905.9ZM626.7 898.4L627.4 898.4L627.4 897.9L626.7 897.9ZM89.8 894.9L90.5 894.9L90.5 894.4L89.8 894.4ZM96.2 890.4L96.9 890.4L96.9 889.9L96.2 889.9ZM85.8 889.8L86.5 889.8L86.5 889.3L85.8 889.3ZM87.0 902.7L87.6 902.7L87.6 902.2L87.0 902.2ZM80.6 903.5L81.2 903.5L81.2 903.0L80.6 903.0ZM77.4 903.5L78.0 903.5L78.0 903.0L77.4 903.0ZM645.9 903.3L646.5 903.3L646.5 902.9L645.9 902.9ZM638.7 901.9L639.3 901.9L639.3 901.4L638.7 901.4ZM83.0 902.9L83.6 902.9L83.6 902.4L83.0 902.4ZM99.7 899.0L100.4 899.0L100.4 898.6L99.7 898.6ZM106.9 951.0L107.6 951.0L107.6 950.5L106.9 950.5ZM110.9 952.5L111.5 952.5L111.5 952.0L110.9 952.0ZM112.0 953.0L112.7 953.0L112.7 952.5L112.0 952.5ZM445.5 966.7L446.1 966.7L446.1 966.2L445.5 966.2ZM424.4 995.7L425.0 995.7L425.0 995.3L424.4 995.3ZM425.0 994.3L425.7 994.3L425.7 993.8L425.0 993.8Z" fill="none" stroke="#b4b4b4" stroke-width="1.8" stroke-linejoin="round"/></g>
<path d="M93.7 881.2L96.9 880.3L100.1 879.6L103.2 880.4L104.0 879.6L100.4 878.5L96.4 876.9L99.3 876.0L102.0 874.9L106.4 873.3L111.7 872.1L116.0 872.8L119.2 872.9L124.0 873.4L128.8 873.9L133.6 874.1L136.8 874.7L140.0 875.0L144.0 876.0L147.2 874.9L151.2 874.9L154.3 874.1L157.5 873.6L159.1 874.2L162.3 875.0L164.7 875.2L168.7 874.5L173.5 875.5L178.3 876.0L181.5 877.4L186.3 877.4L189.5 876.8L192.7 876.0L195.9 877.4L200.7 877.9L204.7 877.7L205.4 876.5L208.6 877.1L209.4 874.9L211.4 871.3L214.1 872.6L214.2 874.2L217.4 875.3L219.5 875.5L221.4 876.9L223.8 878.4L225.4 876.3L227.0 874.5L230.2 874.9L232.1 876.3L231.8 878.7L229.4 880.3L225.4 879.8L223.3 880.6L222.4 881.7L220.6 883.5L218.2 884.0L216.9 885.5L213.1 887.3L211.4 888.7L210.6 891.0L211.5 892.2L214.2 894.6L217.4 894.6L221.4 895.8L225.4 897.7L230.5 898.0L230.7 900.5L231.8 902.6L233.9 904.1L235.8 903.6L236.1 902.1L235.8 899.4L238.5 897.2L239.6 895.3L239.1 893.7L238.2 892.2L236.6 891.5L238.5 890.0L237.7 888.3L237.4 886.5L240.6 886.5L244.6 886.7L247.8 888.3L250.5 888.7L251.0 891.3L252.6 892.2L254.6 892.7L256.6 892.1L258.1 890.5L258.9 889.7L259.7 891.1L262.1 893.4L263.7 895.1L266.1 897.4L269.3 899.0L270.6 900.5L272.8 902.3L272.0 903.6L270.1 903.9L266.9 905.5L263.7 906.0L260.5 905.8L256.6 905.8L254.5 907.2L252.2 908.7L249.8 910.6L251.0 910.3L253.4 908.8L256.6 907.6L259.3 907.9L258.3 909.6L257.4 910.8L258.6 911.4L259.7 912.4L262.9 913.0L264.5 913.5L266.1 912.7L265.3 911.1L266.3 912.7L264.2 913.6L260.5 914.7L257.0 916.3L256.2 915.2L258.6 913.6L255.8 913.8L253.7 914.9L251.8 915.7L249.7 916.3L249.0 917.5L249.0 918.6L250.2 919.2L249.0 919.7L247.0 920.0L244.1 920.8L243.6 921.6L243.3 922.9L242.2 923.8L242.0 924.8L240.7 926.7L240.9 928.2L241.4 929.6L240.1 930.2L238.2 931.0L236.6 931.8L235.3 932.9L233.6 934.2L232.3 935.5L232.0 937.3L232.6 939.2L233.4 940.8L234.0 942.8L234.0 944.8L233.4 945.7L232.4 945.5L231.3 944.3L230.7 943.0L229.9 941.4L229.7 939.8L228.8 938.7L227.3 938.0L225.6 938.5L223.8 937.4L221.4 937.4L219.3 937.6L219.2 939.0L219.3 939.6L218.1 939.5L216.3 939.2L214.2 938.7L212.2 938.5L210.7 939.0L209.4 940.0L207.7 941.1L206.6 942.4L206.4 944.4L205.9 946.8L205.8 950.0L206.6 952.1L207.8 954.8L209.0 955.9L210.9 956.9L212.6 956.6L215.0 956.2L216.3 956.1L217.1 955.0L217.6 952.7L219.0 951.9L221.4 951.5L223.0 951.6L222.2 953.7L221.7 955.8L221.1 956.7L220.9 958.5L220.6 960.1L221.9 960.5L223.8 960.7L226.2 960.4L227.8 961.0L229.1 962.0L228.6 964.4L228.4 966.5L228.1 967.9L229.1 969.3L230.2 970.9L232.0 971.9L233.7 971.2L235.0 970.6L236.6 970.9L238.5 972.2L239.5 973.0L240.3 971.2L241.2 969.6L241.9 968.7L243.3 968.2L244.9 967.9L246.7 966.9L248.1 966.1L247.4 967.6L247.8 968.7L247.1 970.0L247.6 971.1L248.6 970.9L247.9 969.5L248.1 968.4L249.8 967.6L250.2 966.5L250.5 967.7L252.4 968.4L253.0 969.0L255.0 969.0L256.6 969.0L258.1 969.8L259.4 969.2L261.3 968.8L262.6 969.0L263.3 969.8L264.5 970.3L264.7 971.6L266.1 972.5L267.4 973.8L268.7 975.1L270.1 976.3L272.2 976.5L274.1 976.3L275.9 976.7L277.6 977.5L279.4 979.1L280.2 980.7L281.3 982.9L282.1 984.3L282.4 985.9L284.5 986.9L286.1 987.0L288.5 987.8L290.7 989.0L292.5 989.9L295.2 990.5L297.6 990.4L299.7 991.8L301.6 993.3L303.5 994.1L305.3 994.4L306.1 998.7L231.8 998.7L232.3 995.7L232.8 994.5L232.1 992.8L233.4 991.3L234.4 989.9L232.8 988.0L233.6 986.4L234.2 984.6L235.8 983.5L236.3 982.3L237.9 981.5L238.5 979.7L238.3 977.1L238.2 975.2L237.1 974.3L236.7 973.0L235.6 971.6L234.8 971.9L233.7 973.0L233.6 974.1L232.4 973.5L231.3 972.8L229.6 973.0L228.3 971.6L226.7 970.6L225.1 970.1L224.9 968.5L223.7 966.8L222.2 965.3L221.1 964.9L219.3 964.4L217.3 963.7L215.4 963.1L213.8 961.7L212.0 960.5L210.7 960.1L208.8 960.7L207.4 960.9L204.7 959.9L202.6 959.1L199.9 958.0L197.8 957.0L196.5 956.2L194.9 955.3L193.5 954.0L193.6 952.4L193.3 951.0L192.4 949.2L190.4 947.1L189.2 945.7L187.6 944.8L187.2 943.5L185.5 942.0L184.5 941.2L182.8 939.6L181.8 938.0L181.2 936.5L179.7 935.7L178.6 935.2L178.9 936.8L179.4 938.0L180.7 939.3L181.7 940.6L182.6 942.5L183.7 944.0L184.5 945.7L185.3 947.1L186.4 947.8L187.2 949.1L186.3 949.4L185.8 948.4L184.1 947.0L182.9 946.3L182.8 944.4L181.2 943.2L179.7 942.0L179.4 941.2L179.7 940.3L178.5 938.8L177.2 937.6L176.4 936.5L175.6 935.0L174.9 933.9L174.6 932.9L173.0 932.0L172.6 931.5L171.1 931.0L169.5 930.9L169.2 929.6L167.4 928.0L167.3 927.0L166.3 926.1L165.7 925.3L164.4 923.8L164.2 922.4L163.4 921.5L163.8 919.9L163.3 917.9L163.8 916.2L163.9 914.1L164.1 912.2L163.8 911.1L163.0 909.5L162.8 908.7L165.2 909.0L166.2 910.0L166.5 908.8L165.8 907.7L164.2 906.8L162.3 906.1L160.7 905.3L158.5 904.5L157.7 902.9L156.7 901.7L155.1 900.4L153.7 899.3L153.4 897.8L151.6 896.7L150.4 895.3L148.8 894.5L147.2 893.2L145.2 892.6L143.6 893.0L142.2 892.2L140.1 891.1L137.6 890.7L135.8 890.2L132.8 890.2L130.4 889.5L128.0 888.9L125.8 889.1L124.5 890.2L122.7 890.7L120.2 891.5L119.4 890.5L120.3 889.1L121.9 888.3L119.5 888.7L118.7 889.7L117.3 890.8L115.9 891.8L116.8 892.4L115.5 893.2L113.9 893.8L112.3 894.8L110.1 895.6L108.5 896.4L106.6 897.2L104.0 897.5L101.8 898.3L99.7 898.8L98.6 899.0L100.5 898.0L102.8 897.0L105.2 896.6L107.4 895.3L109.3 894.0L110.3 892.9L111.2 892.1L109.2 892.2L106.9 892.1L105.3 891.9L103.6 892.4L103.2 891.3L100.8 890.5L99.7 889.4L98.1 889.1L98.1 887.9L96.7 887.3L97.7 886.3L99.1 885.4L101.3 885.2L102.9 884.6L104.8 884.4L105.2 883.3L104.0 882.8L102.0 883.2L100.4 882.8L98.5 883.0L96.4 882.8L95.6 882.0L93.7 881.2ZM245.4 860.8L250.2 859.5L256.6 858.3L261.3 856.3L269.3 855.1L282.1 854.3L291.7 853.5L306.1 852.5L318.8 852.8L328.4 853.8L333.2 855.1L342.0 855.7L338.0 857.0L333.2 858.3L330.8 859.9L331.6 861.4L332.7 863.0L330.8 864.6L330.0 866.2L330.3 867.8L326.8 869.4L326.5 871.0L326.8 872.6L325.2 873.4L322.0 873.7L326.0 874.2L321.2 875.3L318.0 876.8L314.0 877.2L310.0 877.6L308.5 878.7L306.1 880.1L302.1 880.9L298.9 881.7L297.3 883.0L296.5 884.6L294.9 886.2L293.6 888.3L292.5 889.7L290.4 890.2L288.5 889.2L285.3 888.3L283.2 886.7L281.8 884.9L280.0 883.3L278.6 881.6L277.0 880.0L276.2 878.2L277.3 876.9L280.5 876.0L280.2 874.9L278.1 874.4L274.9 873.4L275.7 872.6L273.3 871.7L272.8 870.1L271.7 868.2L269.3 866.2L266.1 865.0L261.3 864.3L255.8 864.6L252.6 864.2L247.8 863.0L245.7 862.1L245.4 860.8ZM258.1 886.2L255.8 886.7L252.6 886.2L249.4 885.1L246.2 884.4L243.0 883.2L238.2 883.3L237.1 881.9L240.6 881.6L244.6 881.4L243.8 879.8L245.7 878.7L244.6 877.1L240.6 875.8L237.4 874.9L233.4 874.2L229.4 873.9L224.6 874.2L221.4 873.3L219.0 872.1L218.2 871.0L219.8 869.4L221.4 868.5L225.4 868.2L231.0 868.2L235.8 868.6L239.0 869.7L242.2 870.4L247.0 871.3L250.2 872.6L252.6 873.6L254.2 874.9L255.8 875.8L253.4 876.9L256.6 877.7L260.5 879.0L262.9 879.6L263.3 880.6L261.3 881.2L258.9 881.6L257.4 882.5L258.1 883.8L258.9 884.9L258.1 886.2ZM234.2 864.0L227.8 863.5L219.8 863.2L217.4 862.4L220.6 861.1L218.2 859.9L223.0 857.9L227.8 857.3L221.4 856.3L215.0 855.9L218.2 854.9L226.2 854.1L234.2 853.5L243.8 853.3L253.4 853.5L262.9 854.1L263.7 854.7L258.9 855.7L254.2 857.0L250.2 858.1L246.2 858.9L241.4 859.9L239.8 860.8L242.2 861.4L237.7 862.2L236.9 863.0ZM218.5 861.4L213.4 860.8L209.4 860.0L207.8 858.3L211.0 856.5L216.6 856.5L219.8 857.8L221.7 859.2L220.1 860.5ZM208.6 865.6L214.2 866.9L224.6 867.0L234.2 867.0L235.0 865.4L231.0 864.2L221.4 863.8L215.0 863.7L208.6 864.6ZM173.0 871.8L174.3 873.3L178.3 874.1L183.1 874.9L189.5 875.5L194.3 875.5L199.1 875.2L199.9 873.7L198.3 872.3L195.1 870.1L191.9 868.5L187.9 869.4L183.1 869.6L178.3 868.5L173.5 869.1L172.6 870.2ZM162.2 871.3L164.7 872.5L170.3 872.1L174.3 871.3L174.6 868.6L172.7 867.0L168.7 866.6L163.1 867.4L161.5 869.4ZM174.3 865.8L175.9 863.8L181.5 863.4L186.3 863.4L192.7 864.3L193.5 865.8L189.5 866.6L183.1 866.9L178.3 866.4ZM165.0 863.0L168.7 861.4L174.3 861.8L174.6 863.4L171.9 865.0L167.1 865.4ZM195.1 865.4L202.3 865.9L206.2 865.3L206.7 863.4L203.9 862.6L197.5 863.0ZM207.8 866.2L212.6 866.7L213.4 865.4L210.2 864.6ZM196.7 870.2L199.9 871.8L203.9 872.1L207.0 871.0L207.8 868.6L205.4 867.5L200.7 867.8L197.5 868.6ZM209.4 870.7L213.4 871.0L216.9 869.4L216.6 867.7L212.6 867.5L209.4 868.2ZM208.6 876.5L204.7 876.0L203.9 874.9L207.0 874.4L209.0 875.2ZM233.4 883.5L230.2 884.4L226.2 885.1L223.0 883.8L223.8 881.9L226.2 880.9L228.6 880.6L231.8 881.7ZM192.7 861.1L200.7 861.8L203.9 860.7L200.7 858.6L195.1 859.2ZM232.6 886.0L228.6 886.7L229.4 885.5L231.8 885.4ZM323.6 881.4L326.3 880.1L329.2 880.9L333.2 880.3L337.2 880.1L338.8 880.9L340.4 881.9L338.8 883.0L336.4 883.8L333.2 884.7L330.0 884.4L326.0 884.1L326.8 883.3L323.6 882.5L326.0 882.0ZM267.3 910.0L270.9 910.0L273.3 910.9L277.3 911.4L277.8 910.0L276.5 909.0L277.3 907.2L273.6 906.8L272.5 904.9L273.3 903.6L271.2 904.1L270.1 905.8L268.7 907.6L267.3 908.7ZM165.0 908.8L162.7 908.2L158.5 905.8L157.1 904.9L159.1 905.2L162.3 906.3L163.9 907.4ZM152.8 902.6L150.4 901.3L149.6 899.6L151.2 899.7L152.0 901.3ZM226.4 951.0L227.8 949.9L231.0 949.1L233.4 949.1L236.6 950.2L238.7 951.5L241.1 952.3L243.5 953.5L242.2 954.2L238.2 954.2L238.0 952.9L236.4 951.6L233.4 950.8L231.3 950.5L229.4 950.8L227.2 951.6ZM243.1 956.6L245.7 954.2L247.8 954.2L250.5 955.1L252.7 956.2L250.3 956.9L247.9 957.8L245.7 956.9ZM236.9 956.6L239.1 956.6L240.3 957.2L238.7 957.5L236.9 956.9ZM254.6 956.4L257.2 956.6L257.0 957.2L254.6 957.2ZM263.1 968.7L264.5 968.7L264.5 969.8L263.1 969.8ZM237.4 943.2L239.0 943.5L238.5 944.8ZM237.1 945.7L237.9 947.1L237.4 947.6ZM112.8 953.7L114.4 954.3L113.6 955.6L112.8 954.8ZM109.2 951.5L110.1 951.9L109.5 952.1ZM353.0 928.5L351.9 927.2L350.1 926.6L347.7 926.9L347.9 924.8L346.8 924.0L347.6 922.1L347.9 920.2L347.7 918.3L347.1 917.1L349.2 916.2L352.4 916.3L355.6 916.7L358.8 916.8L359.6 916.5L360.0 914.4L360.0 912.5L358.6 910.9L357.5 910.1L354.9 909.5L354.4 908.5L356.8 908.0L359.4 908.2L358.9 906.6L360.0 907.1L361.6 907.2L362.7 906.5L364.5 905.7L365.9 904.4L367.5 903.9L368.7 903.3L369.5 901.5L370.7 900.9L373.1 900.5L375.2 900.4L376.0 899.7L375.7 898.0L374.9 896.7L375.0 895.3L377.1 894.6L378.9 893.8L378.6 895.8L379.2 896.2L378.1 897.4L377.6 898.5L379.4 899.1L379.8 899.7L381.9 899.1L383.7 899.6L384.8 899.9L386.7 899.4L388.8 898.8L391.3 898.5L393.1 899.1L394.7 898.3L395.8 897.0L395.6 895.1L396.4 894.3L398.0 893.8L399.2 894.8L400.4 894.8L400.9 892.9L399.5 892.2L399.5 891.5L401.9 891.0L404.9 891.0L406.7 891.0L409.1 890.3L410.2 890.3L408.3 889.9L405.1 889.4L401.9 889.9L398.7 890.3L396.1 889.2L396.1 887.5L395.8 886.0L397.4 884.7L399.5 883.6L401.2 882.5L402.5 881.9L401.2 880.9L398.7 880.9L397.1 881.4L396.0 882.4L395.6 883.5L393.9 884.4L392.3 884.9L390.7 885.9L389.7 887.0L389.4 888.6L389.4 889.4L391.3 889.9L392.1 890.7L391.0 891.3L389.1 892.4L388.5 893.8L388.1 895.6L387.2 896.4L385.3 896.4L384.6 897.5L382.6 897.5L382.1 896.6L382.1 895.4L380.8 894.0L379.8 892.7L379.4 891.6L378.7 891.0L378.2 891.8L377.1 892.1L375.2 893.2L373.1 893.4L371.1 892.6L370.7 891.5L369.9 889.9L369.8 888.6L369.9 887.0L371.5 886.2L373.9 885.4L375.5 884.6L377.1 884.0L379.2 882.8L381.1 881.9L382.1 880.6L383.5 879.0L385.1 877.7L386.7 876.9L388.0 876.0L389.9 875.2L392.0 874.4L394.7 874.2L397.1 873.6L399.5 873.1L401.9 872.5L404.6 872.6L407.5 872.6L409.9 873.3L411.5 873.7L410.2 874.5L412.3 874.5L414.6 875.2L417.8 875.5L421.0 876.1L423.4 876.9L425.8 877.7L427.4 878.7L427.7 879.8L425.8 880.3L422.6 880.6L419.4 880.1L417.0 879.6L414.6 879.3L414.0 880.0L417.0 880.8L417.5 882.4L417.8 883.3L420.2 883.8L421.8 883.0L421.8 884.0L424.2 883.0L426.1 882.8L426.6 881.9L429.0 880.1L431.4 880.3L432.5 879.6L431.9 878.5L432.5 876.9L435.4 877.2L436.2 877.9L434.6 878.5L437.0 879.3L440.2 878.2L443.4 876.9L447.4 876.1L449.0 877.1L451.4 876.6L454.6 876.3L457.0 876.8L458.6 875.8L459.0 874.5L462.6 875.0L465.4 875.5L468.1 876.1L470.5 876.9L472.1 876.0L471.0 874.9L468.9 874.5L468.6 873.3L469.3 872.3L471.3 871.0L472.5 869.6L475.3 869.1L478.2 869.9L477.9 871.2L476.9 872.3L478.2 873.4L477.9 875.0L479.5 876.6L478.5 878.0L476.9 879.2L476.3 880.0L477.9 879.6L480.1 878.4L481.2 876.9L480.9 876.1L484.1 876.0L485.7 876.6L485.6 877.7L487.6 878.0L485.7 877.1L486.0 876.0L483.3 875.3L481.7 874.9L479.8 873.7L479.5 872.6L480.1 871.7L479.0 870.7L480.9 869.6L482.5 870.4L483.3 871.2L485.9 870.5L487.8 870.5L490.8 870.2L491.3 871.5L493.7 872.6L494.5 873.9L493.4 875.3L495.3 874.5L494.7 872.9L495.3 871.8L492.9 870.7L490.8 869.6L490.7 868.5L493.7 868.3L496.9 868.2L500.2 868.0L500.1 866.9L501.5 866.1L504.1 865.4L507.3 865.1L511.3 864.8L514.5 864.5L517.7 864.6L520.0 863.8L523.2 863.2L524.8 862.4L528.0 861.9L531.2 862.4L533.5 863.0L532.5 863.8L535.2 863.5L539.2 863.5L542.1 864.3L543.2 865.3L542.4 866.4L540.8 867.4L542.4 868.2L545.6 868.3L548.8 868.5L552.0 869.3L555.2 869.6L558.4 869.3L560.0 868.3L563.2 868.6L565.6 868.9L568.0 869.6L567.2 870.5L568.8 872.1L571.1 872.9L573.2 871.8L575.1 872.0L578.3 871.7L581.5 872.0L583.9 871.7L585.5 870.5L587.1 870.1L589.5 869.9L593.5 870.4L596.7 870.5L599.9 871.0L602.3 871.8L604.7 872.8L607.9 872.8L611.1 872.6L614.3 872.8L617.1 873.6L617.1 874.5L619.1 875.0L622.3 874.7L625.4 874.9L628.6 874.9L631.0 874.2L633.7 874.1L637.4 874.4L641.4 874.5L644.6 874.9L647.0 875.3L649.4 876.0L649.4 882.2L647.0 882.8L645.1 882.5L643.8 882.8L645.6 883.3L647.2 884.6L648.1 886.0L644.6 886.2L641.4 887.0L639.5 887.5L636.6 888.7L634.2 889.9L632.6 889.4L630.2 889.4L627.4 889.9L625.4 890.5L623.2 890.5L622.6 891.5L620.7 892.9L621.0 893.7L622.6 894.0L621.9 895.4L620.7 896.2L620.2 897.7L617.9 899.3L617.5 900.5L615.2 901.7L614.3 902.9L612.4 904.5L611.9 903.3L611.1 901.3L610.4 899.0L610.4 897.4L611.1 895.8L612.4 894.5L613.5 893.7L615.1 893.4L616.7 892.4L617.9 891.3L620.2 889.7L621.5 888.6L623.1 887.6L623.8 886.5L622.7 886.2L621.1 887.3L618.3 888.3L617.1 888.3L616.7 887.5L613.5 887.5L612.4 888.3L609.5 890.3L607.9 891.3L604.7 891.8L602.3 891.0L599.1 891.3L595.9 891.1L593.5 891.3L590.3 891.3L587.9 892.2L586.3 893.5L583.9 894.8L582.3 895.9L580.7 897.4L579.9 898.8L581.8 899.3L583.3 899.4L584.7 899.4L586.6 900.5L587.6 901.7L587.1 902.9L586.5 904.5L586.3 906.1L586.0 908.5L583.9 910.4L582.5 912.0L580.7 913.6L578.3 915.7L575.9 917.0L573.5 917.3L571.9 917.8L570.7 918.4L569.9 919.1L569.1 920.5L568.8 921.3L567.2 922.1L565.7 922.7L565.6 923.7L567.0 924.6L568.3 926.1L568.6 927.7L568.6 929.0L568.0 929.9L566.4 930.2L565.2 930.7L564.0 931.0L563.6 929.9L564.1 928.8L563.8 927.7L564.4 926.6L563.5 925.6L561.9 925.6L562.0 924.5L561.2 923.4L560.5 922.2L559.2 922.4L557.3 923.0L556.3 923.8L555.3 923.7L556.1 922.7L556.8 921.5L555.7 920.7L554.4 921.5L552.9 922.2L552.0 923.4L550.4 923.4L549.8 924.3L550.7 925.3L551.7 926.1L552.3 926.6L553.9 925.9L555.2 925.8L557.1 926.1L557.6 927.0L555.2 927.5L554.1 928.3L552.9 929.1L552.3 930.4L553.9 931.2L554.9 933.3L555.0 934.4L556.5 935.2L556.6 936.6L555.7 937.1L556.8 938.2L556.1 939.3L556.3 940.8L555.2 941.2L554.4 942.5L553.6 943.6L552.9 945.1L552.0 946.0L550.7 946.7L549.3 948.1L548.0 949.4L546.4 949.5L544.8 950.2L543.7 950.5L542.7 950.8L541.6 951.1L540.3 951.5L538.9 951.8L538.4 952.7L537.9 953.5L537.3 952.4L537.0 951.3L535.2 951.3L533.5 951.9L532.3 952.9L531.2 954.2L530.7 955.4L531.9 956.9L532.3 958.2L533.3 959.1L534.7 960.2L535.9 961.5L536.3 963.7L536.5 965.5L536.3 967.4L535.2 968.2L533.3 969.2L532.3 969.3L531.5 970.6L529.9 972.0L529.3 972.2L529.3 971.1L529.6 970.0L528.8 969.3L527.2 969.0L526.4 968.0L525.8 966.6L524.4 965.7L523.1 965.7L523.1 964.4L521.8 964.5L521.5 966.0L520.8 968.0L520.4 969.5L520.4 971.2L521.5 972.2L522.1 974.0L522.8 974.9L523.7 974.9L525.0 976.0L526.3 977.0L527.1 978.1L527.1 979.5L526.9 980.8L527.2 981.5L527.9 982.4L528.4 983.5L527.4 983.8L526.9 983.4L525.8 982.7L524.0 981.5L523.2 980.5L522.6 979.1L522.1 977.6L522.1 976.2L521.6 975.5L521.2 974.8L520.4 973.5L519.2 973.2L518.9 971.7L519.4 970.0L519.2 968.4L519.6 966.8L518.9 965.2L518.6 963.6L518.1 962.0L517.8 960.2L517.3 959.0L516.2 959.4L515.3 959.9L514.3 960.7L513.2 960.4L512.5 959.1L512.9 957.5L512.4 955.9L511.4 955.0L510.5 954.0L509.5 952.9L509.2 951.8L508.9 950.5L508.2 949.9L506.8 950.7L506.2 951.0L504.9 951.0L503.8 951.5L502.8 951.1L501.2 951.6L500.7 952.7L500.2 953.8L498.5 954.6L497.4 955.3L496.1 956.7L494.8 957.8L493.4 958.8L493.2 959.6L491.6 960.5L490.2 960.5L489.9 961.8L490.0 963.6L490.2 965.2L489.5 966.5L489.4 967.9L488.7 969.5L487.9 970.8L486.8 971.6L486.7 972.7L485.7 973.2L484.9 972.7L484.1 971.7L483.6 970.3L483.0 968.4L482.4 967.1L481.4 965.5L481.1 963.9L480.4 962.3L479.5 960.7L479.0 958.8L478.5 956.9L478.2 955.3L478.2 953.4L478.0 951.9L477.7 950.5L476.1 952.3L475.0 952.7L473.4 951.9L472.1 950.5L473.1 949.7L474.4 949.2L472.5 949.4L471.5 948.7L470.9 948.1L469.7 947.6L469.1 946.3L468.3 945.4L466.5 945.5L464.5 945.5L462.6 945.7L460.3 945.7L458.6 945.4L456.6 945.2L455.1 945.1L453.5 944.8L453.0 943.2L451.9 942.7L450.6 943.3L449.5 943.6L447.4 943.2L445.8 942.2L444.2 941.4L443.1 940.0L442.1 939.0L441.0 938.2L439.9 937.9L439.2 938.2L438.6 939.0L439.1 940.4L439.9 941.9L441.0 943.0L442.0 944.0L442.1 945.1L442.8 946.0L443.1 946.5L443.7 946.7L444.4 945.5L444.2 944.3L443.6 944.4L444.4 947.0L445.8 947.3L447.4 947.5L449.0 947.1L450.4 945.7L451.4 944.8L452.0 944.0L452.0 946.0L452.7 947.1L453.8 947.9L455.4 948.3L456.8 949.9L457.4 950.2L456.6 951.8L455.5 953.2L454.6 953.4L454.1 954.5L454.1 955.8L452.3 956.2L451.9 957.4L450.3 957.8L449.8 958.8L448.2 959.0L446.7 959.4L445.3 960.4L443.4 961.5L441.0 962.5L439.6 963.6L438.3 963.9L436.4 964.5L434.8 964.9L433.8 965.5L432.5 965.8L431.4 965.8L430.9 964.9L430.6 963.6L430.3 962.0L430.1 960.7L429.8 959.4L428.7 957.8L427.7 956.2L426.8 954.8L425.5 953.5L424.4 951.9L424.2 950.5L423.4 948.6L422.5 947.1L421.5 946.0L420.9 944.8L419.9 943.5L418.8 941.9L417.8 941.1L417.2 941.1L417.0 939.6L416.6 940.8L416.1 941.6L415.6 940.9L414.6 939.8L414.0 938.4L413.5 936.1L414.3 936.3L415.9 936.3L416.7 936.0L417.4 934.7L417.8 933.4L418.3 932.3L419.0 930.7L419.3 929.3L419.4 928.5L419.1 927.5L417.5 927.2L416.2 928.0L414.6 928.3L413.4 928.2L411.8 927.4L410.5 928.0L409.1 928.2L407.5 927.4L405.9 927.0L405.5 925.9L404.9 924.8L404.3 924.3L404.7 923.5L403.8 922.9L403.6 922.1L404.4 921.5L405.9 921.5L407.9 921.5L408.6 920.7L408.3 920.3L407.0 920.5L405.5 920.8L403.9 921.0L402.7 920.7L401.1 920.7L400.0 921.0L400.0 921.8L399.2 922.1L398.2 921.3L398.0 922.1L398.7 923.0L398.4 923.8L399.5 924.5L400.3 925.3L398.8 926.2L398.4 927.2L397.7 927.7L396.6 927.2L396.0 925.9L395.6 924.8L396.4 924.6L395.2 923.7L394.2 922.9L393.3 921.6L392.9 920.5L393.1 919.2L391.8 918.3L390.5 917.5L389.4 916.7L388.0 916.5L386.9 915.7L386.1 914.9L385.3 914.0L384.6 913.6L383.7 913.2L382.9 913.0L381.8 913.5L381.6 914.4L381.8 915.4L382.7 916.2L383.7 916.5L384.6 917.9L385.9 918.7L387.5 919.2L387.7 919.9L389.4 920.7L390.7 921.1L391.5 921.8L391.0 922.4L389.7 921.6L388.8 921.8L388.5 922.7L389.3 923.7L388.5 924.6L387.7 925.4L387.0 925.3L387.2 924.0L387.7 923.0L387.0 922.1L386.2 921.8L385.6 921.1L384.5 920.8L383.7 920.2L382.1 919.9L381.1 918.9L379.8 918.3L378.7 917.5L378.2 915.9L377.4 915.5L376.0 915.1L374.7 915.9L373.8 916.2L372.5 917.0L371.1 917.1L369.6 916.7L368.3 916.5L367.1 917.0L366.9 918.1L367.1 919.1L365.5 920.0L363.5 920.5L363.1 921.1L361.9 922.2L361.5 923.2L362.3 924.2L361.0 925.0L360.7 925.9L359.4 926.9L358.4 927.4L356.5 927.4L354.8 927.5L353.6 928.0ZM352.5 928.8L352.0 929.7L350.9 931.5L349.7 932.3L348.2 932.8L347.1 934.1L346.3 935.8L346.5 937.4L346.0 939.0L344.5 940.0L342.8 940.9L341.0 941.7L339.9 943.3L338.8 944.6L338.3 946.0L337.4 947.6L336.4 948.7L335.8 950.3L334.8 951.8L334.8 952.7L335.6 954.0L335.9 955.3L336.2 956.9L335.9 958.8L335.6 960.1L334.6 961.7L334.0 962.5L334.6 963.1L335.3 964.2L335.3 965.8L335.9 966.8L337.0 967.4L337.8 968.4L338.6 969.2L339.6 970.0L340.9 971.1L340.9 972.4L341.7 973.5L342.8 974.3L343.7 975.1L345.0 976.0L346.3 977.0L347.9 978.3L349.7 978.9L351.1 978.4L352.7 977.9L354.6 977.6L356.7 977.8L358.1 978.3L359.1 978.1L360.4 977.3L361.9 977.0L363.5 976.5L365.0 976.0L366.4 975.7L367.7 975.9L369.0 975.9L369.9 976.7L370.9 977.9L371.4 979.1L372.6 979.1L373.9 978.9L375.5 978.7L376.2 979.4L377.3 980.0L377.8 981.1L377.6 982.4L377.3 984.2L376.8 985.3L376.3 986.9L377.0 988.5L378.2 990.1L379.7 992.0L380.8 993.3L381.4 995.2L381.6 998.7L425.0 998.7L424.7 996.1L424.1 994.9L424.7 993.4L425.3 992.1L426.1 990.7L426.8 989.8L427.9 989.0L428.9 987.7L429.8 986.6L431.3 985.1L432.4 984.0L433.8 983.0L435.7 981.8L437.3 980.0L438.4 978.7L439.6 977.3L440.8 975.1L441.8 973.2L442.8 971.6L443.4 969.3L443.9 967.1L442.6 966.9L441.3 967.6L439.9 967.9L438.3 968.2L436.4 968.7L434.8 968.8L433.2 969.3L431.7 968.5L430.9 967.6L430.0 967.4L430.9 966.6L431.1 965.8L430.1 964.7L429.3 964.1L428.4 963.1L427.6 962.5L426.6 961.8L425.2 961.2L424.6 960.1L423.9 958.3L423.1 956.7L421.8 956.1L421.5 954.8L421.2 953.0L420.9 951.5L420.2 950.2L418.8 948.9L418.6 947.6L417.8 946.0L416.9 944.1L416.1 942.8L415.1 941.2L414.2 939.8L413.7 938.2L413.5 936.1L412.7 935.7L411.5 935.5L410.0 935.8L408.9 936.6L407.5 936.5L405.9 936.0L403.9 935.5L402.2 935.5L400.9 934.9L399.2 934.5L397.9 933.6L396.3 933.4L394.7 934.2L393.9 935.3L393.7 936.5L392.6 937.6L391.3 937.1L390.1 936.5L388.3 936.0L386.9 935.5L386.2 934.4L384.5 933.6L382.9 933.4L381.3 933.6L379.8 932.9L378.9 932.1L378.4 931.3L379.2 930.4L379.7 929.6L378.9 928.8L378.7 927.7L379.7 926.9L378.2 926.6L377.1 926.4L375.4 927.0L373.8 926.7L372.0 926.9L370.4 927.4L368.8 927.0L367.1 927.2L365.5 927.5L363.9 927.7L362.4 928.6L361.0 929.0L360.0 929.6L358.6 929.9L357.2 929.6L355.6 929.7L353.6 929.0ZM352.8 906.1L356.4 905.7L360.4 904.9L364.2 904.2L364.7 901.8L362.4 900.7L361.5 899.3L359.7 898.2L359.1 896.7L357.8 896.1L359.1 894.2L356.8 892.4L354.0 892.4L352.8 894.0L353.0 896.1L352.4 897.4L354.3 898.5L356.7 898.5L356.5 899.7L357.2 900.9L354.8 900.9L355.2 902.5L353.6 903.4L356.7 903.9L355.2 904.5L353.2 905.7ZM352.4 902.8L351.9 900.9L352.4 899.7L353.0 898.8L352.0 897.8L350.3 897.7L348.7 898.0L348.2 899.3L346.0 900.2L346.1 901.5L346.5 902.6L345.5 903.3L346.8 903.7L348.5 903.6L350.8 902.8ZM379.5 860.3L382.7 858.7L387.5 858.4L390.7 859.1L395.5 858.4L405.1 857.9L405.9 859.1L400.3 860.7L397.1 862.4L394.7 861.4L389.1 863.7L385.1 862.7L383.5 861.4ZM444.2 871.8L447.4 873.1L453.0 873.3L450.6 871.0L451.4 869.1L455.4 867.4L459.4 865.6L464.2 864.3L469.7 863.0L472.1 863.5L467.3 865.0L461.8 866.7L457.0 868.9L453.0 871.8L447.4 870.1L445.0 871.0ZM455.4 874.2L458.6 874.7L457.0 873.6ZM437.0 857.5L441.8 858.3L449.8 858.3L457.8 857.8L462.6 856.7L456.2 855.5L448.2 855.9L441.8 856.7ZM508.9 860.8L515.3 861.1L520.8 860.2L523.2 858.6L520.0 857.3L516.9 856.5L512.1 856.7L508.9 857.9L510.5 859.5ZM581.5 866.6L586.3 867.8L591.1 868.9L595.9 868.2L601.5 866.4L598.3 865.4L593.5 864.6L588.7 865.3L584.7 864.8L580.7 865.6ZM585.5 869.1L589.5 869.4L591.1 868.6L587.1 868.2ZM647.2 872.6L649.4 872.9L649.4 871.7L647.2 872.0ZM74.5 872.9L78.5 872.6L77.4 871.8L74.5 871.7ZM74.5 876.0L78.5 876.9L82.5 878.0L87.3 879.2L90.8 880.4L88.9 881.7L86.5 883.0L84.4 883.2L81.7 882.2L80.1 881.4L76.9 881.6L74.5 882.2ZM87.6 884.3L91.3 884.9L92.4 885.1L89.7 885.4L87.6 884.7ZM114.9 894.6L117.1 894.6L118.9 894.0L117.6 893.4L115.5 893.8ZM96.1 900.5L97.7 899.7L95.4 899.7ZM92.1 901.7L93.7 900.9L91.3 901.3ZM588.7 912.5L591.1 911.7L590.3 907.7L592.7 907.7L590.6 904.5L590.8 902.1L590.3 900.5L589.5 899.3L588.2 900.9L588.7 903.7L588.6 907.7L588.6 910.9ZM585.5 919.7L587.4 919.2L587.1 918.1L590.8 918.9L594.3 916.8L593.8 915.4L591.9 915.4L588.4 913.5L588.1 915.7L587.4 917.0L585.8 917.6L586.0 918.9ZM571.0 931.7L572.4 930.7L574.3 929.3L577.9 929.0L579.6 927.8L580.4 926.6L581.2 927.2L583.1 926.6L584.7 925.0L585.2 923.4L585.5 921.6L586.0 920.0L587.6 920.0L587.9 921.3L588.7 922.9L587.9 924.8L587.1 926.1L586.8 927.2L586.5 928.8L585.5 929.9L584.2 929.6L583.4 930.5L581.5 930.7L580.4 931.0L579.1 932.5L577.9 932.0L577.9 930.9L576.3 930.7L574.3 931.2L573.1 931.8L571.5 931.8ZM572.7 933.3L574.3 933.6L577.1 932.0L576.4 931.2L574.3 931.7L573.4 931.8ZM568.9 932.8L571.0 931.8L572.4 932.8L571.8 935.8L570.5 936.5L569.9 935.7L569.7 934.1ZM553.7 949.2L554.7 950.8L556.0 949.7L556.6 946.8L556.0 945.5L554.9 946.3L553.9 947.9ZM535.5 955.3L537.3 956.9L538.6 956.1L539.2 954.5L538.4 953.8L536.8 954.0L535.5 954.6ZM489.4 973.2L489.7 975.5L490.7 976.5L492.6 975.5L491.8 972.7L490.2 970.3L489.5 971.2ZM554.5 956.4L557.1 956.4L557.4 958.8L556.0 961.2L556.8 963.6L560.0 965.2L559.2 963.9L556.3 963.1L554.5 962.8L553.7 962.0L553.3 960.1L554.1 959.4ZM556.8 974.8L559.2 973.5L560.8 972.4L562.4 970.4L563.8 972.4L563.5 975.5L562.0 976.7L560.3 976.0L559.2 974.0L557.1 974.9ZM556.8 968.4L559.2 969.2L561.6 967.6L562.5 965.8L560.0 966.0L557.6 966.8ZM560.3 970.0L561.9 970.0L562.4 968.0L560.8 967.6ZM549.1 972.5L551.2 970.9L552.8 969.0L552.5 968.4L550.4 970.0ZM554.1 964.4L555.5 964.7L556.0 966.0L554.9 966.3L554.1 965.2ZM536.0 983.5L537.0 982.7L539.2 983.4L539.7 981.8L542.4 980.8L544.0 978.6L546.4 977.5L548.5 975.1L549.9 975.7L550.7 976.7L552.3 977.6L550.9 978.9L549.9 979.9L550.2 982.4L551.8 984.3L550.2 984.8L549.6 987.2L548.2 988.3L548.0 990.4L547.4 992.0L545.1 992.5L543.2 991.2L540.8 991.5L539.7 990.7L537.9 990.5L537.6 988.5L536.5 986.7L536.0 985.1ZM514.1 977.0L516.1 977.6L517.7 977.6L519.2 979.2L521.2 980.8L522.6 982.6L524.0 983.2L525.6 984.3L527.2 985.6L527.7 987.5L529.6 988.8L530.9 990.5L531.2 992.3L531.1 995.2L528.8 995.3L525.6 992.6L523.2 990.1L521.6 987.5L520.0 985.4L519.2 983.2L517.3 981.5L515.7 979.9L514.1 978.1ZM552.8 994.7L554.2 994.7L554.2 990.7L555.2 990.1L557.4 993.3L558.7 993.3L556.8 990.7L555.7 988.8L558.4 987.4L556.5 987.4L554.5 988.0L553.6 985.1L555.2 985.1L558.4 984.5L560.8 984.3L561.9 983.4L560.9 985.1L558.7 985.3L554.9 983.8L553.9 984.6L553.3 985.9L552.5 988.3L551.7 990.2L552.8 991.5ZM565.6 983.0L566.7 983.5L567.5 985.0L566.4 985.9L567.2 987.2L565.9 986.7L565.6 984.6ZM571.1 988.2L573.5 986.6L575.9 987.4L576.7 989.9L578.3 991.2L581.5 988.5L583.9 989.1L587.1 990.1L591.1 991.2L594.3 992.8L595.1 994.4L597.5 995.8L598.3 998.7L569.6 998.7L572.7 992.3L574.0 992.3L571.9 990.7L572.7 989.9L574.3 989.9L572.7 989.1ZM598.8 994.9L601.5 993.9L603.9 993.1L605.0 992.6L604.4 993.9L602.3 995.8L599.9 995.8ZM602.6 990.1L604.7 991.5L606.3 993.1L605.5 993.6L603.6 991.0ZM566.4 991.2L569.6 990.7L570.8 991.5L568.8 991.8L566.7 992.0ZM563.2 991.0L565.1 991.0L564.8 992.1L563.3 992.0ZM375.4 923.7L377.3 923.5L377.6 921.3L376.6 920.2L375.0 920.7L375.4 922.1ZM375.7 919.9L377.0 919.7L377.1 917.9L375.7 918.1ZM381.8 925.6L383.5 925.0L386.9 924.8L386.2 926.6L386.1 927.4L384.8 927.2L382.1 926.1ZM399.5 929.6L401.1 929.4L403.9 929.6L403.2 930.1L401.1 930.1ZM413.5 930.5L414.6 930.7L416.2 930.1L417.2 929.0L415.4 929.6L413.9 929.9ZM390.9 895.0L392.1 894.2L391.8 893.5ZM379.7 897.7L382.1 897.2L381.6 896.4L379.5 896.9ZM447.1 965.8L449.0 965.8L448.2 966.3ZM510.0 965.3L510.5 965.8L510.1 967.6L509.7 966.8ZM375.5 980.0L376.2 980.0L375.8 980.8ZM337.2 940.8L339.6 940.8L340.4 939.6L337.2 941.2ZM322.8 959.6L324.4 961.2L322.8 962.0ZM236.6 870.1L233.4 869.7L232.6 868.5L236.6 868.2L239.0 869.1ZM243.8 877.7L239.0 878.4L238.5 877.1L242.2 876.8ZM209.4 861.9L205.1 862.1L205.4 860.2L209.4 860.5ZM182.3 859.5L186.3 859.4L184.7 858.7ZM181.5 862.6L189.5 862.9L191.9 861.4L187.9 859.9L182.3 860.0L179.9 861.4ZM193.5 862.6L197.5 862.7L197.8 861.9L194.3 861.8ZM235.0 887.5L232.9 887.6L233.4 886.3L234.8 886.5ZM235.0 896.6L234.2 895.8L235.3 895.6ZM233.4 901.5L231.0 901.3L232.3 900.9ZM258.9 907.6L262.9 907.1L263.4 907.6L259.7 906.5ZM259.1 911.6L262.9 911.9L261.3 912.4ZM263.7 913.2L266.1 912.5L265.3 910.9L264.1 911.7ZM207.8 862.6L211.8 862.4L211.0 861.8L208.2 861.8ZM215.8 862.7L218.5 862.6L217.4 862.1ZM263.4 960.3L264.1 960.3L264.1 959.8L263.4 959.8ZM263.7 961.6L264.3 961.6L264.3 961.1L263.7 961.1ZM264.2 962.9L264.9 962.9L264.9 962.4L264.2 962.4ZM264.3 964.0L264.9 964.0L264.9 963.5L264.3 963.5ZM266.5 965.2L267.2 965.2L267.2 964.7L266.5 964.7ZM263.9 965.0L264.5 965.0L264.5 964.5L263.9 964.5ZM263.1 966.9L263.7 966.9L263.7 966.4L263.1 966.4ZM262.9 959.0L263.6 959.0L263.6 958.5L262.9 958.5ZM261.5 958.6L262.1 958.6L262.1 958.1L261.5 958.1ZM258.3 957.0L258.9 957.0L258.9 956.5L258.3 956.5ZM216.3 987.1L216.9 987.1L216.9 986.6L216.3 986.6ZM217.4 986.6L218.1 986.6L218.1 986.2L217.4 986.2ZM478.8 979.8L479.5 979.8L479.5 979.3L478.8 979.3ZM477.7 968.6L478.4 968.6L478.4 968.1L477.7 968.1ZM592.9 964.8L593.5 964.8L593.5 964.3L592.9 964.3ZM594.3 961.9L594.9 961.9L594.9 961.4L594.3 961.4ZM576.4 974.4L577.1 974.4L577.1 973.9L576.4 973.9ZM582.2 971.0L582.8 971.0L582.8 970.5L582.2 970.5ZM604.0 974.4L604.7 974.4L604.7 973.9L604.0 973.9ZM614.3 975.2L614.9 975.2L614.9 974.7L614.3 974.7ZM621.9 977.7L622.6 977.7L622.6 977.2L621.9 977.2ZM635.0 974.8L635.7 974.8L635.7 974.4L635.0 974.4ZM631.0 971.8L631.7 971.8L631.7 971.3L631.0 971.3ZM627.7 955.4L628.3 955.4L628.3 954.9L627.7 954.9ZM588.7 942.9L589.4 942.9L589.4 942.4L588.7 942.4ZM565.9 943.9L566.5 943.9L566.5 943.4L565.9 943.4ZM568.4 941.0L569.1 941.0L569.1 940.5L568.4 940.5ZM560.0 947.2L560.6 947.2L560.6 946.7L560.0 946.7ZM563.6 932.9L564.3 932.9L564.3 932.4L563.6 932.4ZM316.9 924.6L317.6 924.6L317.6 924.1L316.9 924.1ZM320.9 925.8L321.5 925.8L321.5 925.4L320.9 925.4ZM334.6 934.0L335.3 934.0L335.3 933.5L334.6 933.5ZM258.1 934.6L258.8 934.6L258.8 934.1L258.1 934.1ZM350.5 887.2L351.1 887.2L351.1 886.7L350.5 886.7ZM359.6 889.9L360.2 889.9L360.2 889.5L359.6 889.5ZM356.8 892.0L357.5 892.0L357.5 891.5L356.8 891.5ZM384.0 877.3L384.6 877.3L384.6 876.8L384.0 876.8ZM510.9 973.4L511.6 973.4L511.6 972.9L510.9 972.9ZM597.2 914.4L597.8 914.4L597.8 913.9L597.2 913.9ZM601.2 912.0L601.8 912.0L601.8 911.5L601.2 911.5ZM606.0 909.6L606.6 909.6L606.6 909.1L606.0 909.1ZM610.0 906.4L610.6 906.4L610.6 905.9L610.0 905.9ZM626.7 898.4L627.4 898.4L627.4 897.9L626.7 897.9ZM89.8 894.9L90.5 894.9L90.5 894.4L89.8 894.4ZM96.2 890.4L96.9 890.4L96.9 889.9L96.2 889.9ZM85.8 889.8L86.5 889.8L86.5 889.3L85.8 889.3ZM87.0 902.7L87.6 902.7L87.6 902.2L87.0 902.2ZM80.6 903.5L81.2 903.5L81.2 903.0L80.6 903.0ZM77.4 903.5L78.0 903.5L78.0 903.0L77.4 903.0ZM645.9 903.3L646.5 903.3L646.5 902.9L645.9 902.9ZM638.7 901.9L639.3 901.9L639.3 901.4L638.7 901.4ZM83.0 902.9L83.6 902.9L83.6 902.4L83.0 902.4ZM99.7 899.0L100.4 899.0L100.4 898.6L99.7 898.6ZM106.9 951.0L107.6 951.0L107.6 950.5L106.9 950.5ZM110.9 952.5L111.5 952.5L111.5 952.0L110.9 952.0ZM112.0 953.0L112.7 953.0L112.7 952.5L112.0 952.5ZM445.5 966.7L446.1 966.7L446.1 966.2L445.5 966.2ZM424.4 995.7L425.0 995.7L425.0 995.3L424.4 995.3ZM425.0 994.3L425.7 994.3L425.7 993.8L425.0 993.8Z" fill="none" stroke="#8a8a8a" stroke-width="0.8" stroke-linejoin="round"/>
<path d="M436.7 915.2L437.8 913.3L440.2 911.7L444.2 910.9L446.6 911.2L446.9 913.6L443.9 914.7L443.9 917.0L446.1 918.6L446.3 920.0L447.9 921.1L447.1 923.2L448.0 926.2L445.0 927.4L442.3 926.6L440.4 925.9L440.0 924.6L440.8 921.8L442.3 921.5L441.2 921.0L439.9 919.4L438.1 917.6L437.6 916.5ZM408.3 920.2L411.8 920.3L415.4 918.9L418.2 918.9L420.7 920.0L423.1 920.7L425.8 920.5L428.2 919.7L428.4 917.9L426.1 916.7L423.9 915.2L422.0 914.6L420.4 913.8L418.6 914.1L417.0 914.9L415.4 914.9L413.9 913.5L415.4 912.5L412.7 911.7L411.1 911.7L410.2 912.8L409.2 913.6L407.8 915.4L406.7 916.8L406.5 917.9L406.7 919.5ZM418.0 913.6L420.4 913.5L421.8 912.5L423.4 911.6L424.7 910.6L423.0 910.8L420.7 911.4L418.3 912.0L417.7 912.8ZM214.9 911.4L217.4 911.6L220.6 910.9L223.8 911.7L226.8 911.7L226.5 910.1L224.6 909.3L220.9 908.5L219.0 909.3L216.6 910.4ZM221.7 918.9L222.2 919.4L223.8 918.4L224.3 916.5L224.0 914.9L225.4 913.3L226.2 912.8L223.8 912.8L221.9 914.6L221.6 916.5ZM226.7 912.7L228.6 913.6L228.9 915.2L230.2 917.0L231.5 916.7L231.5 914.3L233.4 913.6L234.2 914.7L232.6 912.5L229.4 912.2L227.0 912.4ZM228.6 919.4L231.8 919.7L235.8 917.8L233.4 917.9L230.2 918.9ZM234.5 916.8L235.8 917.0L239.8 916.7L240.3 915.5L238.2 915.7L235.3 916.2ZM207.0 905.7L208.3 904.5L206.2 902.1L204.0 900.1L203.5 901.0L205.8 903.7ZM175.1 888.6L179.9 887.8L184.7 886.5L187.9 885.7L183.9 886.0L178.3 887.1L175.9 887.8ZM162.3 882.2L168.7 881.7L172.7 880.6L170.3 879.2L165.5 880.0L160.7 881.2ZM183.9 892.6L189.5 891.3L190.3 891.8L184.7 892.9ZM527.7 903.4L530.4 903.6L532.3 902.0L535.1 900.2L537.0 897.0L536.5 896.7L534.4 899.0L532.0 901.0L529.3 902.6ZM479.3 912.2L480.9 911.2L483.3 911.7L484.9 911.7L488.1 911.7L488.1 912.5L484.1 912.7L481.7 912.4ZM409.9 888.6L411.9 889.4L414.3 888.6L413.1 887.5L410.7 887.8ZM417.0 888.6L419.4 888.1L418.6 886.2L417.0 886.7ZM412.6 987.5L414.6 986.2L416.2 985.6L417.5 986.7L415.9 989.9L413.4 989.9L412.4 988.8ZM455.1 911.7L457.0 912.2L458.1 913.6L457.0 915.2L455.4 914.7L454.9 913.2ZM381.8 892.1L384.0 892.2L383.5 891.3L381.9 891.3ZM483.6 918.4L486.8 918.7L487.3 918.3L484.9 917.8ZM383.5 964.4L385.1 963.9L384.8 965.5Z" fill="#fff" stroke="#8c8c8c" stroke-width="0.8" stroke-linejoin="round"/>
<path d="M280.8 986.4L282.9 985.8L284.5 986.4L284.8 987.8L283.4 988.8L281.3 988.5Z" fill="none" stroke="#8a8a8a" stroke-width="0.8"/>
</g>
<rect x="74.5" y="842.3" width="574.90" height="151.60" fill="none" stroke="#444" stroke-width="1.1"/>
<text x="66.9" y="852.0" text-anchor="end" font-size="18.5" font-family="'Liberation Serif', serif" fill="#000">90<tspan dy="-9.7" font-size="14">o</tspan><tspan dy="9.7">N</tspan></text>
<text x="66.9" y="900.2" text-anchor="end" font-size="18.5" font-family="'Liberation Serif', serif" fill="#000">60<tspan dy="-9.7" font-size="14">o</tspan><tspan dy="9.7">N</tspan></text>
<text x="66.9" y="948.1" text-anchor="end" font-size="18.5" font-family="'Liberation Serif', serif" fill="#000">30<tspan dy="-9.7" font-size="14">o</tspan><tspan dy="9.7">N</tspan></text>
<text x="66.9" y="995.8" text-anchor="end" font-size="18.5" font-family="'Liberation Serif', serif" fill="#000">0<tspan dy="-9.7" font-size="14">o</tspan></text>
<text x="72.00" y="1024.7" text-anchor="middle" font-size="18.5" font-family="'Liberation Serif', serif" fill="#000">180<tspan dy="-9.7" font-size="14">o</tspan></text>
<text x="170.62" y="1024.7" text-anchor="middle" font-size="18.5" font-family="'Liberation Serif', serif" fill="#000">120<tspan dy="-9.7" font-size="14">o</tspan><tspan dy="9.7">W</tspan></text>
<text x="266.43" y="1024.7" text-anchor="middle" font-size="18.5" font-family="'Liberation Serif', serif" fill="#000">60<tspan dy="-9.7" font-size="14">o</tspan><tspan dy="9.7">W</tspan></text>
<text x="458.07" y="1024.7" text-anchor="middle" font-size="18.5" font-family="'Liberation Serif', serif" fill="#000">60<tspan dy="-9.7" font-size="14">o</tspan><tspan dy="9.7">E</tspan></text>
<text x="553.88" y="1024.7" text-anchor="middle" font-size="18.5" font-family="'Liberation Serif', serif" fill="#000">120<tspan dy="-9.7" font-size="14">o</tspan><tspan dy="9.7">E</tspan></text>
<text x="646.90" y="1024.7" text-anchor="middle" font-size="18.5" font-family="'Liberation Serif', serif" fill="#000">180<tspan dy="-9.7" font-size="14">o</tspan></text>
<text x="361.95" y="1018.4" text-anchor="middle" font-size="18.5" font-family="'Liberation Serif', serif" fill="#000">0</text>
<text x="85.9" y="868.5" font-size="37" font-weight="bold" font-family="'Liberation Serif', serif" fill="#000">c</text>
<text x="41.4" y="1055.4" font-size="19.3" font-family="'Liberation Serif', serif" fill="#000">Decadal trends in future snow drought intensity (D4) under SSP245 (10<tspan dy="-9.3" font-size="14">-2</tspan><tspan dy="9.3"> decade</tspan><tspan dy="-9.3" font-size="14">-1</tspan><tspan dy="9.3">)</tspan></text>
<defs><linearGradient id="gneg" x1="0" x2="1" y1="0" y2="0"><stop offset="0" stop-color="#a0a444"/><stop offset="0.5" stop-color="#cad09a"/><stop offset="1" stop-color="#ffffff"/></linearGradient><linearGradient id="gpos" x1="0" x2="1" y1="0" y2="0"><stop offset="0" stop-color="#f5d4f2"/><stop offset="0.5" stop-color="#f87ce0"/><stop offset="1" stop-color="#ff3ac4"/></linearGradient></defs>
<rect x="74.2" y="1065.4" width="287.50" height="18.80" fill="url(#gneg)"/>
<rect x="361.70" y="1065.4" width="287.50" height="18.80" fill="url(#gpos)"/>
<rect x="74.2" y="1065.4" width="575.00" height="18.80" fill="none" stroke="#333" stroke-width="1.2"/>
<text x="74.50" y="1108" text-anchor="middle" font-size="16" font-family="'Liberation Serif', serif" fill="#000">-5</text>
<line x1="131.70" y1="1084.2" x2="131.70" y2="1078.2" stroke="#333" stroke-width="1.1"/>
<text x="132.00" y="1108" text-anchor="middle" font-size="16" font-family="'Liberation Serif', serif" fill="#000">-4</text>
<line x1="189.20" y1="1084.2" x2="189.20" y2="1078.2" stroke="#333" stroke-width="1.1"/>
<text x="189.50" y="1108" text-anchor="middle" font-size="16" font-family="'Liberation Serif', serif" fill="#000">-3</text>
<line x1="246.70" y1="1084.2" x2="246.70" y2="1078.2" stroke="#333" stroke-width="1.1"/>
<text x="247.00" y="1108" text-anchor="middle" font-size="16" font-family="'Liberation Serif', serif" fill="#000">-2</text>
<line x1="304.20" y1="1084.2" x2="304.20" y2="1078.2" stroke="#333" stroke-width="1.1"/>
<text x="304.50" y="1108" text-anchor="middle" font-size="16" font-family="'Liberation Serif', serif" fill="#000">-1</text>
<line x1="361.70" y1="1084.2" x2="361.70" y2="1078.2" stroke="#333" stroke-width="1.1"/>
<text x="362.00" y="1108" text-anchor="middle" font-size="16" font-family="'Liberation Serif', serif" fill="#000">0</text>
<line x1="419.20" y1="1084.2" x2="419.20" y2="1078.2" stroke="#333" stroke-width="1.1"/>
<text x="419.50" y="1108" text-anchor="middle" font-size="16" font-family="'Liberation Serif', serif" fill="#000">1</text>
<line x1="476.70" y1="1084.2" x2="476.70" y2="1078.2" stroke="#333" stroke-width="1.1"/>
<text x="477.00" y="1108" text-anchor="middle" font-size="16" font-family="'Liberation Serif', serif" fill="#000">2</text>
<line x1="534.20" y1="1084.2" x2="534.20" y2="1078.2" stroke="#333" stroke-width="1.1"/>
<text x="534.50" y="1108" text-anchor="middle" font-size="16" font-family="'Liberation Serif', serif" fill="#000">3</text>
<line x1="591.70" y1="1084.2" x2="591.70" y2="1078.2" stroke="#333" stroke-width="1.1"/>
<text x="592.00" y="1108" text-anchor="middle" font-size="16" font-family="'Liberation Serif', serif" fill="#000">4</text>
<text x="649.50" y="1108" text-anchor="middle" font-size="16" font-family="'Liberation Serif', serif" fill="#000">5</text>
</svg>
</body></html>
